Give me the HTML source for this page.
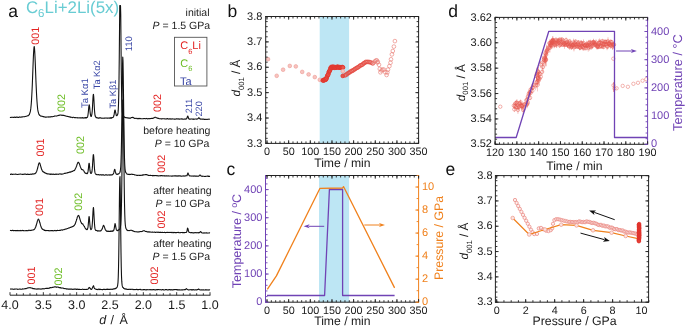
<!DOCTYPE html>
<html><head><meta charset="utf-8"><style>
html,body{margin:0;padding:0;background:#fff;}
svg{display:block;will-change:transform;}
text{font-family:"Liberation Sans", sans-serif;text-rendering:geometricPrecision;}
</style></head><body>
<svg xmlns="http://www.w3.org/2000/svg" width="685" height="327" viewBox="0 0 685 327">
<rect width="685" height="327" fill="#fff"/>
<polyline points="10.00,117.15 10.50,117.51 11.00,117.46 11.50,117.21 12.00,117.32 12.50,117.30 13.00,117.39 13.50,117.46 14.00,117.11 14.50,117.07 15.00,117.46 15.50,117.25 16.00,117.41 16.50,117.02 17.00,117.23 17.50,117.36 18.00,117.10 18.50,117.44 19.00,117.40 19.50,116.94 20.00,116.92 20.50,117.15 21.00,117.32 21.50,117.01 22.00,116.89 22.50,116.95 23.00,116.71 23.50,116.75 24.00,116.79 24.50,116.75 25.00,116.53 25.50,116.43 26.00,116.31 26.50,116.28 27.00,116.03 27.50,115.68 28.00,115.83 28.50,115.33 28.75,115.15 29.00,114.65 29.25,114.71 29.50,114.20 29.75,113.26 30.00,112.61 30.25,111.81 30.50,110.50 30.75,108.90 31.00,106.44 31.25,103.87 31.50,100.36 31.75,96.03 32.00,91.31 32.25,85.92 32.50,79.79 32.75,73.12 33.00,66.55 33.25,59.91 33.50,54.35 33.75,50.19 34.00,47.28 34.25,46.51 34.50,48.21 34.75,51.75 35.00,56.72 35.25,62.57 35.50,69.12 35.75,75.76 36.00,82.27 36.25,88.04 36.50,93.26 36.75,97.88 37.00,101.51 37.25,104.68 37.50,107.55 37.75,109.68 38.00,111.03 38.25,112.10 38.50,112.88 38.75,113.72 39.00,114.48 39.25,114.77 39.50,114.97 39.75,115.38 40.00,115.28 40.25,115.60 40.75,116.10 41.25,116.14 41.75,116.26 42.25,116.32 42.75,116.58 43.25,116.88 43.75,116.49 44.25,116.95 44.75,117.03 45.25,117.11 45.75,117.07 46.25,117.13 46.75,117.00 47.25,117.04 47.75,116.97 48.25,116.78 48.75,117.17 49.25,117.00 49.75,116.79 50.25,116.90 50.75,116.85 51.25,116.73 51.75,116.67 52.25,116.70 52.75,116.66 53.25,116.57 53.75,116.41 54.25,116.10 54.75,116.09 55.25,115.96 55.75,116.06 56.25,116.08 56.75,115.94 57.25,115.83 57.75,115.74 58.25,115.36 58.75,115.57 59.25,115.42 59.75,115.07 60.25,115.00 60.75,114.99 61.25,115.37 61.75,115.14 62.25,115.12 62.75,115.45 63.25,115.40 63.75,115.36 64.25,115.52 64.75,115.82 65.25,115.77 65.75,115.95 66.25,116.30 66.75,116.30 67.25,116.36 67.75,116.56 68.25,116.45 68.75,116.74 69.25,116.86 69.75,116.84 70.25,116.90 70.75,117.38 71.25,117.26 71.75,117.18 72.25,117.44 72.75,117.61 73.25,117.27 73.75,117.31 74.25,117.42 74.75,117.75 75.25,117.50 75.75,117.80 76.25,117.82 76.75,117.78 77.25,117.63 77.75,118.03 78.25,117.96 78.75,117.83 79.25,117.70 79.75,117.92 80.25,117.80 80.75,117.90 81.25,117.78 81.75,117.94 82.25,117.65 82.75,117.77 83.25,118.10 83.50,118.05 83.75,117.76 84.00,118.03 84.25,117.75 84.50,118.05 84.75,117.94 85.00,117.77 85.25,117.67 85.50,117.52 85.75,117.93 86.00,117.48 86.25,117.83 86.50,117.85 86.75,117.58 87.00,117.26 87.25,117.39 87.50,117.04 87.75,116.16 88.00,114.78 88.25,112.77 88.50,110.22 88.75,107.42 89.00,105.52 89.25,104.80 89.50,105.93 89.75,108.31 90.00,111.25 90.25,113.31 90.50,114.99 90.75,115.83 91.00,116.50 91.25,116.52 91.50,115.69 91.75,114.86 92.00,113.23 92.25,110.84 92.50,106.93 92.75,102.11 93.00,97.51 93.25,94.64 93.50,94.43 93.75,97.14 94.00,101.25 94.25,106.23 94.50,110.19 94.75,113.09 95.00,115.29 95.25,116.06 95.50,116.94 95.75,116.97 96.00,117.21 96.25,117.72 96.50,117.46 96.75,117.81 97.00,117.79 97.25,117.96 97.50,117.77 97.75,117.79 98.00,117.79 98.25,118.11 98.50,118.00 98.75,118.20 99.00,118.18 99.25,117.82 99.50,118.04 100.00,117.84 100.50,117.83 101.00,117.86 101.50,118.27 102.00,118.24 102.50,118.27 103.00,118.04 103.50,118.18 104.00,118.27 104.50,118.07 105.00,118.16 105.50,117.99 106.00,117.92 106.50,118.00 107.00,118.31 107.50,118.14 108.00,118.31 108.50,118.06 109.00,117.95 109.50,118.19 109.75,118.19 110.00,117.77 110.25,118.08 110.50,117.78 110.75,117.77 111.00,118.13 111.25,117.67 111.50,117.74 111.75,118.08 112.00,117.75 112.25,117.54 112.50,117.49 112.75,117.43 113.00,117.54 113.25,116.98 113.50,116.97 113.75,116.02 114.00,115.28 114.25,113.84 114.50,111.93 114.75,110.50 115.00,109.97 115.25,110.25 115.50,111.77 115.75,112.89 116.00,114.09 116.25,115.40 116.50,115.49 116.75,115.77 117.00,115.60 117.25,115.26 117.50,114.66 117.75,114.30 118.00,112.90 118.25,110.17 118.50,104.52 118.75,95.24 119.00,80.31 119.25,58.84 119.50,31.89 119.75,5.50 120.00,5.50 120.25,5.50 120.50,5.50 120.75,15.07 121.00,42.89 121.25,67.88 121.50,87.07 121.75,100.09 122.00,107.32 122.25,111.50 122.50,113.64 122.75,114.95 123.00,115.37 123.25,115.81 123.50,116.18 123.75,116.46 124.00,116.96 124.25,117.17 124.50,117.04 124.75,117.20 125.00,117.42 125.25,117.54 125.50,117.64 125.75,117.54 126.00,117.49 126.25,117.66 126.75,117.68 127.25,118.00 127.75,117.82 128.25,117.87 128.75,118.18 129.25,118.01 129.75,118.25 130.25,118.03 130.75,118.10 131.25,117.57 131.75,117.55 132.25,117.56 132.75,117.22 133.25,117.83 133.75,117.67 134.25,118.19 134.75,118.45 135.25,118.48 135.75,118.30 136.25,118.23 136.75,118.47 137.25,118.69 137.75,118.39 138.25,118.71 138.75,118.35 139.25,118.74 139.75,118.31 140.25,118.47 140.75,118.77 141.25,118.73 141.75,118.79 142.25,118.76 142.75,118.72 143.25,118.70 143.75,118.45 144.25,118.58 144.75,118.45 145.25,118.74 145.75,118.72 146.25,118.51 146.75,118.42 147.25,118.88 147.75,118.80 148.25,118.67 148.75,118.67 149.25,118.82 149.75,118.62 150.25,118.59 150.75,118.55 151.25,118.48 151.75,118.33 152.25,118.57 152.75,118.34 153.25,118.26 153.75,117.78 154.25,117.68 154.75,117.33 155.25,117.19 155.75,117.30 156.25,117.78 156.75,117.83 157.25,118.09 157.75,118.40 158.25,118.36 158.75,118.35 159.25,118.68 159.75,118.71 160.25,118.81 160.75,118.73 161.25,118.87 161.75,118.90 162.25,118.67 162.75,118.81 163.25,118.81 163.75,118.69 164.25,118.79 164.75,118.87 165.25,119.05 165.75,119.06 166.25,118.75 166.75,118.94 167.25,118.65 167.75,118.67 168.25,118.89 168.75,119.08 169.25,118.73 169.75,119.04 170.25,119.10 170.75,118.82 171.25,119.02 171.75,119.10 172.25,118.87 172.75,119.04 173.25,119.06 173.75,118.99 174.25,119.13 174.75,119.15 175.25,119.19 175.75,119.00 176.25,118.81 176.75,118.85 177.25,118.84 177.75,119.02 178.25,119.12 178.75,118.77 179.25,119.09 179.75,119.11 180.25,118.93 180.75,119.02 181.25,118.84 181.75,119.13 182.25,118.79 182.75,119.26 183.25,119.18 183.75,119.09 184.25,118.90 184.75,119.22 185.25,119.23 185.75,118.80 186.25,119.03 186.75,118.58 187.25,117.03 187.75,116.00 188.25,117.29 188.75,118.80 189.25,119.18 189.75,118.96 190.25,119.21 190.75,119.04 191.25,118.92 191.75,119.01 192.25,118.92 192.75,119.32 193.25,119.35 193.75,118.93 194.25,119.18 194.75,119.09 195.25,118.95 195.75,119.04 196.25,119.01 196.75,119.26 197.25,118.87 197.75,118.88 198.25,118.62 198.75,117.63 199.25,117.94 199.75,118.71 200.25,119.23 200.75,119.01 201.25,119.07 201.75,119.21 202.25,119.09 202.75,119.25 203.25,119.09 203.75,119.32 204.25,119.38 204.75,119.39 205.25,119.48 205.75,119.27 206.25,119.25 206.75,119.43 207.25,119.40 207.75,119.30 208.25,119.21 208.75,119.17 209.25,119.08 209.75,119.44" fill="none" stroke="#111" stroke-width="1.1" stroke-linejoin="round"/>
<polyline points="10.00,174.47 10.50,174.47 11.00,174.03 11.50,174.04 12.00,174.42 12.50,174.38 13.00,174.35 13.50,174.17 14.00,174.32 14.50,174.32 15.00,174.31 15.50,174.11 16.00,174.24 16.50,174.23 17.00,174.40 17.50,174.53 18.00,174.51 18.50,174.31 19.00,174.27 19.50,174.18 20.00,174.06 20.50,174.06 21.00,174.28 21.50,174.21 22.00,174.24 22.50,174.49 23.00,174.31 23.50,174.33 24.00,174.16 24.50,174.05 25.00,174.20 25.50,174.10 26.00,174.29 26.50,174.53 27.00,174.36 27.50,174.10 28.00,174.45 28.50,174.39 29.00,174.35 29.50,174.42 30.00,174.33 30.50,174.32 31.00,174.07 31.50,174.35 32.00,174.31 32.50,173.86 33.00,174.10 33.50,174.00 33.75,173.83 34.00,173.81 34.25,173.72 34.50,173.86 34.75,173.55 35.00,173.59 35.25,173.20 35.50,173.26 35.75,173.02 36.00,172.49 36.25,172.15 36.50,171.84 36.75,171.15 37.00,170.33 37.25,169.40 37.50,168.54 37.75,167.73 38.00,166.41 38.25,165.72 38.50,164.40 38.75,163.86 39.00,162.94 39.25,162.95 39.50,162.87 39.75,163.14 40.00,163.80 40.25,164.70 40.50,165.59 40.75,166.39 41.00,167.24 41.25,168.22 41.50,169.18 41.75,169.66 42.00,169.93 42.25,170.76 42.50,171.09 42.75,171.49 43.00,171.39 43.25,171.88 43.50,171.73 43.75,172.20 44.00,172.17 44.25,172.30 44.50,172.77 44.75,172.53 45.00,172.87 45.25,173.17 45.50,172.99 46.00,173.20 46.50,173.73 47.00,173.67 47.50,173.95 48.00,173.72 48.50,173.98 49.00,173.95 49.50,174.26 50.00,174.01 50.50,174.47 51.00,174.03 51.50,174.40 52.00,174.06 52.50,174.19 53.00,174.48 53.50,174.16 54.00,174.17 54.50,174.42 55.00,174.27 55.50,174.09 56.00,174.55 56.50,174.12 57.00,174.05 57.50,174.18 58.00,174.30 58.50,174.33 59.00,173.99 59.50,174.07 60.00,173.87 60.50,174.04 61.00,174.15 61.50,174.08 62.00,174.10 62.50,173.95 63.00,173.93 63.50,173.77 64.00,173.57 64.50,173.35 65.00,173.47 65.50,173.19 66.00,172.97 66.50,173.02 67.00,173.11 67.50,172.61 68.00,172.70 68.50,172.47 69.00,172.39 69.50,172.07 70.00,172.34 70.50,171.84 71.00,171.88 71.50,171.64 72.00,171.30 72.50,171.41 72.75,171.11 73.00,170.97 73.25,170.85 73.50,170.78 73.75,170.59 74.00,170.67 74.25,170.39 74.50,170.37 74.75,170.03 75.00,169.70 75.25,168.89 75.50,168.52 75.75,167.88 76.00,167.46 76.25,166.83 76.50,166.24 76.75,165.50 77.00,164.58 77.25,164.01 77.50,163.47 77.75,162.72 78.00,162.39 78.25,162.41 78.50,162.29 78.75,162.83 79.00,162.99 79.25,163.47 79.50,164.16 79.75,164.90 80.00,165.63 80.25,166.51 80.50,167.15 80.75,167.69 81.00,168.38 81.25,168.59 81.50,169.28 81.75,169.55 82.00,169.60 82.25,169.58 82.50,169.72 82.75,169.88 83.00,169.80 83.25,170.24 83.50,170.63 83.75,170.83 84.00,171.17 84.25,171.91 84.50,172.05 84.75,172.45 85.00,172.92 85.25,173.00 85.50,173.03 85.75,173.53 86.00,173.33 86.25,173.24 86.50,173.63 86.75,173.36 87.00,173.45 87.25,173.65 87.50,173.35 87.75,172.51 88.00,171.70 88.25,169.95 88.50,167.59 88.75,164.88 89.00,163.38 89.25,163.34 89.50,165.44 89.75,168.10 90.00,170.68 90.25,171.84 90.50,173.08 90.75,173.21 91.00,173.53 91.25,173.37 91.50,173.12 91.75,172.62 92.00,171.19 92.25,168.89 92.50,165.68 92.75,161.59 93.00,157.80 93.25,154.76 93.50,154.64 93.75,157.05 94.00,160.81 94.25,165.35 94.50,168.88 94.75,171.27 95.00,172.64 95.25,173.39 95.50,173.87 95.75,174.28 96.00,174.16 96.25,174.39 96.50,174.44 96.75,174.74 97.00,174.72 97.25,174.82 97.50,174.81 97.75,174.58 98.00,174.57 98.25,174.72 98.50,174.63 98.75,174.74 99.00,174.88 99.25,175.02 99.50,174.86 100.00,175.01 100.50,174.67 101.00,174.82 101.50,175.16 102.00,174.74 102.50,174.89 103.00,174.73 103.50,174.75 104.00,175.16 104.50,175.22 105.00,175.05 105.50,174.80 106.00,174.89 106.50,174.86 107.00,175.08 107.50,175.08 108.00,174.96 108.50,175.00 109.00,174.78 109.25,174.99 109.50,175.19 109.75,175.09 110.00,174.75 110.25,174.95 110.50,175.04 110.75,174.80 111.00,175.10 111.25,174.87 111.50,174.97 111.75,174.79 112.00,175.05 112.25,174.90 112.50,174.73 112.75,174.41 113.00,174.38 113.25,173.85 113.50,173.60 113.75,172.95 114.00,171.55 114.25,170.56 114.50,169.62 114.75,169.31 115.00,170.00 115.25,171.14 115.50,172.12 115.75,172.91 116.00,173.80 116.25,173.87 116.50,174.28 116.75,174.32 117.00,174.39 117.25,174.42 117.50,174.06 117.75,174.20 118.00,174.00 118.25,174.04 118.50,174.07 118.75,173.74 119.00,173.24 119.25,173.24 119.50,173.07 119.75,172.76 120.00,172.07 120.25,171.22 120.50,169.20 120.75,166.76 121.00,161.59 121.25,153.25 121.50,140.98 121.75,124.14 122.00,103.53 122.25,82.99 122.50,65.75 122.75,57.12 123.00,61.08 123.25,75.27 123.50,95.10 123.75,116.33 124.00,134.40 124.25,148.86 124.50,158.62 124.75,164.76 125.00,168.57 125.25,170.57 125.50,171.60 125.75,172.68 126.00,172.69 126.25,172.99 126.50,173.49 126.75,173.88 127.00,173.96 127.25,174.16 127.50,174.14 127.75,174.33 128.00,174.24 128.25,174.27 128.50,174.44 128.75,174.23 129.00,174.28 129.50,174.61 130.00,174.27 130.50,174.46 131.00,174.38 131.50,174.11 132.00,174.23 132.50,174.37 133.00,174.57 133.50,174.40 134.00,174.59 134.50,174.86 135.00,175.03 135.50,175.03 136.00,174.96 136.50,175.28 137.00,175.52 137.50,175.24 138.00,175.34 138.50,175.28 139.00,175.32 139.50,175.53 140.00,175.25 140.50,175.40 141.00,175.29 141.50,175.28 142.00,175.41 142.50,174.91 143.00,175.18 143.50,174.80 144.00,174.85 144.50,174.81 145.00,174.66 145.50,174.51 146.00,174.77 146.50,174.50 147.00,174.90 147.50,174.92 148.00,175.12 148.50,175.40 149.00,175.47 149.50,175.46 150.00,175.36 150.50,175.37 151.00,175.52 151.50,175.44 152.00,175.48 152.50,175.84 153.00,175.43 153.50,175.79 154.00,175.58 154.50,175.59 155.00,175.57 155.50,175.46 156.00,175.66 156.50,175.52 157.00,175.67 157.50,175.60 158.00,175.91 158.50,175.93 159.00,175.70 159.50,175.81 160.00,175.96 160.50,175.66 161.00,175.56 161.50,175.63 162.00,175.61 162.50,175.87 163.00,175.72 163.50,175.72 164.00,175.94 164.50,175.67 165.00,175.96 165.50,175.88 166.00,175.77 166.50,175.99 167.00,175.75 167.50,176.03 168.00,176.05 168.50,175.85 169.00,175.95 169.50,176.08 170.00,175.99 170.50,176.00 171.00,176.06 171.50,176.10 172.00,176.01 172.50,176.13 173.00,175.79 173.50,175.96 174.00,175.99 174.50,175.85 175.00,175.87 175.50,175.76 176.00,176.16 176.50,175.86 177.00,175.93 177.50,176.14 178.00,175.79 178.50,176.19 179.00,175.77 179.50,175.73 180.00,175.90 180.50,175.90 181.00,176.19 181.50,176.17 182.00,176.12 182.50,175.96 183.00,176.02 183.50,175.86 184.00,176.16 184.50,175.94 185.00,175.89 185.50,176.05 186.00,175.79 186.50,175.80 187.00,175.72 187.50,174.02 188.00,172.88 188.50,174.09 189.00,175.40 189.50,175.88 190.00,175.88 190.50,175.96 191.00,175.93 191.50,175.94 192.00,176.14 192.50,176.01 193.00,176.03 193.50,176.24 194.00,175.89 194.50,175.94 195.00,176.30 195.50,176.09 196.00,176.27 196.50,175.95 197.00,176.15 197.50,176.31 198.00,176.04 198.50,176.23 199.00,175.97 199.50,175.27 200.00,175.03 200.50,175.28 201.00,175.93 201.50,176.19 202.00,176.08 202.50,176.35 203.00,176.25 203.50,176.25 204.00,176.23 204.50,176.47 205.00,176.47 205.50,176.41 206.00,176.22 206.50,176.20 207.00,176.27 207.50,176.03 208.00,176.07 208.50,176.52 209.00,176.09 209.50,176.50 210.00,176.38" fill="none" stroke="#111" stroke-width="1.1" stroke-linejoin="round"/>
<polyline points="10.00,230.40 10.50,230.55 11.00,230.47 11.50,230.59 12.00,230.61 12.50,230.33 13.00,230.31 13.50,230.72 14.00,230.44 14.50,230.43 15.00,230.81 15.50,230.55 16.00,230.74 16.50,230.56 17.00,230.65 17.50,230.40 18.00,230.65 18.50,230.77 19.00,230.60 19.50,230.71 20.00,230.67 20.50,230.37 21.00,230.72 21.50,230.64 22.00,230.49 22.50,230.35 23.00,230.77 23.50,230.57 24.00,230.69 24.50,230.77 25.00,230.68 25.50,230.78 26.00,230.51 26.50,230.70 27.00,230.51 27.50,230.74 28.00,230.70 28.50,230.29 29.00,230.29 29.50,230.30 30.00,230.65 30.50,230.35 31.00,230.40 31.50,230.17 32.00,230.20 32.50,230.04 32.75,229.96 33.00,230.00 33.25,229.91 33.50,229.95 33.75,229.70 34.00,229.65 34.25,229.40 34.50,229.20 34.75,228.72 35.00,228.08 35.25,227.97 35.50,227.49 35.75,226.84 36.00,225.98 36.25,225.27 36.50,224.18 36.75,223.61 37.00,222.57 37.25,221.53 37.50,220.59 37.75,220.27 38.00,219.81 38.25,219.06 38.50,219.39 38.75,219.44 39.00,219.80 39.25,220.56 39.50,221.61 39.75,222.55 40.00,223.05 40.25,224.23 40.50,224.80 40.75,225.93 41.00,226.45 41.25,227.36 41.50,227.97 41.75,228.21 42.00,228.86 42.25,228.85 42.50,229.01 42.75,229.49 43.00,229.40 43.25,229.63 43.50,229.86 43.75,230.06 44.00,229.91 44.25,229.92 44.50,230.39 45.00,230.21 45.50,230.60 46.00,230.63 46.50,230.42 47.00,230.50 47.50,230.56 48.00,230.65 48.50,230.64 49.00,230.65 49.50,230.69 50.00,230.86 50.50,230.66 51.00,230.63 51.50,230.78 52.00,230.54 52.50,230.57 53.00,230.91 53.50,230.68 54.00,230.68 54.50,230.41 55.00,230.60 55.50,230.67 56.00,230.37 56.50,230.65 57.00,230.63 57.50,230.31 58.00,230.56 58.50,230.45 59.00,230.51 59.50,230.30 60.00,230.42 60.50,230.37 61.00,229.94 61.50,229.88 62.00,230.11 62.50,230.16 63.00,229.70 63.50,229.69 64.00,229.64 64.50,229.38 65.00,229.27 65.50,229.10 66.00,228.97 66.50,228.93 67.00,228.61 67.50,228.48 68.00,228.50 68.50,227.94 69.00,228.03 69.50,227.92 70.00,227.52 70.50,227.29 71.00,227.40 71.50,226.93 72.00,226.72 72.50,226.63 72.75,226.65 73.00,226.22 73.25,226.19 73.50,226.03 73.75,226.08 74.00,225.65 74.25,225.58 74.50,224.91 74.75,224.61 75.00,224.31 75.25,223.90 75.50,223.08 75.75,222.29 76.00,221.50 76.25,220.90 76.50,219.88 76.75,219.32 77.00,218.47 77.25,217.32 77.50,216.62 77.75,216.28 78.00,215.76 78.25,215.63 78.50,215.43 78.75,215.58 79.00,216.15 79.25,217.06 79.50,217.57 79.75,218.45 80.00,219.35 80.25,220.18 80.50,220.95 80.75,221.89 81.00,222.09 81.25,222.48 81.50,223.32 81.75,223.55 82.00,223.79 82.25,223.66 82.50,224.06 82.75,224.22 83.00,224.10 83.25,224.69 83.50,225.14 83.75,225.52 84.00,225.95 84.25,226.34 84.50,226.87 84.75,227.27 85.00,227.62 85.25,228.25 85.50,228.42 85.75,228.95 86.00,228.79 86.25,229.39 86.50,229.41 86.75,229.60 87.00,229.61 87.25,229.54 87.50,229.13 87.75,228.22 88.00,227.30 88.25,224.81 88.50,221.83 88.75,218.76 89.00,216.54 89.25,216.77 89.50,219.57 89.75,222.74 90.00,225.55 90.25,227.53 90.50,228.99 90.75,229.34 91.00,229.67 91.25,229.39 91.50,229.00 91.75,228.44 92.00,227.15 92.25,224.36 92.50,220.99 92.75,216.40 93.00,211.56 93.25,208.21 93.50,207.48 93.75,210.70 94.00,215.52 94.25,219.95 94.50,224.04 94.75,226.81 95.00,228.64 95.25,229.52 95.50,230.04 95.75,230.47 96.00,230.24 96.25,230.38 96.50,230.50 96.75,230.57 97.00,230.60 97.25,231.10 97.50,231.07 97.75,230.72 98.00,230.95 98.25,230.88 98.50,230.89 98.75,230.92 99.00,231.08 99.25,231.05 99.50,230.93 99.75,230.83 100.00,230.88 100.25,230.75 100.50,230.91 100.75,230.90 101.00,230.60 101.25,230.25 101.50,230.01 101.75,229.72 102.00,229.32 102.25,228.77 102.50,227.83 102.75,227.25 103.00,226.40 103.25,225.70 103.50,225.34 103.75,225.45 104.00,225.96 104.25,226.48 104.50,227.40 104.75,228.08 105.00,228.70 105.25,229.47 105.50,230.06 105.75,230.13 106.00,230.59 106.25,230.78 106.50,231.15 106.75,231.27 107.00,231.05 107.25,231.36 107.50,231.34 107.75,231.10 108.00,231.22 108.25,231.07 108.50,231.43 108.75,231.36 109.00,231.48 109.25,231.44 109.50,231.38 109.75,231.42 110.00,231.33 110.25,231.10 110.50,231.34 110.75,231.04 111.00,231.10 111.25,231.40 111.50,231.02 111.75,231.02 112.00,231.00 112.25,231.36 112.50,230.97 112.75,230.83 113.00,231.15 113.25,230.65 113.50,230.76 113.75,230.21 114.00,229.50 114.25,228.35 114.50,226.58 114.75,225.06 115.00,223.59 115.25,224.06 115.50,225.14 115.75,226.85 116.00,228.01 116.25,229.40 116.50,230.15 116.75,230.06 117.00,230.34 117.25,230.51 117.50,230.63 117.75,230.30 118.00,230.19 118.25,230.13 118.50,230.20 118.75,230.11 119.00,229.75 119.25,229.51 119.50,229.24 119.75,228.85 120.00,228.39 120.25,227.48 120.50,226.46 120.75,224.54 121.00,220.41 121.25,213.93 121.50,202.93 121.75,187.43 122.00,166.60 122.25,142.15 122.50,117.74 122.75,100.00 123.00,100.00 123.25,100.00 123.50,117.57 123.75,141.88 124.00,166.62 124.25,187.59 124.50,203.16 124.75,213.83 125.00,220.62 125.25,224.22 125.50,226.42 125.75,227.62 126.00,228.56 126.25,228.93 126.50,229.26 126.75,229.78 127.00,230.15 127.25,230.01 127.50,230.37 127.75,230.34 128.00,230.66 128.25,230.60 128.50,230.49 128.75,230.49 129.00,230.40 129.50,230.60 130.00,230.47 130.50,230.25 131.00,230.27 131.50,230.25 132.00,230.59 132.50,230.47 133.00,231.13 133.50,231.09 134.00,231.35 134.50,231.43 135.00,231.73 135.50,231.80 136.00,231.73 136.50,231.73 137.00,231.88 137.50,231.96 138.00,231.74 138.50,231.91 139.00,232.01 139.50,231.73 140.00,231.57 140.50,231.50 141.00,231.64 141.50,231.50 142.00,231.51 142.50,231.31 143.00,230.87 143.50,230.75 144.00,230.76 144.50,230.77 145.00,231.15 145.50,231.38 146.00,231.57 146.50,231.41 147.00,231.86 147.50,231.70 148.00,231.85 148.50,232.08 149.00,231.81 149.50,231.86 150.00,232.26 150.50,232.02 151.00,232.07 151.50,232.20 152.00,232.26 152.50,231.94 153.00,232.12 153.50,232.18 154.00,232.22 154.50,232.09 155.00,232.29 155.50,232.48 156.00,232.21 156.50,232.30 157.00,232.09 157.50,232.18 158.00,232.38 158.50,232.11 159.00,232.51 159.50,232.53 160.00,232.13 160.50,232.56 161.00,232.28 161.50,232.49 162.00,232.49 162.50,232.27 163.00,232.47 163.50,232.46 164.00,232.55 164.50,232.28 165.00,232.53 165.50,232.64 166.00,232.51 166.50,232.45 167.00,232.24 167.50,232.44 168.00,232.37 168.50,232.56 169.00,232.55 169.50,232.50 170.00,232.32 170.50,232.56 171.00,232.55 171.50,232.34 172.00,232.70 172.50,232.59 173.00,232.33 173.50,232.74 174.00,232.35 174.50,232.45 175.00,232.65 175.50,232.60 176.00,232.58 176.50,232.63 177.00,232.54 177.50,232.48 178.00,232.42 178.50,232.37 179.00,232.70 179.50,232.72 180.00,232.62 180.50,232.73 181.00,232.54 181.50,232.50 182.00,232.56 182.50,232.81 183.00,232.40 183.50,232.63 184.00,232.50 184.50,232.76 185.00,232.54 185.50,232.51 186.00,232.49 186.50,232.32 187.00,231.12 187.50,228.11 188.00,228.88 188.50,231.23 189.00,232.31 189.50,232.40 190.00,232.46 190.50,232.82 191.00,232.82 191.50,232.56 192.00,232.58 192.50,232.70 193.00,232.88 193.50,232.92 194.00,232.90 194.50,232.82 195.00,232.61 195.50,232.74 196.00,232.64 196.50,232.82 197.00,232.84 197.50,232.66 198.00,232.68 198.50,232.94 199.00,232.53 199.50,232.73 200.00,232.14 200.50,231.59 201.00,231.90 201.50,232.63 202.00,232.85 202.50,232.92 203.00,233.11 203.50,232.98 204.00,232.80 204.50,233.08 205.00,232.91 205.50,232.97 206.00,233.04 206.50,232.69 207.00,233.08 207.50,233.03 208.00,232.95 208.50,232.97 209.00,232.95 209.50,232.82 210.00,233.00" fill="none" stroke="#111" stroke-width="1.1" stroke-linejoin="round"/>
<polyline points="10.00,289.02 10.50,288.95 11.00,289.10 11.50,288.98 12.00,288.94 12.50,289.10 13.00,289.36 13.50,289.30 14.00,289.28 14.50,289.01 15.00,289.17 15.50,289.04 16.00,288.98 16.50,288.95 17.00,289.00 17.50,289.35 18.00,289.30 18.50,289.28 19.00,289.28 19.50,288.97 20.00,289.02 20.50,289.17 21.00,289.21 21.50,289.26 22.00,289.26 22.50,288.84 23.00,289.07 23.50,289.06 24.00,288.92 24.50,288.69 25.00,288.74 25.50,288.44 26.00,288.73 26.50,288.54 27.00,288.21 27.50,287.91 28.00,288.05 28.50,287.74 29.00,287.80 29.50,287.76 30.00,287.64 30.50,287.71 31.00,287.95 31.50,288.04 32.00,288.08 32.50,288.31 33.00,288.71 33.50,288.44 34.00,288.54 34.50,288.91 35.00,288.80 35.50,288.97 36.00,288.97 36.50,288.93 37.00,289.27 37.50,288.87 38.00,288.98 38.50,288.88 39.00,289.09 39.50,288.90 40.00,288.93 40.50,289.11 41.00,288.88 41.50,288.98 42.00,289.12 42.50,288.69 43.00,288.64 43.50,288.68 44.00,288.91 44.50,288.78 45.00,288.54 45.50,288.52 46.00,288.38 46.50,288.45 47.00,288.16 47.50,288.40 48.00,288.41 48.50,288.35 49.00,288.14 49.50,288.15 50.00,287.57 50.50,287.60 51.00,287.84 51.50,287.64 52.00,287.36 52.50,287.53 53.00,287.29 53.50,287.32 54.00,287.00 54.50,286.91 55.00,287.02 55.50,286.86 56.00,287.01 56.50,287.33 57.00,287.07 57.50,286.99 58.00,287.09 58.50,287.24 59.00,287.65 59.50,287.55 60.00,287.62 60.50,287.64 61.00,288.19 61.50,288.02 62.00,288.01 62.50,288.04 63.00,288.13 63.50,288.28 64.00,288.62 64.50,288.43 65.00,288.45 65.50,288.74 66.00,288.68 66.50,289.11 67.00,288.73 67.50,288.98 68.00,289.14 68.50,288.99 69.00,289.32 69.50,289.09 70.00,289.00 70.50,289.11 71.00,288.94 71.50,289.15 72.00,289.08 72.50,289.42 73.00,289.40 73.50,289.25 74.00,289.02 74.50,289.14 75.00,289.15 75.50,289.14 76.00,289.16 76.50,289.48 77.00,289.13 77.50,289.09 78.00,289.53 78.50,289.36 79.00,289.57 79.50,289.28 80.00,289.54 80.50,289.42 81.00,289.49 81.50,289.47 82.00,289.35 82.50,289.15 83.00,289.21 83.50,289.54 84.00,289.56 84.50,289.57 85.00,289.28 85.50,289.43 86.00,289.50 86.50,289.41 87.00,289.48 87.50,289.30 88.00,289.23 88.50,288.73 89.00,287.53 89.50,287.41 90.00,288.28 90.50,288.65 91.00,289.39 91.50,289.37 92.00,288.89 92.50,287.64 93.00,286.61 93.50,285.66 94.00,287.25 94.50,288.44 95.00,288.82 95.50,289.10 96.00,289.40 96.50,289.39 97.00,289.50 97.50,289.60 98.00,289.26 98.50,289.16 99.00,289.62 99.50,289.17 100.00,289.60 100.50,289.23 101.00,289.57 101.50,289.56 102.00,289.61 102.50,289.44 103.00,289.61 103.50,289.27 104.00,289.50 104.50,289.33 105.00,289.61 105.50,289.54 106.00,289.39 106.50,289.41 107.00,289.15 107.50,289.15 108.00,289.42 108.50,289.36 109.00,289.53 109.50,289.39 110.00,289.14 110.50,289.23 111.00,289.41 111.50,289.26 112.00,288.97 112.50,289.34 113.00,289.28 113.50,288.84 114.00,288.99 114.25,288.86 114.50,289.00 114.75,288.70 115.00,288.58 115.25,288.62 115.50,288.76 115.75,288.20 116.00,288.07 116.25,288.15 116.50,288.07 116.75,287.62 117.00,287.24 117.25,286.98 117.50,286.18 117.75,284.48 118.00,282.32 118.25,277.16 118.50,268.75 118.75,255.62 119.00,236.78 119.25,214.72 119.50,192.73 119.75,178.44 120.00,176.61 120.25,189.01 120.50,210.02 120.75,232.49 121.00,252.16 121.25,266.81 121.50,276.07 121.75,281.16 122.00,284.23 122.25,285.88 122.50,286.69 122.75,287.32 123.00,287.57 123.25,287.64 123.50,287.95 123.75,288.43 124.00,288.34 124.25,288.67 124.50,288.89 124.75,288.80 125.00,288.91 125.25,288.94 125.50,288.86 125.75,289.21 126.00,289.03 126.50,289.34 127.00,289.10 127.50,289.43 128.00,289.43 128.50,289.38 129.00,289.33 129.50,289.21 130.00,289.54 130.50,289.36 131.00,289.53 131.50,289.28 132.00,289.27 132.50,289.31 133.00,289.65 133.50,289.35 134.00,289.72 134.50,289.47 135.00,289.58 135.50,289.47 136.00,289.61 136.50,289.36 137.00,289.52 137.50,289.79 138.00,289.42 138.50,289.66 139.00,289.50 139.50,289.49 140.00,289.36 140.50,289.36 141.00,289.83 141.50,289.77 142.00,289.76 142.50,289.77 143.00,289.85 143.50,289.45 144.00,289.67 144.50,289.63 145.00,289.67 145.50,289.85 146.00,289.77 146.50,289.88 147.00,289.45 147.50,289.72 148.00,289.74 148.50,289.77 149.00,289.71 149.50,289.82 150.00,289.56 150.50,289.88 151.00,289.62 151.50,289.72 152.00,289.87 152.50,289.77 153.00,289.58 153.50,289.54 154.00,289.59 154.50,289.75 155.00,289.93 155.50,289.89 156.00,289.64 156.50,289.64 157.00,289.85 157.50,289.59 158.00,289.65 158.50,289.46 159.00,289.54 159.50,289.72 160.00,289.80 160.50,289.77 161.00,289.64 161.50,289.94 162.00,289.78 162.50,289.54 163.00,289.50 163.50,289.96 164.00,289.97 164.50,289.93 165.00,289.78 165.50,289.63 166.00,289.53 166.50,289.61 167.00,289.60 167.50,289.95 168.00,289.93 168.50,289.88 169.00,289.57 169.50,289.61 170.00,289.65 170.50,289.97 171.00,289.58 171.50,289.90 172.00,289.84 172.50,289.78 173.00,289.99 173.50,289.64 174.00,289.77 174.50,289.59 175.00,289.56 175.50,289.53 176.00,289.68 176.50,289.58 177.00,289.55 177.50,290.02 178.00,289.67 178.50,289.97 179.00,289.88 179.50,289.90 180.00,289.86 180.50,290.01 181.00,289.97 181.50,289.89 182.00,289.82 182.50,289.88 183.00,289.90 183.50,289.81 184.00,289.78 184.50,289.59 185.00,289.89 185.50,289.53 186.00,288.90 186.50,288.64 187.00,289.31 187.50,289.42 188.00,289.68 188.50,289.87 189.00,289.98 189.50,289.72 190.00,289.75 190.50,289.77 191.00,289.58 191.50,290.01 192.00,289.58 192.50,290.05 193.00,289.65 193.50,289.65 194.00,290.00 194.50,289.99 195.00,289.69 195.50,289.85 196.00,289.81 196.50,289.92 197.00,289.62 197.50,289.80 198.00,289.51 198.50,288.97 199.00,289.28 199.50,289.74 200.00,289.69 200.50,289.99 201.00,290.00 201.50,289.89 202.00,289.66 202.50,289.92 203.00,290.07 203.50,289.77 204.00,289.94 204.50,290.07 205.00,289.92 205.50,289.64 206.00,289.94 206.50,289.76 207.00,290.06 207.50,289.96 208.00,289.79 208.50,290.09 209.00,289.95 209.50,289.81 210.00,290.06" fill="none" stroke="#111" stroke-width="1.1" stroke-linejoin="round"/>
<line x1="10.00" y1="295.20" x2="210.40" y2="295.20" stroke="#222" stroke-width="1"/>
<line x1="10.00" y1="295.20" x2="10.00" y2="292.20" stroke="#222" stroke-width="0.9"/>
<line x1="16.67" y1="295.20" x2="16.67" y2="293.20" stroke="#222" stroke-width="0.9"/>
<line x1="23.33" y1="295.20" x2="23.33" y2="293.20" stroke="#222" stroke-width="0.9"/>
<line x1="30.00" y1="295.20" x2="30.00" y2="293.20" stroke="#222" stroke-width="0.9"/>
<line x1="36.67" y1="295.20" x2="36.67" y2="293.20" stroke="#222" stroke-width="0.9"/>
<line x1="43.33" y1="295.20" x2="43.33" y2="292.20" stroke="#222" stroke-width="0.9"/>
<line x1="50.00" y1="295.20" x2="50.00" y2="293.20" stroke="#222" stroke-width="0.9"/>
<line x1="56.67" y1="295.20" x2="56.67" y2="293.20" stroke="#222" stroke-width="0.9"/>
<line x1="63.33" y1="295.20" x2="63.33" y2="293.20" stroke="#222" stroke-width="0.9"/>
<line x1="70.00" y1="295.20" x2="70.00" y2="293.20" stroke="#222" stroke-width="0.9"/>
<line x1="76.67" y1="295.20" x2="76.67" y2="292.20" stroke="#222" stroke-width="0.9"/>
<line x1="83.33" y1="295.20" x2="83.33" y2="293.20" stroke="#222" stroke-width="0.9"/>
<line x1="90.00" y1="295.20" x2="90.00" y2="293.20" stroke="#222" stroke-width="0.9"/>
<line x1="96.67" y1="295.20" x2="96.67" y2="293.20" stroke="#222" stroke-width="0.9"/>
<line x1="103.33" y1="295.20" x2="103.33" y2="293.20" stroke="#222" stroke-width="0.9"/>
<line x1="110.00" y1="295.20" x2="110.00" y2="292.20" stroke="#222" stroke-width="0.9"/>
<line x1="116.67" y1="295.20" x2="116.67" y2="293.20" stroke="#222" stroke-width="0.9"/>
<line x1="123.33" y1="295.20" x2="123.33" y2="293.20" stroke="#222" stroke-width="0.9"/>
<line x1="130.00" y1="295.20" x2="130.00" y2="293.20" stroke="#222" stroke-width="0.9"/>
<line x1="136.67" y1="295.20" x2="136.67" y2="293.20" stroke="#222" stroke-width="0.9"/>
<line x1="143.33" y1="295.20" x2="143.33" y2="292.20" stroke="#222" stroke-width="0.9"/>
<line x1="150.00" y1="295.20" x2="150.00" y2="293.20" stroke="#222" stroke-width="0.9"/>
<line x1="156.67" y1="295.20" x2="156.67" y2="293.20" stroke="#222" stroke-width="0.9"/>
<line x1="163.33" y1="295.20" x2="163.33" y2="293.20" stroke="#222" stroke-width="0.9"/>
<line x1="170.00" y1="295.20" x2="170.00" y2="293.20" stroke="#222" stroke-width="0.9"/>
<line x1="176.67" y1="295.20" x2="176.67" y2="292.20" stroke="#222" stroke-width="0.9"/>
<line x1="183.33" y1="295.20" x2="183.33" y2="293.20" stroke="#222" stroke-width="0.9"/>
<line x1="190.00" y1="295.20" x2="190.00" y2="293.20" stroke="#222" stroke-width="0.9"/>
<line x1="196.67" y1="295.20" x2="196.67" y2="293.20" stroke="#222" stroke-width="0.9"/>
<line x1="203.33" y1="295.20" x2="203.33" y2="293.20" stroke="#222" stroke-width="0.9"/>
<line x1="210.00" y1="295.20" x2="210.00" y2="292.20" stroke="#222" stroke-width="0.9"/>
<text x="10.0" y="309.3" font-size="12.5" fill="#1a1a1a" text-anchor="middle">4.0</text>
<text x="43.33" y="309.3" font-size="12.5" fill="#1a1a1a" text-anchor="middle">3.5</text>
<text x="76.67" y="309.3" font-size="12.5" fill="#1a1a1a" text-anchor="middle">3.0</text>
<text x="110.0" y="309.3" font-size="12.5" fill="#1a1a1a" text-anchor="middle">2.5</text>
<text x="143.33" y="309.3" font-size="12.5" fill="#1a1a1a" text-anchor="middle">2.0</text>
<text x="176.67" y="309.3" font-size="12.5" fill="#1a1a1a" text-anchor="middle">1.5</text>
<text x="210.0" y="309.3" font-size="12.5" fill="#1a1a1a" text-anchor="middle">1.0</text>
<text y="324.3" font-size="12.5" fill="#1a1a1a"><tspan x="99.3" font-style="italic">d</tspan><tspan x="110.6">/</tspan><tspan x="119.6">Å</tspan></text>
<text x="8.3" y="17" font-size="17.5" fill="#111" text-anchor="start">a</text>
<text x="25.9" y="13.1" font-size="16.9" fill="#68ccd3">C<tspan font-size="11.5" dy="3.6">6</tspan><tspan dy="-3.6">Li+2Li(5x)</tspan></text>
<text x="209.5" y="15.9" font-size="10.5" fill="#1a1a1a" text-anchor="end">initial</text>
<text x="210.1" y="29" font-size="10.5" fill="#1a1a1a" text-anchor="end"><tspan font-style="italic">P</tspan> = 1.5 GPa</text>
<rect x="174.5" y="37.3" width="32.4" height="48.7" fill="none" stroke="#555" stroke-width="0.9"/>
<text x="180.2" y="49.4" font-size="11" fill="#e32322">C<tspan font-size="7.5" dy="4.5">6</tspan><tspan dy="-4.5">Li</tspan></text>
<text x="180.2" y="66.9" font-size="11" fill="#6cbd24">C<tspan font-size="7.5" dy="4.5">6</tspan></text>
<text x="180.0" y="84.8" font-size="11" fill="#3a47a6">Ta</text>
<text x="39.4" y="44.8" font-size="10.8" fill="#e32322" transform="rotate(-90 39.4 44.8)">001</text>
<text x="65.4" y="112.0" font-size="10.8" fill="#6cbd24" transform="rotate(-90 65.4 112.0)">002</text>
<text x="160.6" y="112.0" font-size="10.8" fill="#e32322" transform="rotate(-90 160.6 112.0)">002</text>
<text x="44.2" y="156.4" font-size="10.8" fill="#e32322" transform="rotate(-90 44.2 156.4)">001</text>
<text x="83.8" y="154.0" font-size="10.8" fill="#6cbd24" transform="rotate(-90 83.8 154.0)">002</text>
<text x="164.6" y="172.8" font-size="10.8" fill="#e32322" transform="rotate(-90 164.6 172.8)">002</text>
<text x="42.6" y="216.0" font-size="10.8" fill="#e32322" transform="rotate(-90 42.6 216.0)">001</text>
<text x="82.2" y="210.8" font-size="10.8" fill="#6cbd24" transform="rotate(-90 82.2 210.8)">002</text>
<text x="164.6" y="228.4" font-size="10.8" fill="#e32322" transform="rotate(-90 164.6 228.4)">002</text>
<text x="34.6" y="284.4" font-size="10.8" fill="#e32322" transform="rotate(-90 34.6 284.4)">001</text>
<text x="61.8" y="285.6" font-size="10.8" fill="#6cbd24" transform="rotate(-90 61.8 285.6)">002</text>
<text x="157.6" y="284.4" font-size="10.8" fill="#e32322" transform="rotate(-90 157.6 284.4)">002</text>
<text x="87.9" y="108.1" font-size="9.5" fill="#3a47a6" transform="rotate(-90 87.9 108.1)">Ta K&#945;1</text>
<text x="100" y="89.2" font-size="9.2" fill="#3a47a6" transform="rotate(-90 100 89.2)">Ta K&#945;2</text>
<text x="116" y="108.5" font-size="9.2" fill="#3a47a6" transform="rotate(-90 116 108.5)">Ta K&#946;1</text>
<text x="131.8" y="51.3" font-size="9.5" fill="#3a47a6" transform="rotate(-90 131.8 51.3)">110</text>
<text x="191.9" y="113.2" font-size="9.2" fill="#3a47a6" transform="rotate(-90 191.9 113.2)">211</text>
<text x="202.2" y="116.5" font-size="9.2" fill="#3a47a6" transform="rotate(-90 202.2 116.5)">220</text>
<text x="210.4" y="134.0" font-size="10.5" fill="#1a1a1a" text-anchor="end">before heating</text>
<text x="209.3" y="147" font-size="10.5" fill="#1a1a1a" text-anchor="end"><tspan font-style="italic">P</tspan> = 10 GPa</text>
<text x="211.6" y="193.5" font-size="10.5" fill="#1a1a1a" text-anchor="end">after heating</text>
<text x="210.2" y="206.5" font-size="10.5" fill="#1a1a1a" text-anchor="end"><tspan font-style="italic">P</tspan> = 10 GPa</text>
<text x="211.6" y="247.3" font-size="10.5" fill="#1a1a1a" text-anchor="end">after heating</text>
<text x="210.1" y="260.1" font-size="10.5" fill="#1a1a1a" text-anchor="end"><tspan font-style="italic">P</tspan> = 1.5 GPa</text>
<rect x="319.7" y="16.5" width="29.4" height="126.9" fill="#bde6f4"/>
<text x="227.6" y="17" font-size="17.5" fill="#111" text-anchor="start">b</text>
<circle cx="268.00" cy="59.20" r="1.85" fill="#f7c4c0" stroke="#ec9a93" stroke-width="0.6"/>
<circle cx="276.70" cy="75.80" r="1.85" fill="#f7c4c0" stroke="#ec9a93" stroke-width="0.6"/>
<circle cx="283.10" cy="69.70" r="1.85" fill="#f7c4c0" stroke="#ec9a93" stroke-width="0.6"/>
<circle cx="289.80" cy="65.90" r="1.85" fill="#f7c4c0" stroke="#ec9a93" stroke-width="0.6"/>
<circle cx="295.80" cy="66.40" r="1.85" fill="#f7c4c0" stroke="#ec9a93" stroke-width="0.6"/>
<circle cx="302.20" cy="71.90" r="1.85" fill="#f7c4c0" stroke="#ec9a93" stroke-width="0.6"/>
<circle cx="308.60" cy="74.40" r="1.85" fill="#f7c4c0" stroke="#ec9a93" stroke-width="0.6"/>
<circle cx="314.80" cy="77.10" r="1.85" fill="#f7c4c0" stroke="#ec9a93" stroke-width="0.6"/>
<circle cx="319.80" cy="79.80" r="1.85" fill="#f7c4c0" stroke="#ec9a93" stroke-width="0.6"/>
<circle cx="322.80" cy="80.42" r="1.9" fill="#e8574e" stroke="#e0352c" stroke-width="0.8"/>
<circle cx="323.25" cy="80.10" r="1.9" fill="#e8574e" stroke="#e0352c" stroke-width="0.8"/>
<circle cx="323.70" cy="80.45" r="1.9" fill="#e8574e" stroke="#e0352c" stroke-width="0.8"/>
<circle cx="324.15" cy="79.72" r="1.9" fill="#e8574e" stroke="#e0352c" stroke-width="0.8"/>
<circle cx="324.60" cy="80.04" r="1.9" fill="#e8574e" stroke="#e0352c" stroke-width="0.8"/>
<circle cx="325.05" cy="79.72" r="1.9" fill="#e8574e" stroke="#e0352c" stroke-width="0.8"/>
<circle cx="325.50" cy="79.26" r="1.9" fill="#e8574e" stroke="#e0352c" stroke-width="0.8"/>
<circle cx="325.95" cy="79.56" r="1.9" fill="#e8574e" stroke="#e0352c" stroke-width="0.8"/>
<circle cx="326.20" cy="78.64" r="1.9" fill="#e8574e" stroke="#e0352c" stroke-width="0.8"/>
<circle cx="326.62" cy="78.07" r="1.9" fill="#e8574e" stroke="#e0352c" stroke-width="0.8"/>
<circle cx="327.04" cy="76.58" r="1.9" fill="#e8574e" stroke="#e0352c" stroke-width="0.8"/>
<circle cx="327.46" cy="75.56" r="1.9" fill="#e8574e" stroke="#e0352c" stroke-width="0.8"/>
<circle cx="327.88" cy="74.91" r="1.9" fill="#e8574e" stroke="#e0352c" stroke-width="0.8"/>
<circle cx="328.30" cy="74.34" r="1.9" fill="#e8574e" stroke="#e0352c" stroke-width="0.8"/>
<circle cx="328.72" cy="72.45" r="1.9" fill="#e8574e" stroke="#e0352c" stroke-width="0.8"/>
<circle cx="329.14" cy="71.52" r="1.9" fill="#e8574e" stroke="#e0352c" stroke-width="0.8"/>
<circle cx="329.56" cy="70.95" r="1.9" fill="#e8574e" stroke="#e0352c" stroke-width="0.8"/>
<circle cx="329.98" cy="70.29" r="1.9" fill="#e8574e" stroke="#e0352c" stroke-width="0.8"/>
<circle cx="330.40" cy="68.79" r="1.9" fill="#e8574e" stroke="#e0352c" stroke-width="0.8"/>
<circle cx="330.82" cy="67.53" r="1.9" fill="#e8574e" stroke="#e0352c" stroke-width="0.8"/>
<circle cx="331.00" cy="67.97" r="1.9" fill="#e8574e" stroke="#e0352c" stroke-width="0.8"/>
<circle cx="331.48" cy="66.86" r="1.9" fill="#e8574e" stroke="#e0352c" stroke-width="0.8"/>
<circle cx="331.96" cy="67.83" r="1.9" fill="#e8574e" stroke="#e0352c" stroke-width="0.8"/>
<circle cx="332.44" cy="67.15" r="1.9" fill="#e8574e" stroke="#e0352c" stroke-width="0.8"/>
<circle cx="332.92" cy="66.97" r="1.9" fill="#e8574e" stroke="#e0352c" stroke-width="0.8"/>
<circle cx="333.40" cy="66.94" r="1.9" fill="#e8574e" stroke="#e0352c" stroke-width="0.8"/>
<circle cx="333.88" cy="67.17" r="1.9" fill="#e8574e" stroke="#e0352c" stroke-width="0.8"/>
<circle cx="334.36" cy="67.78" r="1.9" fill="#e8574e" stroke="#e0352c" stroke-width="0.8"/>
<circle cx="334.84" cy="67.02" r="1.9" fill="#e8574e" stroke="#e0352c" stroke-width="0.8"/>
<circle cx="335.32" cy="67.50" r="1.9" fill="#e8574e" stroke="#e0352c" stroke-width="0.8"/>
<circle cx="335.80" cy="67.57" r="1.9" fill="#e8574e" stroke="#e0352c" stroke-width="0.8"/>
<circle cx="336.28" cy="67.25" r="1.9" fill="#e8574e" stroke="#e0352c" stroke-width="0.8"/>
<circle cx="336.76" cy="67.46" r="1.9" fill="#e8574e" stroke="#e0352c" stroke-width="0.8"/>
<circle cx="337.24" cy="66.88" r="1.9" fill="#e8574e" stroke="#e0352c" stroke-width="0.8"/>
<circle cx="337.72" cy="66.87" r="1.9" fill="#e8574e" stroke="#e0352c" stroke-width="0.8"/>
<circle cx="338.20" cy="67.05" r="1.9" fill="#e8574e" stroke="#e0352c" stroke-width="0.8"/>
<circle cx="338.68" cy="67.62" r="1.9" fill="#e8574e" stroke="#e0352c" stroke-width="0.8"/>
<circle cx="339.16" cy="67.31" r="1.9" fill="#e8574e" stroke="#e0352c" stroke-width="0.8"/>
<circle cx="339.64" cy="67.18" r="1.9" fill="#e8574e" stroke="#e0352c" stroke-width="0.8"/>
<circle cx="340.12" cy="67.50" r="1.9" fill="#e8574e" stroke="#e0352c" stroke-width="0.8"/>
<circle cx="340.60" cy="67.34" r="1.9" fill="#e8574e" stroke="#e0352c" stroke-width="0.8"/>
<circle cx="341.08" cy="67.16" r="1.9" fill="#e8574e" stroke="#e0352c" stroke-width="0.8"/>
<circle cx="341.56" cy="67.75" r="1.9" fill="#e8574e" stroke="#e0352c" stroke-width="0.8"/>
<circle cx="342.04" cy="67.64" r="1.9" fill="#e8574e" stroke="#e0352c" stroke-width="0.8"/>
<circle cx="342.52" cy="67.09" r="1.9" fill="#e8574e" stroke="#e0352c" stroke-width="0.8"/>
<circle cx="343.00" cy="67.49" r="1.9" fill="#e8574e" stroke="#e0352c" stroke-width="0.8"/>
<circle cx="342.80" cy="71.20" r="1.85" fill="#f7c4c0" stroke="#ec9a93" stroke-width="0.6"/>
<circle cx="342.8" cy="75.9" r="1.9" fill="#e8574e" stroke="#e0352c" stroke-width="0.8"/>
<circle cx="344.80" cy="75.42" r="1.85" fill="none" stroke="#e4473e" stroke-width="0.7" opacity="0.8"/>
<circle cx="345.44" cy="75.29" r="1.85" fill="none" stroke="#e4473e" stroke-width="0.7" opacity="0.8"/>
<circle cx="346.08" cy="74.77" r="1.85" fill="none" stroke="#e4473e" stroke-width="0.7" opacity="0.8"/>
<circle cx="346.73" cy="74.01" r="1.85" fill="none" stroke="#e4473e" stroke-width="0.7" opacity="0.8"/>
<circle cx="347.37" cy="74.16" r="1.85" fill="none" stroke="#e4473e" stroke-width="0.7" opacity="0.8"/>
<circle cx="348.01" cy="73.06" r="1.85" fill="none" stroke="#e4473e" stroke-width="0.7" opacity="0.8"/>
<circle cx="348.65" cy="72.90" r="1.85" fill="none" stroke="#e4473e" stroke-width="0.7" opacity="0.8"/>
<circle cx="349.30" cy="72.76" r="1.85" fill="none" stroke="#e4473e" stroke-width="0.7" opacity="0.8"/>
<circle cx="349.94" cy="71.87" r="1.85" fill="none" stroke="#e4473e" stroke-width="0.7" opacity="0.8"/>
<circle cx="350.58" cy="71.74" r="1.85" fill="none" stroke="#e4473e" stroke-width="0.7" opacity="0.8"/>
<circle cx="351.22" cy="70.97" r="1.85" fill="none" stroke="#e4473e" stroke-width="0.7" opacity="0.8"/>
<circle cx="351.87" cy="71.07" r="1.85" fill="none" stroke="#e4473e" stroke-width="0.7" opacity="0.8"/>
<circle cx="352.51" cy="70.74" r="1.85" fill="none" stroke="#e4473e" stroke-width="0.7" opacity="0.8"/>
<circle cx="353.15" cy="70.18" r="1.85" fill="none" stroke="#e4473e" stroke-width="0.7" opacity="0.8"/>
<circle cx="353.79" cy="70.02" r="1.85" fill="none" stroke="#e4473e" stroke-width="0.7" opacity="0.8"/>
<circle cx="354.44" cy="69.16" r="1.85" fill="none" stroke="#e4473e" stroke-width="0.7" opacity="0.8"/>
<circle cx="355.08" cy="69.06" r="1.85" fill="none" stroke="#e4473e" stroke-width="0.7" opacity="0.8"/>
<circle cx="355.72" cy="68.57" r="1.85" fill="none" stroke="#e4473e" stroke-width="0.7" opacity="0.8"/>
<circle cx="356.36" cy="68.15" r="1.85" fill="none" stroke="#e4473e" stroke-width="0.7" opacity="0.8"/>
<circle cx="357.01" cy="67.65" r="1.85" fill="none" stroke="#e4473e" stroke-width="0.7" opacity="0.8"/>
<circle cx="357.65" cy="67.55" r="1.85" fill="none" stroke="#e4473e" stroke-width="0.7" opacity="0.8"/>
<circle cx="358.29" cy="67.23" r="1.85" fill="none" stroke="#e4473e" stroke-width="0.7" opacity="0.8"/>
<circle cx="358.93" cy="66.45" r="1.85" fill="none" stroke="#e4473e" stroke-width="0.7" opacity="0.8"/>
<circle cx="359.58" cy="66.19" r="1.85" fill="none" stroke="#e4473e" stroke-width="0.7" opacity="0.8"/>
<circle cx="360.22" cy="65.30" r="1.85" fill="none" stroke="#e4473e" stroke-width="0.7" opacity="0.8"/>
<circle cx="360.86" cy="65.41" r="1.85" fill="none" stroke="#e4473e" stroke-width="0.7" opacity="0.8"/>
<circle cx="361.50" cy="64.96" r="1.85" fill="none" stroke="#e4473e" stroke-width="0.7" opacity="0.8"/>
<circle cx="362.15" cy="64.83" r="1.85" fill="none" stroke="#e4473e" stroke-width="0.7" opacity="0.8"/>
<circle cx="362.79" cy="64.29" r="1.85" fill="none" stroke="#e4473e" stroke-width="0.7" opacity="0.8"/>
<circle cx="363.43" cy="63.45" r="1.85" fill="none" stroke="#e4473e" stroke-width="0.7" opacity="0.8"/>
<circle cx="364.07" cy="63.13" r="1.85" fill="none" stroke="#e4473e" stroke-width="0.7" opacity="0.8"/>
<circle cx="364.72" cy="62.95" r="1.85" fill="none" stroke="#e4473e" stroke-width="0.7" opacity="0.8"/>
<circle cx="365.36" cy="62.02" r="1.85" fill="none" stroke="#e4473e" stroke-width="0.7" opacity="0.8"/>
<circle cx="366.00" cy="61.97" r="1.85" fill="none" stroke="#e4473e" stroke-width="0.7" opacity="0.8"/>
<circle cx="366.80" cy="62.00" r="1.85" fill="none" stroke="#e4473e" stroke-width="0.7" opacity="0.8"/>
<circle cx="367.70" cy="61.80" r="1.85" fill="none" stroke="#e4473e" stroke-width="0.7" opacity="0.8"/>
<circle cx="368.60" cy="62.10" r="1.85" fill="none" stroke="#e4473e" stroke-width="0.7" opacity="0.8"/>
<circle cx="369.50" cy="62.00" r="1.85" fill="none" stroke="#e4473e" stroke-width="0.7" opacity="0.8"/>
<circle cx="370.40" cy="62.30" r="1.85" fill="none" stroke="#e4473e" stroke-width="0.7" opacity="0.8"/>
<circle cx="371.30" cy="62.60" r="1.85" fill="none" stroke="#e4473e" stroke-width="0.7" opacity="0.8"/>
<circle cx="372.20" cy="63.20" r="1.85" fill="none" stroke="#e4473e" stroke-width="0.7" opacity="0.8"/>
<circle cx="373.00" cy="63.50" r="1.85" fill="none" stroke="#e4473e" stroke-width="0.7" opacity="0.8"/>
<circle cx="373.80" cy="62.60" r="1.85" fill="none" stroke="#e97a72" stroke-width="0.7" opacity="0.9"/>
<circle cx="374.80" cy="61.40" r="1.85" fill="none" stroke="#e97a72" stroke-width="0.7" opacity="0.9"/>
<circle cx="375.80" cy="60.60" r="1.85" fill="none" stroke="#e97a72" stroke-width="0.7" opacity="0.9"/>
<circle cx="376.80" cy="60.30" r="1.85" fill="none" stroke="#e97a72" stroke-width="0.7" opacity="0.9"/>
<circle cx="377.80" cy="61.80" r="1.85" fill="none" stroke="#e97a72" stroke-width="0.7" opacity="0.9"/>
<circle cx="377.50" cy="62.50" r="1.85" fill="none" stroke="#e97a72" stroke-width="0.7" opacity="0.9"/>
<circle cx="379.00" cy="64.80" r="1.85" fill="none" stroke="#e97a72" stroke-width="0.7" opacity="0.9"/>
<circle cx="379.80" cy="68.90" r="1.85" fill="none" stroke="#e97a72" stroke-width="0.7" opacity="0.9"/>
<circle cx="380.40" cy="72.30" r="1.85" fill="none" stroke="#e97a72" stroke-width="0.7" opacity="0.9"/>
<circle cx="381.50" cy="70.50" r="1.85" fill="none" stroke="#e97a72" stroke-width="0.7" opacity="0.9"/>
<circle cx="382.50" cy="69.50" r="1.85" fill="none" stroke="#e97a72" stroke-width="0.7" opacity="0.9"/>
<circle cx="383.90" cy="69.60" r="1.85" fill="none" stroke="#e97a72" stroke-width="0.7" opacity="0.9"/>
<circle cx="385.30" cy="72.30" r="1.85" fill="none" stroke="#e97a72" stroke-width="0.7" opacity="0.9"/>
<circle cx="386.60" cy="75.00" r="1.85" fill="none" stroke="#e97a72" stroke-width="0.7" opacity="0.9"/>
<circle cx="387.30" cy="72.50" r="1.85" fill="none" stroke="#e97a72" stroke-width="0.7" opacity="0.9"/>
<circle cx="388.00" cy="69.60" r="1.85" fill="none" stroke="#e97a72" stroke-width="0.7" opacity="0.9"/>
<circle cx="389.40" cy="66.10" r="1.85" fill="none" stroke="#e97a72" stroke-width="0.7" opacity="0.9"/>
<circle cx="390.50" cy="62.70" r="1.85" fill="none" stroke="#e97a72" stroke-width="0.7" opacity="0.9"/>
<circle cx="391.00" cy="59.30" r="1.85" fill="none" stroke="#e97a72" stroke-width="0.7" opacity="0.9"/>
<circle cx="391.90" cy="54.40" r="1.85" fill="none" stroke="#e97a72" stroke-width="0.7" opacity="0.9"/>
<circle cx="392.80" cy="51.00" r="1.85" fill="none" stroke="#e97a72" stroke-width="0.7" opacity="0.9"/>
<circle cx="393.90" cy="46.60" r="1.85" fill="none" stroke="#e97a72" stroke-width="0.7" opacity="0.9"/>
<circle cx="394.90" cy="41.10" r="1.85" fill="none" stroke="#e97a72" stroke-width="0.7" opacity="0.9"/>
<line x1="265.70" y1="16.50" x2="418.60" y2="16.50" stroke="#222" stroke-width="1"/>
<line x1="265.70" y1="143.40" x2="418.60" y2="143.40" stroke="#222" stroke-width="1"/>
<line x1="265.70" y1="16.00" x2="265.70" y2="143.90" stroke="#222" stroke-width="1"/>
<line x1="418.60" y1="16.00" x2="418.60" y2="143.90" stroke="#222" stroke-width="1"/>
<line x1="267.00" y1="143.40" x2="267.00" y2="141.40" stroke="#222" stroke-width="0.9"/>
<line x1="267.00" y1="16.50" x2="267.00" y2="18.50" stroke="#222" stroke-width="0.9"/>
<line x1="271.33" y1="143.40" x2="271.33" y2="141.40" stroke="#222" stroke-width="0.9"/>
<line x1="271.33" y1="16.50" x2="271.33" y2="18.50" stroke="#222" stroke-width="0.9"/>
<line x1="275.66" y1="143.40" x2="275.66" y2="141.40" stroke="#222" stroke-width="0.9"/>
<line x1="275.66" y1="16.50" x2="275.66" y2="18.50" stroke="#222" stroke-width="0.9"/>
<line x1="279.99" y1="143.40" x2="279.99" y2="141.40" stroke="#222" stroke-width="0.9"/>
<line x1="279.99" y1="16.50" x2="279.99" y2="18.50" stroke="#222" stroke-width="0.9"/>
<line x1="284.32" y1="143.40" x2="284.32" y2="141.40" stroke="#222" stroke-width="0.9"/>
<line x1="284.32" y1="16.50" x2="284.32" y2="18.50" stroke="#222" stroke-width="0.9"/>
<line x1="288.65" y1="143.40" x2="288.65" y2="141.40" stroke="#222" stroke-width="0.9"/>
<line x1="288.65" y1="16.50" x2="288.65" y2="18.50" stroke="#222" stroke-width="0.9"/>
<line x1="292.99" y1="143.40" x2="292.99" y2="141.40" stroke="#222" stroke-width="0.9"/>
<line x1="292.99" y1="16.50" x2="292.99" y2="18.50" stroke="#222" stroke-width="0.9"/>
<line x1="297.32" y1="143.40" x2="297.32" y2="141.40" stroke="#222" stroke-width="0.9"/>
<line x1="297.32" y1="16.50" x2="297.32" y2="18.50" stroke="#222" stroke-width="0.9"/>
<line x1="301.65" y1="143.40" x2="301.65" y2="141.40" stroke="#222" stroke-width="0.9"/>
<line x1="301.65" y1="16.50" x2="301.65" y2="18.50" stroke="#222" stroke-width="0.9"/>
<line x1="305.98" y1="143.40" x2="305.98" y2="141.40" stroke="#222" stroke-width="0.9"/>
<line x1="305.98" y1="16.50" x2="305.98" y2="18.50" stroke="#222" stroke-width="0.9"/>
<line x1="310.31" y1="143.40" x2="310.31" y2="141.40" stroke="#222" stroke-width="0.9"/>
<line x1="310.31" y1="16.50" x2="310.31" y2="18.50" stroke="#222" stroke-width="0.9"/>
<line x1="314.64" y1="143.40" x2="314.64" y2="141.40" stroke="#222" stroke-width="0.9"/>
<line x1="314.64" y1="16.50" x2="314.64" y2="18.50" stroke="#222" stroke-width="0.9"/>
<line x1="318.97" y1="143.40" x2="318.97" y2="141.40" stroke="#222" stroke-width="0.9"/>
<line x1="318.97" y1="16.50" x2="318.97" y2="18.50" stroke="#222" stroke-width="0.9"/>
<line x1="323.30" y1="143.40" x2="323.30" y2="141.40" stroke="#222" stroke-width="0.9"/>
<line x1="323.30" y1="16.50" x2="323.30" y2="18.50" stroke="#222" stroke-width="0.9"/>
<line x1="327.63" y1="143.40" x2="327.63" y2="141.40" stroke="#222" stroke-width="0.9"/>
<line x1="327.63" y1="16.50" x2="327.63" y2="18.50" stroke="#222" stroke-width="0.9"/>
<line x1="331.97" y1="143.40" x2="331.97" y2="141.40" stroke="#222" stroke-width="0.9"/>
<line x1="331.97" y1="16.50" x2="331.97" y2="18.50" stroke="#222" stroke-width="0.9"/>
<line x1="336.30" y1="143.40" x2="336.30" y2="141.40" stroke="#222" stroke-width="0.9"/>
<line x1="336.30" y1="16.50" x2="336.30" y2="18.50" stroke="#222" stroke-width="0.9"/>
<line x1="340.63" y1="143.40" x2="340.63" y2="141.40" stroke="#222" stroke-width="0.9"/>
<line x1="340.63" y1="16.50" x2="340.63" y2="18.50" stroke="#222" stroke-width="0.9"/>
<line x1="344.96" y1="143.40" x2="344.96" y2="141.40" stroke="#222" stroke-width="0.9"/>
<line x1="344.96" y1="16.50" x2="344.96" y2="18.50" stroke="#222" stroke-width="0.9"/>
<line x1="349.29" y1="143.40" x2="349.29" y2="141.40" stroke="#222" stroke-width="0.9"/>
<line x1="349.29" y1="16.50" x2="349.29" y2="18.50" stroke="#222" stroke-width="0.9"/>
<line x1="353.62" y1="143.40" x2="353.62" y2="141.40" stroke="#222" stroke-width="0.9"/>
<line x1="353.62" y1="16.50" x2="353.62" y2="18.50" stroke="#222" stroke-width="0.9"/>
<line x1="357.95" y1="143.40" x2="357.95" y2="141.40" stroke="#222" stroke-width="0.9"/>
<line x1="357.95" y1="16.50" x2="357.95" y2="18.50" stroke="#222" stroke-width="0.9"/>
<line x1="362.28" y1="143.40" x2="362.28" y2="141.40" stroke="#222" stroke-width="0.9"/>
<line x1="362.28" y1="16.50" x2="362.28" y2="18.50" stroke="#222" stroke-width="0.9"/>
<line x1="366.61" y1="143.40" x2="366.61" y2="141.40" stroke="#222" stroke-width="0.9"/>
<line x1="366.61" y1="16.50" x2="366.61" y2="18.50" stroke="#222" stroke-width="0.9"/>
<line x1="370.94" y1="143.40" x2="370.94" y2="141.40" stroke="#222" stroke-width="0.9"/>
<line x1="370.94" y1="16.50" x2="370.94" y2="18.50" stroke="#222" stroke-width="0.9"/>
<line x1="375.27" y1="143.40" x2="375.27" y2="141.40" stroke="#222" stroke-width="0.9"/>
<line x1="375.27" y1="16.50" x2="375.27" y2="18.50" stroke="#222" stroke-width="0.9"/>
<line x1="379.61" y1="143.40" x2="379.61" y2="141.40" stroke="#222" stroke-width="0.9"/>
<line x1="379.61" y1="16.50" x2="379.61" y2="18.50" stroke="#222" stroke-width="0.9"/>
<line x1="383.94" y1="143.40" x2="383.94" y2="141.40" stroke="#222" stroke-width="0.9"/>
<line x1="383.94" y1="16.50" x2="383.94" y2="18.50" stroke="#222" stroke-width="0.9"/>
<line x1="388.27" y1="143.40" x2="388.27" y2="141.40" stroke="#222" stroke-width="0.9"/>
<line x1="388.27" y1="16.50" x2="388.27" y2="18.50" stroke="#222" stroke-width="0.9"/>
<line x1="392.60" y1="143.40" x2="392.60" y2="141.40" stroke="#222" stroke-width="0.9"/>
<line x1="392.60" y1="16.50" x2="392.60" y2="18.50" stroke="#222" stroke-width="0.9"/>
<line x1="396.93" y1="143.40" x2="396.93" y2="141.40" stroke="#222" stroke-width="0.9"/>
<line x1="396.93" y1="16.50" x2="396.93" y2="18.50" stroke="#222" stroke-width="0.9"/>
<line x1="401.26" y1="143.40" x2="401.26" y2="141.40" stroke="#222" stroke-width="0.9"/>
<line x1="401.26" y1="16.50" x2="401.26" y2="18.50" stroke="#222" stroke-width="0.9"/>
<line x1="405.59" y1="143.40" x2="405.59" y2="141.40" stroke="#222" stroke-width="0.9"/>
<line x1="405.59" y1="16.50" x2="405.59" y2="18.50" stroke="#222" stroke-width="0.9"/>
<line x1="409.92" y1="143.40" x2="409.92" y2="141.40" stroke="#222" stroke-width="0.9"/>
<line x1="409.92" y1="16.50" x2="409.92" y2="18.50" stroke="#222" stroke-width="0.9"/>
<line x1="414.25" y1="143.40" x2="414.25" y2="141.40" stroke="#222" stroke-width="0.9"/>
<line x1="414.25" y1="16.50" x2="414.25" y2="18.50" stroke="#222" stroke-width="0.9"/>
<line x1="418.59" y1="143.40" x2="418.59" y2="141.40" stroke="#222" stroke-width="0.9"/>
<line x1="418.59" y1="16.50" x2="418.59" y2="18.50" stroke="#222" stroke-width="0.9"/>
<line x1="267.00" y1="143.40" x2="267.00" y2="140.20" stroke="#222" stroke-width="0.9"/>
<line x1="267.00" y1="16.50" x2="267.00" y2="19.70" stroke="#222" stroke-width="0.9"/>
<text x="267.0" y="155.2" font-size="10.8" fill="#1a1a1a" text-anchor="middle">0</text>
<line x1="288.65" y1="143.40" x2="288.65" y2="140.20" stroke="#222" stroke-width="0.9"/>
<line x1="288.65" y1="16.50" x2="288.65" y2="19.70" stroke="#222" stroke-width="0.9"/>
<text x="288.65" y="155.2" font-size="10.8" fill="#1a1a1a" text-anchor="middle">50</text>
<line x1="310.31" y1="143.40" x2="310.31" y2="140.20" stroke="#222" stroke-width="0.9"/>
<line x1="310.31" y1="16.50" x2="310.31" y2="19.70" stroke="#222" stroke-width="0.9"/>
<text x="310.31" y="155.2" font-size="10.8" fill="#1a1a1a" text-anchor="middle">100</text>
<line x1="331.97" y1="143.40" x2="331.97" y2="140.20" stroke="#222" stroke-width="0.9"/>
<line x1="331.97" y1="16.50" x2="331.97" y2="19.70" stroke="#222" stroke-width="0.9"/>
<text x="331.97" y="155.2" font-size="10.8" fill="#1a1a1a" text-anchor="middle">150</text>
<line x1="353.62" y1="143.40" x2="353.62" y2="140.20" stroke="#222" stroke-width="0.9"/>
<line x1="353.62" y1="16.50" x2="353.62" y2="19.70" stroke="#222" stroke-width="0.9"/>
<text x="353.62" y="155.2" font-size="10.8" fill="#1a1a1a" text-anchor="middle">200</text>
<line x1="375.27" y1="143.40" x2="375.27" y2="140.20" stroke="#222" stroke-width="0.9"/>
<line x1="375.27" y1="16.50" x2="375.27" y2="19.70" stroke="#222" stroke-width="0.9"/>
<text x="375.27" y="155.2" font-size="10.8" fill="#1a1a1a" text-anchor="middle">250</text>
<line x1="396.93" y1="143.40" x2="396.93" y2="140.20" stroke="#222" stroke-width="0.9"/>
<line x1="396.93" y1="16.50" x2="396.93" y2="19.70" stroke="#222" stroke-width="0.9"/>
<text x="396.93" y="155.2" font-size="10.8" fill="#1a1a1a" text-anchor="middle">300</text>
<line x1="418.59" y1="143.40" x2="418.59" y2="140.20" stroke="#222" stroke-width="0.9"/>
<line x1="418.59" y1="16.50" x2="418.59" y2="19.70" stroke="#222" stroke-width="0.9"/>
<text x="418.59" y="155.2" font-size="10.8" fill="#1a1a1a" text-anchor="middle">350</text>
<line x1="265.70" y1="143.40" x2="267.70" y2="143.40" stroke="#222" stroke-width="0.9"/>
<line x1="265.70" y1="138.32" x2="267.70" y2="138.32" stroke="#222" stroke-width="0.9"/>
<line x1="265.70" y1="133.25" x2="267.70" y2="133.25" stroke="#222" stroke-width="0.9"/>
<line x1="265.70" y1="128.17" x2="267.70" y2="128.17" stroke="#222" stroke-width="0.9"/>
<line x1="265.70" y1="123.10" x2="267.70" y2="123.10" stroke="#222" stroke-width="0.9"/>
<line x1="265.70" y1="118.02" x2="267.70" y2="118.02" stroke="#222" stroke-width="0.9"/>
<line x1="265.70" y1="112.94" x2="267.70" y2="112.94" stroke="#222" stroke-width="0.9"/>
<line x1="265.70" y1="107.87" x2="267.70" y2="107.87" stroke="#222" stroke-width="0.9"/>
<line x1="265.70" y1="102.79" x2="267.70" y2="102.79" stroke="#222" stroke-width="0.9"/>
<line x1="265.70" y1="97.72" x2="267.70" y2="97.72" stroke="#222" stroke-width="0.9"/>
<line x1="265.70" y1="92.64" x2="267.70" y2="92.64" stroke="#222" stroke-width="0.9"/>
<line x1="265.70" y1="87.56" x2="267.70" y2="87.56" stroke="#222" stroke-width="0.9"/>
<line x1="265.70" y1="82.49" x2="267.70" y2="82.49" stroke="#222" stroke-width="0.9"/>
<line x1="265.70" y1="77.41" x2="267.70" y2="77.41" stroke="#222" stroke-width="0.9"/>
<line x1="265.70" y1="72.34" x2="267.70" y2="72.34" stroke="#222" stroke-width="0.9"/>
<line x1="265.70" y1="67.26" x2="267.70" y2="67.26" stroke="#222" stroke-width="0.9"/>
<line x1="265.70" y1="62.18" x2="267.70" y2="62.18" stroke="#222" stroke-width="0.9"/>
<line x1="265.70" y1="57.11" x2="267.70" y2="57.11" stroke="#222" stroke-width="0.9"/>
<line x1="265.70" y1="52.03" x2="267.70" y2="52.03" stroke="#222" stroke-width="0.9"/>
<line x1="265.70" y1="46.96" x2="267.70" y2="46.96" stroke="#222" stroke-width="0.9"/>
<line x1="265.70" y1="41.88" x2="267.70" y2="41.88" stroke="#222" stroke-width="0.9"/>
<line x1="265.70" y1="36.80" x2="267.70" y2="36.80" stroke="#222" stroke-width="0.9"/>
<line x1="265.70" y1="31.73" x2="267.70" y2="31.73" stroke="#222" stroke-width="0.9"/>
<line x1="265.70" y1="26.65" x2="267.70" y2="26.65" stroke="#222" stroke-width="0.9"/>
<line x1="265.70" y1="21.58" x2="267.70" y2="21.58" stroke="#222" stroke-width="0.9"/>
<line x1="265.70" y1="16.50" x2="267.70" y2="16.50" stroke="#222" stroke-width="0.9"/>
<line x1="265.70" y1="143.40" x2="268.90" y2="143.40" stroke="#222" stroke-width="0.9"/>
<text x="262.4" y="146.5" font-size="11" fill="#1a1a1a" text-anchor="end">3.3</text>
<line x1="265.70" y1="118.02" x2="268.90" y2="118.02" stroke="#222" stroke-width="0.9"/>
<text x="262.4" y="121.12" font-size="11" fill="#1a1a1a" text-anchor="end">3.4</text>
<line x1="265.70" y1="92.64" x2="268.90" y2="92.64" stroke="#222" stroke-width="0.9"/>
<text x="262.4" y="95.74" font-size="11" fill="#1a1a1a" text-anchor="end">3.5</text>
<line x1="265.70" y1="67.26" x2="268.90" y2="67.26" stroke="#222" stroke-width="0.9"/>
<text x="262.4" y="70.36" font-size="11" fill="#1a1a1a" text-anchor="end">3.6</text>
<line x1="265.70" y1="41.88" x2="268.90" y2="41.88" stroke="#222" stroke-width="0.9"/>
<text x="262.4" y="44.98" font-size="11" fill="#1a1a1a" text-anchor="end">3.7</text>
<line x1="265.70" y1="16.50" x2="268.90" y2="16.50" stroke="#222" stroke-width="0.9"/>
<text x="262.4" y="19.6" font-size="11" fill="#1a1a1a" text-anchor="end">3.8</text>
<line x1="418.60" y1="143.40" x2="416.60" y2="143.40" stroke="#222" stroke-width="0.9"/>
<line x1="418.60" y1="138.32" x2="416.60" y2="138.32" stroke="#222" stroke-width="0.9"/>
<line x1="418.60" y1="133.25" x2="416.60" y2="133.25" stroke="#222" stroke-width="0.9"/>
<line x1="418.60" y1="128.17" x2="416.60" y2="128.17" stroke="#222" stroke-width="0.9"/>
<line x1="418.60" y1="123.10" x2="416.60" y2="123.10" stroke="#222" stroke-width="0.9"/>
<line x1="418.60" y1="118.02" x2="416.60" y2="118.02" stroke="#222" stroke-width="0.9"/>
<line x1="418.60" y1="112.94" x2="416.60" y2="112.94" stroke="#222" stroke-width="0.9"/>
<line x1="418.60" y1="107.87" x2="416.60" y2="107.87" stroke="#222" stroke-width="0.9"/>
<line x1="418.60" y1="102.79" x2="416.60" y2="102.79" stroke="#222" stroke-width="0.9"/>
<line x1="418.60" y1="97.72" x2="416.60" y2="97.72" stroke="#222" stroke-width="0.9"/>
<line x1="418.60" y1="92.64" x2="416.60" y2="92.64" stroke="#222" stroke-width="0.9"/>
<line x1="418.60" y1="87.56" x2="416.60" y2="87.56" stroke="#222" stroke-width="0.9"/>
<line x1="418.60" y1="82.49" x2="416.60" y2="82.49" stroke="#222" stroke-width="0.9"/>
<line x1="418.60" y1="77.41" x2="416.60" y2="77.41" stroke="#222" stroke-width="0.9"/>
<line x1="418.60" y1="72.34" x2="416.60" y2="72.34" stroke="#222" stroke-width="0.9"/>
<line x1="418.60" y1="67.26" x2="416.60" y2="67.26" stroke="#222" stroke-width="0.9"/>
<line x1="418.60" y1="62.18" x2="416.60" y2="62.18" stroke="#222" stroke-width="0.9"/>
<line x1="418.60" y1="57.11" x2="416.60" y2="57.11" stroke="#222" stroke-width="0.9"/>
<line x1="418.60" y1="52.03" x2="416.60" y2="52.03" stroke="#222" stroke-width="0.9"/>
<line x1="418.60" y1="46.96" x2="416.60" y2="46.96" stroke="#222" stroke-width="0.9"/>
<line x1="418.60" y1="41.88" x2="416.60" y2="41.88" stroke="#222" stroke-width="0.9"/>
<line x1="418.60" y1="36.80" x2="416.60" y2="36.80" stroke="#222" stroke-width="0.9"/>
<line x1="418.60" y1="31.73" x2="416.60" y2="31.73" stroke="#222" stroke-width="0.9"/>
<line x1="418.60" y1="26.65" x2="416.60" y2="26.65" stroke="#222" stroke-width="0.9"/>
<line x1="418.60" y1="21.58" x2="416.60" y2="21.58" stroke="#222" stroke-width="0.9"/>
<line x1="418.60" y1="16.50" x2="416.60" y2="16.50" stroke="#222" stroke-width="0.9"/>
<line x1="418.60" y1="143.40" x2="415.40" y2="143.40" stroke="#222" stroke-width="0.9"/>
<line x1="418.60" y1="118.02" x2="415.40" y2="118.02" stroke="#222" stroke-width="0.9"/>
<line x1="418.60" y1="92.64" x2="415.40" y2="92.64" stroke="#222" stroke-width="0.9"/>
<line x1="418.60" y1="67.26" x2="415.40" y2="67.26" stroke="#222" stroke-width="0.9"/>
<line x1="418.60" y1="41.88" x2="415.40" y2="41.88" stroke="#222" stroke-width="0.9"/>
<line x1="418.60" y1="16.50" x2="415.40" y2="16.50" stroke="#222" stroke-width="0.9"/>
<text x="342.4" y="166.8" font-size="12.2" fill="#1a1a1a" text-anchor="middle">Time / min</text>
<text x="240.2" y="96.6" font-size="11.8" fill="#1a1a1a" transform="rotate(-90 240.2 96.6)"><tspan font-style="italic">d</tspan><tspan font-size="7.7" dy="3.9">001</tspan><tspan dy="-3.9"> / Å</tspan></text>
<rect x="319.0" y="175.5" width="30.1" height="126.7" fill="#bde6f4"/>
<text x="226.6" y="174.7" font-size="17.5" fill="#111" text-anchor="start">c</text>
<polyline points="267.00,295.50 324.60,295.50 329.40,189.50 342.60,189.50 342.60,295.50 394.60,295.50" fill="none" stroke="#7043b5" stroke-width="1.3" stroke-linejoin="round"/>
<polyline points="267.30,289.40 276.40,275.90 320.00,188.30 342.60,188.00 343.50,186.60 344.40,188.20 394.60,287.90" fill="none" stroke="#f0811c" stroke-width="1.3" stroke-linejoin="round"/>
<line x1="324.20" y1="226.30" x2="308.60" y2="226.30" stroke="#7043b5" stroke-width="1"/>
<polygon points="303.60,226.30 309.60,224.30 308.10,226.30 309.60,228.30" fill="#7043b5"/>
<line x1="364.30" y1="225.00" x2="380.00" y2="225.00" stroke="#f0811c" stroke-width="1"/>
<polygon points="385.00,225.00 379.00,227.00 380.50,225.00 379.00,223.00" fill="#f0811c"/>
<line x1="265.50" y1="175.50" x2="418.60" y2="175.50" stroke="#222" stroke-width="1"/>
<line x1="265.50" y1="302.20" x2="418.60" y2="302.20" stroke="#222" stroke-width="1"/>
<line x1="265.50" y1="175.00" x2="265.50" y2="302.70" stroke="#7043b5" stroke-width="1"/>
<line x1="418.60" y1="175.00" x2="418.60" y2="302.70" stroke="#f0811c" stroke-width="1"/>
<line x1="267.00" y1="302.20" x2="267.00" y2="300.20" stroke="#222" stroke-width="0.9"/>
<line x1="267.00" y1="175.50" x2="267.00" y2="177.50" stroke="#222" stroke-width="0.9"/>
<line x1="271.33" y1="302.20" x2="271.33" y2="300.20" stroke="#222" stroke-width="0.9"/>
<line x1="271.33" y1="175.50" x2="271.33" y2="177.50" stroke="#222" stroke-width="0.9"/>
<line x1="275.66" y1="302.20" x2="275.66" y2="300.20" stroke="#222" stroke-width="0.9"/>
<line x1="275.66" y1="175.50" x2="275.66" y2="177.50" stroke="#222" stroke-width="0.9"/>
<line x1="279.99" y1="302.20" x2="279.99" y2="300.20" stroke="#222" stroke-width="0.9"/>
<line x1="279.99" y1="175.50" x2="279.99" y2="177.50" stroke="#222" stroke-width="0.9"/>
<line x1="284.32" y1="302.20" x2="284.32" y2="300.20" stroke="#222" stroke-width="0.9"/>
<line x1="284.32" y1="175.50" x2="284.32" y2="177.50" stroke="#222" stroke-width="0.9"/>
<line x1="288.65" y1="302.20" x2="288.65" y2="300.20" stroke="#222" stroke-width="0.9"/>
<line x1="288.65" y1="175.50" x2="288.65" y2="177.50" stroke="#222" stroke-width="0.9"/>
<line x1="292.99" y1="302.20" x2="292.99" y2="300.20" stroke="#222" stroke-width="0.9"/>
<line x1="292.99" y1="175.50" x2="292.99" y2="177.50" stroke="#222" stroke-width="0.9"/>
<line x1="297.32" y1="302.20" x2="297.32" y2="300.20" stroke="#222" stroke-width="0.9"/>
<line x1="297.32" y1="175.50" x2="297.32" y2="177.50" stroke="#222" stroke-width="0.9"/>
<line x1="301.65" y1="302.20" x2="301.65" y2="300.20" stroke="#222" stroke-width="0.9"/>
<line x1="301.65" y1="175.50" x2="301.65" y2="177.50" stroke="#222" stroke-width="0.9"/>
<line x1="305.98" y1="302.20" x2="305.98" y2="300.20" stroke="#222" stroke-width="0.9"/>
<line x1="305.98" y1="175.50" x2="305.98" y2="177.50" stroke="#222" stroke-width="0.9"/>
<line x1="310.31" y1="302.20" x2="310.31" y2="300.20" stroke="#222" stroke-width="0.9"/>
<line x1="310.31" y1="175.50" x2="310.31" y2="177.50" stroke="#222" stroke-width="0.9"/>
<line x1="314.64" y1="302.20" x2="314.64" y2="300.20" stroke="#222" stroke-width="0.9"/>
<line x1="314.64" y1="175.50" x2="314.64" y2="177.50" stroke="#222" stroke-width="0.9"/>
<line x1="318.97" y1="302.20" x2="318.97" y2="300.20" stroke="#222" stroke-width="0.9"/>
<line x1="318.97" y1="175.50" x2="318.97" y2="177.50" stroke="#222" stroke-width="0.9"/>
<line x1="323.30" y1="302.20" x2="323.30" y2="300.20" stroke="#222" stroke-width="0.9"/>
<line x1="323.30" y1="175.50" x2="323.30" y2="177.50" stroke="#222" stroke-width="0.9"/>
<line x1="327.63" y1="302.20" x2="327.63" y2="300.20" stroke="#222" stroke-width="0.9"/>
<line x1="327.63" y1="175.50" x2="327.63" y2="177.50" stroke="#222" stroke-width="0.9"/>
<line x1="331.97" y1="302.20" x2="331.97" y2="300.20" stroke="#222" stroke-width="0.9"/>
<line x1="331.97" y1="175.50" x2="331.97" y2="177.50" stroke="#222" stroke-width="0.9"/>
<line x1="336.30" y1="302.20" x2="336.30" y2="300.20" stroke="#222" stroke-width="0.9"/>
<line x1="336.30" y1="175.50" x2="336.30" y2="177.50" stroke="#222" stroke-width="0.9"/>
<line x1="340.63" y1="302.20" x2="340.63" y2="300.20" stroke="#222" stroke-width="0.9"/>
<line x1="340.63" y1="175.50" x2="340.63" y2="177.50" stroke="#222" stroke-width="0.9"/>
<line x1="344.96" y1="302.20" x2="344.96" y2="300.20" stroke="#222" stroke-width="0.9"/>
<line x1="344.96" y1="175.50" x2="344.96" y2="177.50" stroke="#222" stroke-width="0.9"/>
<line x1="349.29" y1="302.20" x2="349.29" y2="300.20" stroke="#222" stroke-width="0.9"/>
<line x1="349.29" y1="175.50" x2="349.29" y2="177.50" stroke="#222" stroke-width="0.9"/>
<line x1="353.62" y1="302.20" x2="353.62" y2="300.20" stroke="#222" stroke-width="0.9"/>
<line x1="353.62" y1="175.50" x2="353.62" y2="177.50" stroke="#222" stroke-width="0.9"/>
<line x1="357.95" y1="302.20" x2="357.95" y2="300.20" stroke="#222" stroke-width="0.9"/>
<line x1="357.95" y1="175.50" x2="357.95" y2="177.50" stroke="#222" stroke-width="0.9"/>
<line x1="362.28" y1="302.20" x2="362.28" y2="300.20" stroke="#222" stroke-width="0.9"/>
<line x1="362.28" y1="175.50" x2="362.28" y2="177.50" stroke="#222" stroke-width="0.9"/>
<line x1="366.61" y1="302.20" x2="366.61" y2="300.20" stroke="#222" stroke-width="0.9"/>
<line x1="366.61" y1="175.50" x2="366.61" y2="177.50" stroke="#222" stroke-width="0.9"/>
<line x1="370.94" y1="302.20" x2="370.94" y2="300.20" stroke="#222" stroke-width="0.9"/>
<line x1="370.94" y1="175.50" x2="370.94" y2="177.50" stroke="#222" stroke-width="0.9"/>
<line x1="375.27" y1="302.20" x2="375.27" y2="300.20" stroke="#222" stroke-width="0.9"/>
<line x1="375.27" y1="175.50" x2="375.27" y2="177.50" stroke="#222" stroke-width="0.9"/>
<line x1="379.61" y1="302.20" x2="379.61" y2="300.20" stroke="#222" stroke-width="0.9"/>
<line x1="379.61" y1="175.50" x2="379.61" y2="177.50" stroke="#222" stroke-width="0.9"/>
<line x1="383.94" y1="302.20" x2="383.94" y2="300.20" stroke="#222" stroke-width="0.9"/>
<line x1="383.94" y1="175.50" x2="383.94" y2="177.50" stroke="#222" stroke-width="0.9"/>
<line x1="388.27" y1="302.20" x2="388.27" y2="300.20" stroke="#222" stroke-width="0.9"/>
<line x1="388.27" y1="175.50" x2="388.27" y2="177.50" stroke="#222" stroke-width="0.9"/>
<line x1="392.60" y1="302.20" x2="392.60" y2="300.20" stroke="#222" stroke-width="0.9"/>
<line x1="392.60" y1="175.50" x2="392.60" y2="177.50" stroke="#222" stroke-width="0.9"/>
<line x1="396.93" y1="302.20" x2="396.93" y2="300.20" stroke="#222" stroke-width="0.9"/>
<line x1="396.93" y1="175.50" x2="396.93" y2="177.50" stroke="#222" stroke-width="0.9"/>
<line x1="401.26" y1="302.20" x2="401.26" y2="300.20" stroke="#222" stroke-width="0.9"/>
<line x1="401.26" y1="175.50" x2="401.26" y2="177.50" stroke="#222" stroke-width="0.9"/>
<line x1="405.59" y1="302.20" x2="405.59" y2="300.20" stroke="#222" stroke-width="0.9"/>
<line x1="405.59" y1="175.50" x2="405.59" y2="177.50" stroke="#222" stroke-width="0.9"/>
<line x1="409.92" y1="302.20" x2="409.92" y2="300.20" stroke="#222" stroke-width="0.9"/>
<line x1="409.92" y1="175.50" x2="409.92" y2="177.50" stroke="#222" stroke-width="0.9"/>
<line x1="414.25" y1="302.20" x2="414.25" y2="300.20" stroke="#222" stroke-width="0.9"/>
<line x1="414.25" y1="175.50" x2="414.25" y2="177.50" stroke="#222" stroke-width="0.9"/>
<line x1="418.59" y1="302.20" x2="418.59" y2="300.20" stroke="#222" stroke-width="0.9"/>
<line x1="418.59" y1="175.50" x2="418.59" y2="177.50" stroke="#222" stroke-width="0.9"/>
<line x1="267.00" y1="302.20" x2="267.00" y2="299.00" stroke="#222" stroke-width="0.9"/>
<line x1="267.00" y1="175.50" x2="267.00" y2="178.70" stroke="#222" stroke-width="0.9"/>
<text x="267.0" y="314.2" font-size="10.8" fill="#1a1a1a" text-anchor="middle">0</text>
<line x1="288.65" y1="302.20" x2="288.65" y2="299.00" stroke="#222" stroke-width="0.9"/>
<line x1="288.65" y1="175.50" x2="288.65" y2="178.70" stroke="#222" stroke-width="0.9"/>
<text x="288.65" y="314.2" font-size="10.8" fill="#1a1a1a" text-anchor="middle">50</text>
<line x1="310.31" y1="302.20" x2="310.31" y2="299.00" stroke="#222" stroke-width="0.9"/>
<line x1="310.31" y1="175.50" x2="310.31" y2="178.70" stroke="#222" stroke-width="0.9"/>
<text x="310.31" y="314.2" font-size="10.8" fill="#1a1a1a" text-anchor="middle">100</text>
<line x1="331.97" y1="302.20" x2="331.97" y2="299.00" stroke="#222" stroke-width="0.9"/>
<line x1="331.97" y1="175.50" x2="331.97" y2="178.70" stroke="#222" stroke-width="0.9"/>
<text x="331.97" y="314.2" font-size="10.8" fill="#1a1a1a" text-anchor="middle">150</text>
<line x1="353.62" y1="302.20" x2="353.62" y2="299.00" stroke="#222" stroke-width="0.9"/>
<line x1="353.62" y1="175.50" x2="353.62" y2="178.70" stroke="#222" stroke-width="0.9"/>
<text x="353.62" y="314.2" font-size="10.8" fill="#1a1a1a" text-anchor="middle">200</text>
<line x1="375.27" y1="302.20" x2="375.27" y2="299.00" stroke="#222" stroke-width="0.9"/>
<line x1="375.27" y1="175.50" x2="375.27" y2="178.70" stroke="#222" stroke-width="0.9"/>
<text x="375.27" y="314.2" font-size="10.8" fill="#1a1a1a" text-anchor="middle">250</text>
<line x1="396.93" y1="302.20" x2="396.93" y2="299.00" stroke="#222" stroke-width="0.9"/>
<line x1="396.93" y1="175.50" x2="396.93" y2="178.70" stroke="#222" stroke-width="0.9"/>
<text x="396.93" y="314.2" font-size="10.8" fill="#1a1a1a" text-anchor="middle">300</text>
<line x1="418.59" y1="302.20" x2="418.59" y2="299.00" stroke="#222" stroke-width="0.9"/>
<line x1="418.59" y1="175.50" x2="418.59" y2="178.70" stroke="#222" stroke-width="0.9"/>
<text x="418.59" y="314.2" font-size="10.8" fill="#1a1a1a" text-anchor="middle">350</text>
<line x1="265.50" y1="302.20" x2="267.50" y2="302.20" stroke="#7043b5" stroke-width="0.9"/>
<line x1="265.50" y1="296.57" x2="267.50" y2="296.57" stroke="#7043b5" stroke-width="0.9"/>
<line x1="265.50" y1="290.94" x2="267.50" y2="290.94" stroke="#7043b5" stroke-width="0.9"/>
<line x1="265.50" y1="285.31" x2="267.50" y2="285.31" stroke="#7043b5" stroke-width="0.9"/>
<line x1="265.50" y1="279.68" x2="267.50" y2="279.68" stroke="#7043b5" stroke-width="0.9"/>
<line x1="265.50" y1="274.04" x2="267.50" y2="274.04" stroke="#7043b5" stroke-width="0.9"/>
<line x1="265.50" y1="268.41" x2="267.50" y2="268.41" stroke="#7043b5" stroke-width="0.9"/>
<line x1="265.50" y1="262.78" x2="267.50" y2="262.78" stroke="#7043b5" stroke-width="0.9"/>
<line x1="265.50" y1="257.15" x2="267.50" y2="257.15" stroke="#7043b5" stroke-width="0.9"/>
<line x1="265.50" y1="251.52" x2="267.50" y2="251.52" stroke="#7043b5" stroke-width="0.9"/>
<line x1="265.50" y1="245.89" x2="267.50" y2="245.89" stroke="#7043b5" stroke-width="0.9"/>
<line x1="265.50" y1="240.26" x2="267.50" y2="240.26" stroke="#7043b5" stroke-width="0.9"/>
<line x1="265.50" y1="234.63" x2="267.50" y2="234.63" stroke="#7043b5" stroke-width="0.9"/>
<line x1="265.50" y1="229.00" x2="267.50" y2="229.00" stroke="#7043b5" stroke-width="0.9"/>
<line x1="265.50" y1="223.36" x2="267.50" y2="223.36" stroke="#7043b5" stroke-width="0.9"/>
<line x1="265.50" y1="217.73" x2="267.50" y2="217.73" stroke="#7043b5" stroke-width="0.9"/>
<line x1="265.50" y1="212.10" x2="267.50" y2="212.10" stroke="#7043b5" stroke-width="0.9"/>
<line x1="265.50" y1="206.47" x2="267.50" y2="206.47" stroke="#7043b5" stroke-width="0.9"/>
<line x1="265.50" y1="200.84" x2="267.50" y2="200.84" stroke="#7043b5" stroke-width="0.9"/>
<line x1="265.50" y1="195.21" x2="267.50" y2="195.21" stroke="#7043b5" stroke-width="0.9"/>
<line x1="265.50" y1="189.58" x2="267.50" y2="189.58" stroke="#7043b5" stroke-width="0.9"/>
<line x1="265.50" y1="183.95" x2="267.50" y2="183.95" stroke="#7043b5" stroke-width="0.9"/>
<line x1="265.50" y1="178.32" x2="267.50" y2="178.32" stroke="#7043b5" stroke-width="0.9"/>
<line x1="265.50" y1="302.20" x2="268.70" y2="302.20" stroke="#7043b5" stroke-width="0.9"/>
<text x="262.4" y="305.3" font-size="11" fill="#7043b5" text-anchor="end">0</text>
<line x1="265.50" y1="274.04" x2="268.70" y2="274.04" stroke="#7043b5" stroke-width="0.9"/>
<text x="262.4" y="277.14" font-size="11" fill="#7043b5" text-anchor="end">100</text>
<line x1="265.50" y1="245.89" x2="268.70" y2="245.89" stroke="#7043b5" stroke-width="0.9"/>
<text x="262.4" y="248.99" font-size="11" fill="#7043b5" text-anchor="end">200</text>
<line x1="265.50" y1="217.73" x2="268.70" y2="217.73" stroke="#7043b5" stroke-width="0.9"/>
<text x="262.4" y="220.83" font-size="11" fill="#7043b5" text-anchor="end">300</text>
<line x1="265.50" y1="189.58" x2="268.70" y2="189.58" stroke="#7043b5" stroke-width="0.9"/>
<text x="262.4" y="192.68" font-size="11" fill="#7043b5" text-anchor="end">400</text>
<line x1="418.60" y1="302.20" x2="416.60" y2="302.20" stroke="#f0811c" stroke-width="0.9"/>
<line x1="418.60" y1="290.68" x2="416.60" y2="290.68" stroke="#f0811c" stroke-width="0.9"/>
<line x1="418.60" y1="279.16" x2="416.60" y2="279.16" stroke="#f0811c" stroke-width="0.9"/>
<line x1="418.60" y1="267.65" x2="416.60" y2="267.65" stroke="#f0811c" stroke-width="0.9"/>
<line x1="418.60" y1="256.13" x2="416.60" y2="256.13" stroke="#f0811c" stroke-width="0.9"/>
<line x1="418.60" y1="244.61" x2="416.60" y2="244.61" stroke="#f0811c" stroke-width="0.9"/>
<line x1="418.60" y1="233.09" x2="416.60" y2="233.09" stroke="#f0811c" stroke-width="0.9"/>
<line x1="418.60" y1="221.57" x2="416.60" y2="221.57" stroke="#f0811c" stroke-width="0.9"/>
<line x1="418.60" y1="210.05" x2="416.60" y2="210.05" stroke="#f0811c" stroke-width="0.9"/>
<line x1="418.60" y1="198.54" x2="416.60" y2="198.54" stroke="#f0811c" stroke-width="0.9"/>
<line x1="418.60" y1="187.02" x2="416.60" y2="187.02" stroke="#f0811c" stroke-width="0.9"/>
<line x1="418.60" y1="175.50" x2="416.60" y2="175.50" stroke="#f0811c" stroke-width="0.9"/>
<line x1="418.60" y1="302.20" x2="415.40" y2="302.20" stroke="#f0811c" stroke-width="0.9"/>
<text x="422" y="305.3" font-size="11" fill="#f0811c" text-anchor="start">0</text>
<line x1="418.60" y1="279.16" x2="415.40" y2="279.16" stroke="#f0811c" stroke-width="0.9"/>
<text x="422" y="282.26" font-size="11" fill="#f0811c" text-anchor="start">2</text>
<line x1="418.60" y1="256.13" x2="415.40" y2="256.13" stroke="#f0811c" stroke-width="0.9"/>
<text x="422" y="259.23" font-size="11" fill="#f0811c" text-anchor="start">4</text>
<line x1="418.60" y1="233.09" x2="415.40" y2="233.09" stroke="#f0811c" stroke-width="0.9"/>
<text x="422" y="236.19" font-size="11" fill="#f0811c" text-anchor="start">6</text>
<line x1="418.60" y1="210.05" x2="415.40" y2="210.05" stroke="#f0811c" stroke-width="0.9"/>
<text x="422" y="213.15" font-size="11" fill="#f0811c" text-anchor="start">8</text>
<line x1="418.60" y1="187.02" x2="415.40" y2="187.02" stroke="#f0811c" stroke-width="0.9"/>
<text x="422" y="190.12" font-size="11" fill="#f0811c" text-anchor="start">10</text>
<text x="342.4" y="325" font-size="12.2" fill="#1a1a1a" text-anchor="middle">Time / min</text>
<text x="241.3" y="288.2" font-size="12.5" fill="#7043b5" transform="rotate(-90 241.3 288.2)">Temperature / ºC</text>
<text x="443" y="280" font-size="12.3" fill="#f0811c" transform="rotate(-90 443 280)">Pressure / GPa</text>
<text x="448.2" y="17" font-size="17.5" fill="#111" text-anchor="start">d</text>
<circle cx="500.30" cy="106.70" r="1.7" fill="none" stroke="#e5574d" stroke-width="0.55" opacity="0.85"/>
<line x1="513.80" y1="102.72" x2="513.80" y2="108.52" stroke="#e5574d" stroke-width="0.5" opacity="0.8"/>
<circle cx="513.80" cy="105.62" r="1.7" fill="none" stroke="#e5574d" stroke-width="0.55" opacity="0.85"/>
<line x1="514.32" y1="106.73" x2="514.32" y2="112.06" stroke="#e5574d" stroke-width="0.5" opacity="0.8"/>
<circle cx="514.32" cy="109.39" r="1.7" fill="none" stroke="#e5574d" stroke-width="0.55" opacity="0.85"/>
<line x1="514.84" y1="103.09" x2="514.84" y2="109.03" stroke="#e5574d" stroke-width="0.5" opacity="0.8"/>
<circle cx="514.84" cy="106.06" r="1.7" fill="none" stroke="#e5574d" stroke-width="0.55" opacity="0.85"/>
<line x1="515.36" y1="100.70" x2="515.36" y2="106.26" stroke="#e5574d" stroke-width="0.5" opacity="0.8"/>
<circle cx="515.36" cy="103.48" r="1.7" fill="none" stroke="#e5574d" stroke-width="0.55" opacity="0.85"/>
<line x1="515.88" y1="103.56" x2="515.88" y2="110.52" stroke="#e5574d" stroke-width="0.5" opacity="0.8"/>
<circle cx="515.88" cy="107.04" r="1.7" fill="none" stroke="#e5574d" stroke-width="0.55" opacity="0.85"/>
<line x1="516.40" y1="100.49" x2="516.40" y2="105.01" stroke="#e5574d" stroke-width="0.5" opacity="0.8"/>
<circle cx="516.40" cy="102.75" r="1.7" fill="none" stroke="#e5574d" stroke-width="0.55" opacity="0.85"/>
<line x1="516.92" y1="99.20" x2="516.92" y2="106.25" stroke="#e5574d" stroke-width="0.5" opacity="0.8"/>
<circle cx="516.92" cy="102.73" r="1.7" fill="none" stroke="#e5574d" stroke-width="0.55" opacity="0.85"/>
<line x1="517.44" y1="105.94" x2="517.44" y2="109.15" stroke="#e5574d" stroke-width="0.5" opacity="0.8"/>
<circle cx="517.44" cy="107.55" r="1.7" fill="none" stroke="#e5574d" stroke-width="0.55" opacity="0.85"/>
<line x1="517.96" y1="105.95" x2="517.96" y2="113.77" stroke="#e5574d" stroke-width="0.5" opacity="0.8"/>
<circle cx="517.96" cy="109.86" r="1.7" fill="none" stroke="#e5574d" stroke-width="0.55" opacity="0.85"/>
<line x1="518.48" y1="104.19" x2="518.48" y2="110.27" stroke="#e5574d" stroke-width="0.5" opacity="0.8"/>
<circle cx="518.48" cy="107.23" r="1.7" fill="none" stroke="#e5574d" stroke-width="0.55" opacity="0.85"/>
<line x1="519.00" y1="101.72" x2="519.00" y2="104.80" stroke="#e5574d" stroke-width="0.5" opacity="0.8"/>
<circle cx="519.00" cy="103.26" r="1.7" fill="none" stroke="#e5574d" stroke-width="0.55" opacity="0.85"/>
<line x1="519.52" y1="104.58" x2="519.52" y2="107.88" stroke="#e5574d" stroke-width="0.5" opacity="0.8"/>
<circle cx="519.52" cy="106.23" r="1.7" fill="none" stroke="#e5574d" stroke-width="0.55" opacity="0.85"/>
<line x1="520.04" y1="101.42" x2="520.04" y2="105.63" stroke="#e5574d" stroke-width="0.5" opacity="0.8"/>
<circle cx="520.04" cy="103.52" r="1.7" fill="none" stroke="#e5574d" stroke-width="0.55" opacity="0.85"/>
<line x1="520.56" y1="99.58" x2="520.56" y2="104.90" stroke="#e5574d" stroke-width="0.5" opacity="0.8"/>
<circle cx="520.56" cy="102.24" r="1.7" fill="none" stroke="#e5574d" stroke-width="0.55" opacity="0.85"/>
<line x1="521.08" y1="101.92" x2="521.08" y2="109.13" stroke="#e5574d" stroke-width="0.5" opacity="0.8"/>
<circle cx="521.08" cy="105.52" r="1.7" fill="none" stroke="#e5574d" stroke-width="0.55" opacity="0.85"/>
<line x1="521.60" y1="103.05" x2="521.60" y2="109.25" stroke="#e5574d" stroke-width="0.5" opacity="0.8"/>
<circle cx="521.60" cy="106.15" r="1.7" fill="none" stroke="#e5574d" stroke-width="0.55" opacity="0.85"/>
<line x1="522.12" y1="102.84" x2="522.12" y2="109.15" stroke="#e5574d" stroke-width="0.5" opacity="0.8"/>
<circle cx="522.12" cy="106.00" r="1.7" fill="none" stroke="#e5574d" stroke-width="0.55" opacity="0.85"/>
<line x1="522.64" y1="103.46" x2="522.64" y2="107.85" stroke="#e5574d" stroke-width="0.5" opacity="0.8"/>
<circle cx="522.64" cy="105.66" r="1.7" fill="none" stroke="#e5574d" stroke-width="0.55" opacity="0.85"/>
<line x1="523.16" y1="105.99" x2="523.16" y2="113.97" stroke="#e5574d" stroke-width="0.5" opacity="0.8"/>
<circle cx="523.16" cy="109.98" r="1.7" fill="none" stroke="#e5574d" stroke-width="0.55" opacity="0.85"/>
<line x1="523.68" y1="105.45" x2="523.68" y2="111.99" stroke="#e5574d" stroke-width="0.5" opacity="0.8"/>
<circle cx="523.68" cy="108.72" r="1.7" fill="none" stroke="#e5574d" stroke-width="0.55" opacity="0.85"/>
<line x1="524.20" y1="102.45" x2="524.20" y2="106.60" stroke="#e5574d" stroke-width="0.5" opacity="0.8"/>
<circle cx="524.20" cy="104.52" r="1.7" fill="none" stroke="#e5574d" stroke-width="0.55" opacity="0.85"/>
<line x1="524.72" y1="102.64" x2="524.72" y2="105.99" stroke="#e5574d" stroke-width="0.5" opacity="0.8"/>
<circle cx="524.72" cy="104.31" r="1.7" fill="none" stroke="#e5574d" stroke-width="0.55" opacity="0.85"/>
<line x1="527.40" y1="99.91" x2="527.40" y2="107.29" stroke="#e5574d" stroke-width="0.5" opacity="0.8"/>
<circle cx="527.40" cy="103.60" r="1.7" fill="none" stroke="#e5574d" stroke-width="0.55" opacity="0.85"/>
<line x1="526.82" y1="100.94" x2="526.82" y2="108.33" stroke="#e5574d" stroke-width="0.5" opacity="0.8"/>
<circle cx="526.82" cy="104.63" r="1.7" fill="none" stroke="#e5574d" stroke-width="0.55" opacity="0.85"/>
<line x1="526.22" y1="96.62" x2="526.22" y2="104.26" stroke="#e5574d" stroke-width="0.5" opacity="0.8"/>
<circle cx="526.22" cy="100.44" r="1.7" fill="none" stroke="#e5574d" stroke-width="0.55" opacity="0.85"/>
<line x1="527.76" y1="99.53" x2="527.76" y2="105.12" stroke="#e5574d" stroke-width="0.5" opacity="0.8"/>
<circle cx="527.76" cy="102.32" r="1.7" fill="none" stroke="#e5574d" stroke-width="0.55" opacity="0.85"/>
<line x1="527.14" y1="96.16" x2="527.14" y2="103.27" stroke="#e5574d" stroke-width="0.5" opacity="0.8"/>
<circle cx="527.14" cy="99.72" r="1.7" fill="none" stroke="#e5574d" stroke-width="0.55" opacity="0.85"/>
<line x1="528.00" y1="93.68" x2="528.00" y2="99.01" stroke="#e5574d" stroke-width="0.5" opacity="0.8"/>
<circle cx="528.00" cy="96.35" r="1.7" fill="none" stroke="#e5574d" stroke-width="0.55" opacity="0.85"/>
<line x1="530.10" y1="95.60" x2="530.10" y2="100.07" stroke="#e5574d" stroke-width="0.5" opacity="0.8"/>
<circle cx="530.10" cy="97.83" r="1.7" fill="none" stroke="#e5574d" stroke-width="0.55" opacity="0.85"/>
<line x1="528.68" y1="91.88" x2="528.68" y2="96.12" stroke="#e5574d" stroke-width="0.5" opacity="0.8"/>
<circle cx="528.68" cy="94.00" r="1.7" fill="none" stroke="#e5574d" stroke-width="0.55" opacity="0.85"/>
<line x1="530.42" y1="89.99" x2="530.42" y2="96.23" stroke="#e5574d" stroke-width="0.5" opacity="0.8"/>
<circle cx="530.42" cy="93.11" r="1.7" fill="none" stroke="#e5574d" stroke-width="0.55" opacity="0.85"/>
<line x1="529.92" y1="88.50" x2="529.92" y2="95.43" stroke="#e5574d" stroke-width="0.5" opacity="0.8"/>
<circle cx="529.92" cy="91.96" r="1.7" fill="none" stroke="#e5574d" stroke-width="0.55" opacity="0.85"/>
<line x1="529.49" y1="90.34" x2="529.49" y2="94.81" stroke="#e5574d" stroke-width="0.5" opacity="0.8"/>
<circle cx="529.49" cy="92.57" r="1.7" fill="none" stroke="#e5574d" stroke-width="0.55" opacity="0.85"/>
<line x1="530.59" y1="87.11" x2="530.59" y2="92.19" stroke="#e5574d" stroke-width="0.5" opacity="0.8"/>
<circle cx="530.59" cy="89.65" r="1.7" fill="none" stroke="#e5574d" stroke-width="0.55" opacity="0.85"/>
<line x1="532.33" y1="88.21" x2="532.33" y2="93.42" stroke="#e5574d" stroke-width="0.5" opacity="0.8"/>
<circle cx="532.33" cy="90.81" r="1.7" fill="none" stroke="#e5574d" stroke-width="0.55" opacity="0.85"/>
<line x1="532.48" y1="84.45" x2="532.48" y2="90.03" stroke="#e5574d" stroke-width="0.5" opacity="0.8"/>
<circle cx="532.48" cy="87.24" r="1.7" fill="none" stroke="#e5574d" stroke-width="0.55" opacity="0.85"/>
<line x1="532.78" y1="85.57" x2="532.78" y2="89.97" stroke="#e5574d" stroke-width="0.5" opacity="0.8"/>
<circle cx="532.78" cy="87.77" r="1.7" fill="none" stroke="#e5574d" stroke-width="0.55" opacity="0.85"/>
<line x1="533.48" y1="82.34" x2="533.48" y2="87.37" stroke="#e5574d" stroke-width="0.5" opacity="0.8"/>
<circle cx="533.48" cy="84.85" r="1.7" fill="none" stroke="#e5574d" stroke-width="0.55" opacity="0.85"/>
<line x1="544.39" y1="54.24" x2="544.39" y2="62.61" stroke="#e5574d" stroke-width="0.5" opacity="0.8"/>
<circle cx="544.39" cy="58.42" r="1.7" fill="none" stroke="#e5574d" stroke-width="0.55" opacity="0.85"/>
<line x1="536.34" y1="70.73" x2="536.34" y2="81.39" stroke="#e5574d" stroke-width="0.5" opacity="0.8"/>
<circle cx="536.34" cy="76.06" r="1.7" fill="none" stroke="#e5574d" stroke-width="0.55" opacity="0.85"/>
<line x1="538.29" y1="73.64" x2="538.29" y2="82.61" stroke="#e5574d" stroke-width="0.5" opacity="0.8"/>
<circle cx="538.29" cy="78.13" r="1.7" fill="none" stroke="#e5574d" stroke-width="0.55" opacity="0.85"/>
<line x1="540.71" y1="71.90" x2="540.71" y2="81.77" stroke="#e5574d" stroke-width="0.5" opacity="0.8"/>
<circle cx="540.71" cy="76.83" r="1.7" fill="none" stroke="#e5574d" stroke-width="0.55" opacity="0.85"/>
<line x1="542.11" y1="68.16" x2="542.11" y2="75.63" stroke="#e5574d" stroke-width="0.5" opacity="0.8"/>
<circle cx="542.11" cy="71.89" r="1.7" fill="none" stroke="#e5574d" stroke-width="0.55" opacity="0.85"/>
<line x1="537.27" y1="78.82" x2="537.27" y2="91.37" stroke="#e5574d" stroke-width="0.5" opacity="0.8"/>
<circle cx="537.27" cy="85.09" r="1.7" fill="none" stroke="#e5574d" stroke-width="0.55" opacity="0.85"/>
<line x1="538.37" y1="66.21" x2="538.37" y2="78.13" stroke="#e5574d" stroke-width="0.5" opacity="0.8"/>
<circle cx="538.37" cy="72.17" r="1.7" fill="none" stroke="#e5574d" stroke-width="0.55" opacity="0.85"/>
<line x1="546.31" y1="44.74" x2="546.31" y2="58.34" stroke="#e5574d" stroke-width="0.5" opacity="0.8"/>
<circle cx="546.31" cy="51.54" r="1.7" fill="none" stroke="#e5574d" stroke-width="0.55" opacity="0.85"/>
<line x1="545.65" y1="54.30" x2="545.65" y2="63.67" stroke="#e5574d" stroke-width="0.5" opacity="0.8"/>
<circle cx="545.65" cy="58.98" r="1.7" fill="none" stroke="#e5574d" stroke-width="0.55" opacity="0.85"/>
<line x1="536.69" y1="67.58" x2="536.69" y2="81.28" stroke="#e5574d" stroke-width="0.5" opacity="0.8"/>
<circle cx="536.69" cy="74.43" r="1.7" fill="none" stroke="#e5574d" stroke-width="0.55" opacity="0.85"/>
<line x1="538.24" y1="75.68" x2="538.24" y2="83.74" stroke="#e5574d" stroke-width="0.5" opacity="0.8"/>
<circle cx="538.24" cy="79.71" r="1.7" fill="none" stroke="#e5574d" stroke-width="0.55" opacity="0.85"/>
<line x1="544.97" y1="56.47" x2="544.97" y2="64.81" stroke="#e5574d" stroke-width="0.5" opacity="0.8"/>
<circle cx="544.97" cy="60.64" r="1.7" fill="none" stroke="#e5574d" stroke-width="0.55" opacity="0.85"/>
<line x1="537.52" y1="78.55" x2="537.52" y2="85.10" stroke="#e5574d" stroke-width="0.5" opacity="0.8"/>
<circle cx="537.52" cy="81.82" r="1.7" fill="none" stroke="#e5574d" stroke-width="0.55" opacity="0.85"/>
<line x1="538.13" y1="71.57" x2="538.13" y2="84.39" stroke="#e5574d" stroke-width="0.5" opacity="0.8"/>
<circle cx="538.13" cy="77.98" r="1.7" fill="none" stroke="#e5574d" stroke-width="0.55" opacity="0.85"/>
<line x1="542.56" y1="55.82" x2="542.56" y2="69.16" stroke="#e5574d" stroke-width="0.5" opacity="0.8"/>
<circle cx="542.56" cy="62.49" r="1.7" fill="none" stroke="#e5574d" stroke-width="0.55" opacity="0.85"/>
<line x1="537.85" y1="67.04" x2="537.85" y2="75.19" stroke="#e5574d" stroke-width="0.5" opacity="0.8"/>
<circle cx="537.85" cy="71.11" r="1.7" fill="none" stroke="#e5574d" stroke-width="0.55" opacity="0.85"/>
<line x1="540.63" y1="60.77" x2="540.63" y2="68.18" stroke="#e5574d" stroke-width="0.5" opacity="0.8"/>
<circle cx="540.63" cy="64.48" r="1.7" fill="none" stroke="#e5574d" stroke-width="0.55" opacity="0.85"/>
<line x1="539.74" y1="70.42" x2="539.74" y2="77.47" stroke="#e5574d" stroke-width="0.5" opacity="0.8"/>
<circle cx="539.74" cy="73.95" r="1.7" fill="none" stroke="#e5574d" stroke-width="0.55" opacity="0.85"/>
<line x1="539.66" y1="71.69" x2="539.66" y2="85.53" stroke="#e5574d" stroke-width="0.5" opacity="0.8"/>
<circle cx="539.66" cy="78.61" r="1.7" fill="none" stroke="#e5574d" stroke-width="0.55" opacity="0.85"/>
<line x1="543.05" y1="61.63" x2="543.05" y2="72.31" stroke="#e5574d" stroke-width="0.5" opacity="0.8"/>
<circle cx="543.05" cy="66.97" r="1.7" fill="none" stroke="#e5574d" stroke-width="0.55" opacity="0.85"/>
<line x1="537.11" y1="70.21" x2="537.11" y2="76.35" stroke="#e5574d" stroke-width="0.5" opacity="0.8"/>
<circle cx="537.11" cy="73.28" r="1.7" fill="none" stroke="#e5574d" stroke-width="0.55" opacity="0.85"/>
<line x1="545.97" y1="52.66" x2="545.97" y2="66.36" stroke="#e5574d" stroke-width="0.5" opacity="0.8"/>
<circle cx="545.97" cy="59.51" r="1.7" fill="none" stroke="#e5574d" stroke-width="0.55" opacity="0.85"/>
<line x1="535.74" y1="80.34" x2="535.74" y2="90.20" stroke="#e5574d" stroke-width="0.5" opacity="0.8"/>
<circle cx="535.74" cy="85.27" r="1.7" fill="none" stroke="#e5574d" stroke-width="0.55" opacity="0.85"/>
<line x1="543.90" y1="52.55" x2="543.90" y2="66.55" stroke="#e5574d" stroke-width="0.5" opacity="0.8"/>
<circle cx="543.90" cy="59.55" r="1.7" fill="none" stroke="#e5574d" stroke-width="0.55" opacity="0.85"/>
<line x1="536.37" y1="76.44" x2="536.37" y2="88.34" stroke="#e5574d" stroke-width="0.5" opacity="0.8"/>
<circle cx="536.37" cy="82.39" r="1.7" fill="none" stroke="#e5574d" stroke-width="0.55" opacity="0.85"/>
<line x1="545.85" y1="54.50" x2="545.85" y2="66.13" stroke="#e5574d" stroke-width="0.5" opacity="0.8"/>
<circle cx="545.85" cy="60.31" r="1.7" fill="none" stroke="#e5574d" stroke-width="0.55" opacity="0.85"/>
<line x1="545.00" y1="53.01" x2="545.00" y2="62.50" stroke="#e5574d" stroke-width="0.5" opacity="0.8"/>
<circle cx="545.00" cy="57.76" r="1.7" fill="none" stroke="#e5574d" stroke-width="0.55" opacity="0.85"/>
<line x1="545.62" y1="49.13" x2="545.62" y2="57.24" stroke="#e5574d" stroke-width="0.5" opacity="0.8"/>
<circle cx="545.62" cy="53.19" r="1.7" fill="none" stroke="#e5574d" stroke-width="0.55" opacity="0.85"/>
<line x1="546.23" y1="50.10" x2="546.23" y2="59.33" stroke="#e5574d" stroke-width="0.5" opacity="0.8"/>
<circle cx="546.23" cy="54.71" r="1.7" fill="none" stroke="#e5574d" stroke-width="0.55" opacity="0.85"/>
<line x1="546.85" y1="45.82" x2="546.85" y2="54.57" stroke="#e5574d" stroke-width="0.5" opacity="0.8"/>
<circle cx="546.85" cy="50.20" r="1.7" fill="none" stroke="#e5574d" stroke-width="0.55" opacity="0.85"/>
<line x1="547.46" y1="47.69" x2="547.46" y2="55.13" stroke="#e5574d" stroke-width="0.5" opacity="0.8"/>
<circle cx="547.46" cy="51.41" r="1.7" fill="none" stroke="#e5574d" stroke-width="0.55" opacity="0.85"/>
<line x1="548.08" y1="45.53" x2="548.08" y2="51.82" stroke="#e5574d" stroke-width="0.5" opacity="0.8"/>
<circle cx="548.08" cy="48.67" r="1.7" fill="none" stroke="#e5574d" stroke-width="0.55" opacity="0.85"/>
<line x1="548.69" y1="43.44" x2="548.69" y2="51.09" stroke="#e5574d" stroke-width="0.5" opacity="0.8"/>
<circle cx="548.69" cy="47.27" r="1.7" fill="none" stroke="#e5574d" stroke-width="0.55" opacity="0.85"/>
<line x1="549.31" y1="39.33" x2="549.31" y2="47.17" stroke="#e5574d" stroke-width="0.5" opacity="0.8"/>
<circle cx="549.31" cy="43.25" r="1.7" fill="none" stroke="#e5574d" stroke-width="0.55" opacity="0.85"/>
<line x1="549.92" y1="43.24" x2="549.92" y2="52.52" stroke="#e5574d" stroke-width="0.5" opacity="0.8"/>
<circle cx="549.92" cy="47.88" r="1.7" fill="none" stroke="#e5574d" stroke-width="0.55" opacity="0.85"/>
<line x1="550.54" y1="42.43" x2="550.54" y2="48.77" stroke="#e5574d" stroke-width="0.5" opacity="0.8"/>
<circle cx="550.54" cy="45.60" r="1.7" fill="none" stroke="#e5574d" stroke-width="0.55" opacity="0.85"/>
<line x1="551.15" y1="41.36" x2="551.15" y2="48.85" stroke="#e5574d" stroke-width="0.5" opacity="0.8"/>
<circle cx="551.15" cy="45.10" r="1.7" fill="none" stroke="#e5574d" stroke-width="0.55" opacity="0.85"/>
<line x1="551.77" y1="38.44" x2="551.77" y2="47.47" stroke="#e5574d" stroke-width="0.5" opacity="0.8"/>
<circle cx="551.77" cy="42.95" r="1.7" fill="none" stroke="#e5574d" stroke-width="0.55" opacity="0.85"/>
<line x1="552.38" y1="36.33" x2="552.38" y2="44.83" stroke="#e5574d" stroke-width="0.5" opacity="0.8"/>
<circle cx="552.38" cy="40.58" r="1.7" fill="none" stroke="#e5574d" stroke-width="0.55" opacity="0.85"/>
<line x1="553.00" y1="36.37" x2="553.00" y2="43.98" stroke="#e5574d" stroke-width="0.5" opacity="0.8"/>
<circle cx="553.00" cy="40.18" r="1.7" fill="none" stroke="#e5574d" stroke-width="0.55" opacity="0.85"/>
<line x1="550.00" y1="40.99" x2="550.00" y2="45.14" stroke="#e5574d" stroke-width="0.5" opacity="0.8"/>
<circle cx="550.00" cy="43.06" r="1.7" fill="none" stroke="#e5574d" stroke-width="0.55" opacity="0.85"/>
<line x1="550.46" y1="41.63" x2="550.46" y2="47.12" stroke="#e5574d" stroke-width="0.5" opacity="0.8"/>
<circle cx="550.46" cy="44.38" r="1.7" fill="none" stroke="#e5574d" stroke-width="0.55" opacity="0.85"/>
<line x1="550.92" y1="39.96" x2="550.92" y2="47.56" stroke="#e5574d" stroke-width="0.5" opacity="0.8"/>
<circle cx="550.92" cy="43.76" r="1.7" fill="none" stroke="#e5574d" stroke-width="0.55" opacity="0.85"/>
<line x1="551.38" y1="39.86" x2="551.38" y2="42.92" stroke="#e5574d" stroke-width="0.5" opacity="0.8"/>
<circle cx="551.38" cy="41.39" r="1.7" fill="none" stroke="#e5574d" stroke-width="0.55" opacity="0.85"/>
<line x1="551.84" y1="38.40" x2="551.84" y2="44.80" stroke="#e5574d" stroke-width="0.5" opacity="0.8"/>
<circle cx="551.84" cy="41.60" r="1.7" fill="none" stroke="#e5574d" stroke-width="0.55" opacity="0.85"/>
<line x1="552.30" y1="38.97" x2="552.30" y2="42.82" stroke="#e5574d" stroke-width="0.5" opacity="0.8"/>
<circle cx="552.30" cy="40.89" r="1.7" fill="none" stroke="#e5574d" stroke-width="0.55" opacity="0.85"/>
<line x1="552.76" y1="42.16" x2="552.76" y2="48.46" stroke="#e5574d" stroke-width="0.5" opacity="0.8"/>
<circle cx="552.76" cy="45.31" r="1.7" fill="none" stroke="#e5574d" stroke-width="0.55" opacity="0.85"/>
<line x1="553.22" y1="38.54" x2="553.22" y2="46.00" stroke="#e5574d" stroke-width="0.5" opacity="0.8"/>
<circle cx="553.22" cy="42.27" r="1.7" fill="none" stroke="#e5574d" stroke-width="0.55" opacity="0.85"/>
<line x1="553.68" y1="38.30" x2="553.68" y2="44.63" stroke="#e5574d" stroke-width="0.5" opacity="0.8"/>
<circle cx="553.68" cy="41.46" r="1.7" fill="none" stroke="#e5574d" stroke-width="0.55" opacity="0.85"/>
<line x1="554.14" y1="38.00" x2="554.14" y2="43.15" stroke="#e5574d" stroke-width="0.5" opacity="0.8"/>
<circle cx="554.14" cy="40.57" r="1.7" fill="none" stroke="#e5574d" stroke-width="0.55" opacity="0.85"/>
<line x1="554.60" y1="40.61" x2="554.60" y2="48.18" stroke="#e5574d" stroke-width="0.5" opacity="0.8"/>
<circle cx="554.60" cy="44.40" r="1.7" fill="none" stroke="#e5574d" stroke-width="0.55" opacity="0.85"/>
<line x1="555.06" y1="42.36" x2="555.06" y2="47.28" stroke="#e5574d" stroke-width="0.5" opacity="0.8"/>
<circle cx="555.06" cy="44.82" r="1.7" fill="none" stroke="#e5574d" stroke-width="0.55" opacity="0.85"/>
<line x1="555.53" y1="40.57" x2="555.53" y2="45.16" stroke="#e5574d" stroke-width="0.5" opacity="0.8"/>
<circle cx="555.53" cy="42.87" r="1.7" fill="none" stroke="#e5574d" stroke-width="0.55" opacity="0.85"/>
<line x1="555.99" y1="37.22" x2="555.99" y2="42.70" stroke="#e5574d" stroke-width="0.5" opacity="0.8"/>
<circle cx="555.99" cy="39.96" r="1.7" fill="none" stroke="#e5574d" stroke-width="0.55" opacity="0.85"/>
<line x1="556.45" y1="40.79" x2="556.45" y2="48.04" stroke="#e5574d" stroke-width="0.5" opacity="0.8"/>
<circle cx="556.45" cy="44.41" r="1.7" fill="none" stroke="#e5574d" stroke-width="0.55" opacity="0.85"/>
<line x1="556.91" y1="39.71" x2="556.91" y2="47.46" stroke="#e5574d" stroke-width="0.5" opacity="0.8"/>
<circle cx="556.91" cy="43.58" r="1.7" fill="none" stroke="#e5574d" stroke-width="0.55" opacity="0.85"/>
<line x1="557.37" y1="38.86" x2="557.37" y2="42.71" stroke="#e5574d" stroke-width="0.5" opacity="0.8"/>
<circle cx="557.37" cy="40.78" r="1.7" fill="none" stroke="#e5574d" stroke-width="0.55" opacity="0.85"/>
<line x1="557.83" y1="39.70" x2="557.83" y2="44.08" stroke="#e5574d" stroke-width="0.5" opacity="0.8"/>
<circle cx="557.83" cy="41.89" r="1.7" fill="none" stroke="#e5574d" stroke-width="0.55" opacity="0.85"/>
<line x1="558.29" y1="37.84" x2="558.29" y2="42.91" stroke="#e5574d" stroke-width="0.5" opacity="0.8"/>
<circle cx="558.29" cy="40.38" r="1.7" fill="none" stroke="#e5574d" stroke-width="0.55" opacity="0.85"/>
<line x1="558.75" y1="40.29" x2="558.75" y2="45.76" stroke="#e5574d" stroke-width="0.5" opacity="0.8"/>
<circle cx="558.75" cy="43.02" r="1.7" fill="none" stroke="#e5574d" stroke-width="0.55" opacity="0.85"/>
<line x1="559.21" y1="37.46" x2="559.21" y2="44.66" stroke="#e5574d" stroke-width="0.5" opacity="0.8"/>
<circle cx="559.21" cy="41.06" r="1.7" fill="none" stroke="#e5574d" stroke-width="0.55" opacity="0.85"/>
<line x1="559.67" y1="42.73" x2="559.67" y2="47.99" stroke="#e5574d" stroke-width="0.5" opacity="0.8"/>
<circle cx="559.67" cy="45.36" r="1.7" fill="none" stroke="#e5574d" stroke-width="0.55" opacity="0.85"/>
<line x1="560.13" y1="38.01" x2="560.13" y2="41.17" stroke="#e5574d" stroke-width="0.5" opacity="0.8"/>
<circle cx="560.13" cy="39.59" r="1.7" fill="none" stroke="#e5574d" stroke-width="0.55" opacity="0.85"/>
<line x1="560.59" y1="43.14" x2="560.59" y2="46.35" stroke="#e5574d" stroke-width="0.5" opacity="0.8"/>
<circle cx="560.59" cy="44.74" r="1.7" fill="none" stroke="#e5574d" stroke-width="0.55" opacity="0.85"/>
<line x1="561.05" y1="40.82" x2="561.05" y2="46.67" stroke="#e5574d" stroke-width="0.5" opacity="0.8"/>
<circle cx="561.05" cy="43.75" r="1.7" fill="none" stroke="#e5574d" stroke-width="0.55" opacity="0.85"/>
<line x1="561.51" y1="37.77" x2="561.51" y2="44.73" stroke="#e5574d" stroke-width="0.5" opacity="0.8"/>
<circle cx="561.51" cy="41.25" r="1.7" fill="none" stroke="#e5574d" stroke-width="0.55" opacity="0.85"/>
<line x1="561.97" y1="37.62" x2="561.97" y2="41.30" stroke="#e5574d" stroke-width="0.5" opacity="0.8"/>
<circle cx="561.97" cy="39.46" r="1.7" fill="none" stroke="#e5574d" stroke-width="0.55" opacity="0.85"/>
<line x1="562.43" y1="40.76" x2="562.43" y2="43.89" stroke="#e5574d" stroke-width="0.5" opacity="0.8"/>
<circle cx="562.43" cy="42.32" r="1.7" fill="none" stroke="#e5574d" stroke-width="0.55" opacity="0.85"/>
<line x1="562.89" y1="42.71" x2="562.89" y2="46.89" stroke="#e5574d" stroke-width="0.5" opacity="0.8"/>
<circle cx="562.89" cy="44.80" r="1.7" fill="none" stroke="#e5574d" stroke-width="0.55" opacity="0.85"/>
<line x1="563.35" y1="38.86" x2="563.35" y2="42.09" stroke="#e5574d" stroke-width="0.5" opacity="0.8"/>
<circle cx="563.35" cy="40.47" r="1.7" fill="none" stroke="#e5574d" stroke-width="0.55" opacity="0.85"/>
<line x1="563.81" y1="41.06" x2="563.81" y2="46.30" stroke="#e5574d" stroke-width="0.5" opacity="0.8"/>
<circle cx="563.81" cy="43.68" r="1.7" fill="none" stroke="#e5574d" stroke-width="0.55" opacity="0.85"/>
<line x1="564.27" y1="40.63" x2="564.27" y2="46.91" stroke="#e5574d" stroke-width="0.5" opacity="0.8"/>
<circle cx="564.27" cy="43.77" r="1.7" fill="none" stroke="#e5574d" stroke-width="0.55" opacity="0.85"/>
<line x1="564.73" y1="41.09" x2="564.73" y2="48.89" stroke="#e5574d" stroke-width="0.5" opacity="0.8"/>
<circle cx="564.73" cy="44.99" r="1.7" fill="none" stroke="#e5574d" stroke-width="0.55" opacity="0.85"/>
<line x1="565.19" y1="42.29" x2="565.19" y2="46.29" stroke="#e5574d" stroke-width="0.5" opacity="0.8"/>
<circle cx="565.19" cy="44.29" r="1.7" fill="none" stroke="#e5574d" stroke-width="0.55" opacity="0.85"/>
<line x1="565.65" y1="41.09" x2="565.65" y2="44.98" stroke="#e5574d" stroke-width="0.5" opacity="0.8"/>
<circle cx="565.65" cy="43.03" r="1.7" fill="none" stroke="#e5574d" stroke-width="0.55" opacity="0.85"/>
<line x1="566.12" y1="37.47" x2="566.12" y2="42.83" stroke="#e5574d" stroke-width="0.5" opacity="0.8"/>
<circle cx="566.12" cy="40.15" r="1.7" fill="none" stroke="#e5574d" stroke-width="0.55" opacity="0.85"/>
<line x1="566.58" y1="42.78" x2="566.58" y2="46.68" stroke="#e5574d" stroke-width="0.5" opacity="0.8"/>
<circle cx="566.58" cy="44.73" r="1.7" fill="none" stroke="#e5574d" stroke-width="0.55" opacity="0.85"/>
<line x1="567.04" y1="39.62" x2="567.04" y2="44.35" stroke="#e5574d" stroke-width="0.5" opacity="0.8"/>
<circle cx="567.04" cy="41.98" r="1.7" fill="none" stroke="#e5574d" stroke-width="0.55" opacity="0.85"/>
<line x1="567.50" y1="41.98" x2="567.50" y2="47.58" stroke="#e5574d" stroke-width="0.5" opacity="0.8"/>
<circle cx="567.50" cy="44.78" r="1.7" fill="none" stroke="#e5574d" stroke-width="0.55" opacity="0.85"/>
<line x1="567.96" y1="40.93" x2="567.96" y2="47.71" stroke="#e5574d" stroke-width="0.5" opacity="0.8"/>
<circle cx="567.96" cy="44.32" r="1.7" fill="none" stroke="#e5574d" stroke-width="0.55" opacity="0.85"/>
<line x1="568.42" y1="39.50" x2="568.42" y2="46.46" stroke="#e5574d" stroke-width="0.5" opacity="0.8"/>
<circle cx="568.42" cy="42.98" r="1.7" fill="none" stroke="#e5574d" stroke-width="0.55" opacity="0.85"/>
<line x1="568.88" y1="44.61" x2="568.88" y2="48.05" stroke="#e5574d" stroke-width="0.5" opacity="0.8"/>
<circle cx="568.88" cy="46.33" r="1.7" fill="none" stroke="#e5574d" stroke-width="0.55" opacity="0.85"/>
<line x1="569.34" y1="43.26" x2="569.34" y2="49.87" stroke="#e5574d" stroke-width="0.5" opacity="0.8"/>
<circle cx="569.34" cy="46.56" r="1.7" fill="none" stroke="#e5574d" stroke-width="0.55" opacity="0.85"/>
<line x1="569.80" y1="38.86" x2="569.80" y2="44.12" stroke="#e5574d" stroke-width="0.5" opacity="0.8"/>
<circle cx="569.80" cy="41.49" r="1.7" fill="none" stroke="#e5574d" stroke-width="0.55" opacity="0.85"/>
<line x1="570.26" y1="40.95" x2="570.26" y2="48.50" stroke="#e5574d" stroke-width="0.5" opacity="0.8"/>
<circle cx="570.26" cy="44.72" r="1.7" fill="none" stroke="#e5574d" stroke-width="0.55" opacity="0.85"/>
<line x1="570.72" y1="40.26" x2="570.72" y2="46.11" stroke="#e5574d" stroke-width="0.5" opacity="0.8"/>
<circle cx="570.72" cy="43.19" r="1.7" fill="none" stroke="#e5574d" stroke-width="0.55" opacity="0.85"/>
<line x1="571.18" y1="42.96" x2="571.18" y2="49.95" stroke="#e5574d" stroke-width="0.5" opacity="0.8"/>
<circle cx="571.18" cy="46.46" r="1.7" fill="none" stroke="#e5574d" stroke-width="0.55" opacity="0.85"/>
<line x1="571.64" y1="44.26" x2="571.64" y2="49.58" stroke="#e5574d" stroke-width="0.5" opacity="0.8"/>
<circle cx="571.64" cy="46.92" r="1.7" fill="none" stroke="#e5574d" stroke-width="0.55" opacity="0.85"/>
<line x1="572.10" y1="43.09" x2="572.10" y2="47.11" stroke="#e5574d" stroke-width="0.5" opacity="0.8"/>
<circle cx="572.10" cy="45.10" r="1.7" fill="none" stroke="#e5574d" stroke-width="0.55" opacity="0.85"/>
<line x1="572.56" y1="42.05" x2="572.56" y2="49.14" stroke="#e5574d" stroke-width="0.5" opacity="0.8"/>
<circle cx="572.56" cy="45.60" r="1.7" fill="none" stroke="#e5574d" stroke-width="0.55" opacity="0.85"/>
<line x1="573.02" y1="41.83" x2="573.02" y2="48.42" stroke="#e5574d" stroke-width="0.5" opacity="0.8"/>
<circle cx="573.02" cy="45.13" r="1.7" fill="none" stroke="#e5574d" stroke-width="0.55" opacity="0.85"/>
<line x1="573.48" y1="38.68" x2="573.48" y2="46.18" stroke="#e5574d" stroke-width="0.5" opacity="0.8"/>
<circle cx="573.48" cy="42.43" r="1.7" fill="none" stroke="#e5574d" stroke-width="0.55" opacity="0.85"/>
<line x1="573.94" y1="43.44" x2="573.94" y2="51.33" stroke="#e5574d" stroke-width="0.5" opacity="0.8"/>
<circle cx="573.94" cy="47.38" r="1.7" fill="none" stroke="#e5574d" stroke-width="0.55" opacity="0.85"/>
<line x1="574.40" y1="41.11" x2="574.40" y2="48.06" stroke="#e5574d" stroke-width="0.5" opacity="0.8"/>
<circle cx="574.40" cy="44.58" r="1.7" fill="none" stroke="#e5574d" stroke-width="0.55" opacity="0.85"/>
<line x1="574.86" y1="39.46" x2="574.86" y2="47.01" stroke="#e5574d" stroke-width="0.5" opacity="0.8"/>
<circle cx="574.86" cy="43.24" r="1.7" fill="none" stroke="#e5574d" stroke-width="0.55" opacity="0.85"/>
<line x1="575.32" y1="44.33" x2="575.32" y2="49.07" stroke="#e5574d" stroke-width="0.5" opacity="0.8"/>
<circle cx="575.32" cy="46.70" r="1.7" fill="none" stroke="#e5574d" stroke-width="0.55" opacity="0.85"/>
<line x1="575.78" y1="39.19" x2="575.78" y2="44.39" stroke="#e5574d" stroke-width="0.5" opacity="0.8"/>
<circle cx="575.78" cy="41.79" r="1.7" fill="none" stroke="#e5574d" stroke-width="0.55" opacity="0.85"/>
<line x1="576.24" y1="41.40" x2="576.24" y2="48.24" stroke="#e5574d" stroke-width="0.5" opacity="0.8"/>
<circle cx="576.24" cy="44.82" r="1.7" fill="none" stroke="#e5574d" stroke-width="0.55" opacity="0.85"/>
<line x1="576.71" y1="42.88" x2="576.71" y2="46.02" stroke="#e5574d" stroke-width="0.5" opacity="0.8"/>
<circle cx="576.71" cy="44.45" r="1.7" fill="none" stroke="#e5574d" stroke-width="0.55" opacity="0.85"/>
<line x1="577.17" y1="44.89" x2="577.17" y2="48.21" stroke="#e5574d" stroke-width="0.5" opacity="0.8"/>
<circle cx="577.17" cy="46.55" r="1.7" fill="none" stroke="#e5574d" stroke-width="0.55" opacity="0.85"/>
<line x1="577.63" y1="44.59" x2="577.63" y2="48.45" stroke="#e5574d" stroke-width="0.5" opacity="0.8"/>
<circle cx="577.63" cy="46.52" r="1.7" fill="none" stroke="#e5574d" stroke-width="0.55" opacity="0.85"/>
<line x1="578.09" y1="40.11" x2="578.09" y2="47.05" stroke="#e5574d" stroke-width="0.5" opacity="0.8"/>
<circle cx="578.09" cy="43.58" r="1.7" fill="none" stroke="#e5574d" stroke-width="0.55" opacity="0.85"/>
<line x1="578.55" y1="40.49" x2="578.55" y2="44.24" stroke="#e5574d" stroke-width="0.5" opacity="0.8"/>
<circle cx="578.55" cy="42.36" r="1.7" fill="none" stroke="#e5574d" stroke-width="0.55" opacity="0.85"/>
<line x1="579.01" y1="41.49" x2="579.01" y2="48.11" stroke="#e5574d" stroke-width="0.5" opacity="0.8"/>
<circle cx="579.01" cy="44.80" r="1.7" fill="none" stroke="#e5574d" stroke-width="0.55" opacity="0.85"/>
<line x1="579.47" y1="43.67" x2="579.47" y2="50.12" stroke="#e5574d" stroke-width="0.5" opacity="0.8"/>
<circle cx="579.47" cy="46.90" r="1.7" fill="none" stroke="#e5574d" stroke-width="0.55" opacity="0.85"/>
<line x1="579.93" y1="44.87" x2="579.93" y2="50.33" stroke="#e5574d" stroke-width="0.5" opacity="0.8"/>
<circle cx="579.93" cy="47.60" r="1.7" fill="none" stroke="#e5574d" stroke-width="0.55" opacity="0.85"/>
<line x1="580.39" y1="45.93" x2="580.39" y2="49.36" stroke="#e5574d" stroke-width="0.5" opacity="0.8"/>
<circle cx="580.39" cy="47.65" r="1.7" fill="none" stroke="#e5574d" stroke-width="0.55" opacity="0.85"/>
<line x1="580.85" y1="40.20" x2="580.85" y2="45.83" stroke="#e5574d" stroke-width="0.5" opacity="0.8"/>
<circle cx="580.85" cy="43.01" r="1.7" fill="none" stroke="#e5574d" stroke-width="0.55" opacity="0.85"/>
<line x1="581.31" y1="40.15" x2="581.31" y2="46.80" stroke="#e5574d" stroke-width="0.5" opacity="0.8"/>
<circle cx="581.31" cy="43.47" r="1.7" fill="none" stroke="#e5574d" stroke-width="0.55" opacity="0.85"/>
<line x1="581.77" y1="42.92" x2="581.77" y2="48.53" stroke="#e5574d" stroke-width="0.5" opacity="0.8"/>
<circle cx="581.77" cy="45.72" r="1.7" fill="none" stroke="#e5574d" stroke-width="0.55" opacity="0.85"/>
<line x1="582.23" y1="44.15" x2="582.23" y2="49.95" stroke="#e5574d" stroke-width="0.5" opacity="0.8"/>
<circle cx="582.23" cy="47.05" r="1.7" fill="none" stroke="#e5574d" stroke-width="0.55" opacity="0.85"/>
<line x1="582.69" y1="41.21" x2="582.69" y2="46.11" stroke="#e5574d" stroke-width="0.5" opacity="0.8"/>
<circle cx="582.69" cy="43.66" r="1.7" fill="none" stroke="#e5574d" stroke-width="0.55" opacity="0.85"/>
<line x1="583.15" y1="43.34" x2="583.15" y2="50.84" stroke="#e5574d" stroke-width="0.5" opacity="0.8"/>
<circle cx="583.15" cy="47.09" r="1.7" fill="none" stroke="#e5574d" stroke-width="0.55" opacity="0.85"/>
<line x1="583.61" y1="39.39" x2="583.61" y2="46.65" stroke="#e5574d" stroke-width="0.5" opacity="0.8"/>
<circle cx="583.61" cy="43.02" r="1.7" fill="none" stroke="#e5574d" stroke-width="0.55" opacity="0.85"/>
<line x1="584.07" y1="45.08" x2="584.07" y2="50.70" stroke="#e5574d" stroke-width="0.5" opacity="0.8"/>
<circle cx="584.07" cy="47.89" r="1.7" fill="none" stroke="#e5574d" stroke-width="0.55" opacity="0.85"/>
<line x1="584.53" y1="43.36" x2="584.53" y2="47.37" stroke="#e5574d" stroke-width="0.5" opacity="0.8"/>
<circle cx="584.53" cy="45.37" r="1.7" fill="none" stroke="#e5574d" stroke-width="0.55" opacity="0.85"/>
<line x1="584.99" y1="42.37" x2="584.99" y2="47.89" stroke="#e5574d" stroke-width="0.5" opacity="0.8"/>
<circle cx="584.99" cy="45.13" r="1.7" fill="none" stroke="#e5574d" stroke-width="0.55" opacity="0.85"/>
<line x1="585.45" y1="44.00" x2="585.45" y2="47.14" stroke="#e5574d" stroke-width="0.5" opacity="0.8"/>
<circle cx="585.45" cy="45.57" r="1.7" fill="none" stroke="#e5574d" stroke-width="0.55" opacity="0.85"/>
<line x1="585.91" y1="45.11" x2="585.91" y2="50.69" stroke="#e5574d" stroke-width="0.5" opacity="0.8"/>
<circle cx="585.91" cy="47.90" r="1.7" fill="none" stroke="#e5574d" stroke-width="0.55" opacity="0.85"/>
<line x1="586.37" y1="40.75" x2="586.37" y2="47.75" stroke="#e5574d" stroke-width="0.5" opacity="0.8"/>
<circle cx="586.37" cy="44.25" r="1.7" fill="none" stroke="#e5574d" stroke-width="0.55" opacity="0.85"/>
<line x1="586.83" y1="42.55" x2="586.83" y2="48.01" stroke="#e5574d" stroke-width="0.5" opacity="0.8"/>
<circle cx="586.83" cy="45.28" r="1.7" fill="none" stroke="#e5574d" stroke-width="0.55" opacity="0.85"/>
<line x1="587.29" y1="44.43" x2="587.29" y2="47.75" stroke="#e5574d" stroke-width="0.5" opacity="0.8"/>
<circle cx="587.29" cy="46.09" r="1.7" fill="none" stroke="#e5574d" stroke-width="0.55" opacity="0.85"/>
<line x1="587.76" y1="42.57" x2="587.76" y2="47.64" stroke="#e5574d" stroke-width="0.5" opacity="0.8"/>
<circle cx="587.76" cy="45.10" r="1.7" fill="none" stroke="#e5574d" stroke-width="0.55" opacity="0.85"/>
<line x1="588.22" y1="43.95" x2="588.22" y2="51.57" stroke="#e5574d" stroke-width="0.5" opacity="0.8"/>
<circle cx="588.22" cy="47.76" r="1.7" fill="none" stroke="#e5574d" stroke-width="0.55" opacity="0.85"/>
<line x1="588.68" y1="40.66" x2="588.68" y2="46.03" stroke="#e5574d" stroke-width="0.5" opacity="0.8"/>
<circle cx="588.68" cy="43.34" r="1.7" fill="none" stroke="#e5574d" stroke-width="0.55" opacity="0.85"/>
<line x1="589.14" y1="39.83" x2="589.14" y2="45.00" stroke="#e5574d" stroke-width="0.5" opacity="0.8"/>
<circle cx="589.14" cy="42.41" r="1.7" fill="none" stroke="#e5574d" stroke-width="0.55" opacity="0.85"/>
<line x1="589.60" y1="43.05" x2="589.60" y2="50.55" stroke="#e5574d" stroke-width="0.5" opacity="0.8"/>
<circle cx="589.60" cy="46.80" r="1.7" fill="none" stroke="#e5574d" stroke-width="0.55" opacity="0.85"/>
<line x1="590.06" y1="42.31" x2="590.06" y2="46.90" stroke="#e5574d" stroke-width="0.5" opacity="0.8"/>
<circle cx="590.06" cy="44.60" r="1.7" fill="none" stroke="#e5574d" stroke-width="0.55" opacity="0.85"/>
<line x1="590.52" y1="39.71" x2="590.52" y2="45.80" stroke="#e5574d" stroke-width="0.5" opacity="0.8"/>
<circle cx="590.52" cy="42.75" r="1.7" fill="none" stroke="#e5574d" stroke-width="0.55" opacity="0.85"/>
<line x1="590.98" y1="45.60" x2="590.98" y2="49.25" stroke="#e5574d" stroke-width="0.5" opacity="0.8"/>
<circle cx="590.98" cy="47.42" r="1.7" fill="none" stroke="#e5574d" stroke-width="0.55" opacity="0.85"/>
<line x1="591.44" y1="44.91" x2="591.44" y2="48.02" stroke="#e5574d" stroke-width="0.5" opacity="0.8"/>
<circle cx="591.44" cy="46.46" r="1.7" fill="none" stroke="#e5574d" stroke-width="0.55" opacity="0.85"/>
<line x1="591.90" y1="40.62" x2="591.90" y2="44.76" stroke="#e5574d" stroke-width="0.5" opacity="0.8"/>
<circle cx="591.90" cy="42.69" r="1.7" fill="none" stroke="#e5574d" stroke-width="0.55" opacity="0.85"/>
<line x1="592.36" y1="43.51" x2="592.36" y2="48.12" stroke="#e5574d" stroke-width="0.5" opacity="0.8"/>
<circle cx="592.36" cy="45.81" r="1.7" fill="none" stroke="#e5574d" stroke-width="0.55" opacity="0.85"/>
<line x1="592.82" y1="40.61" x2="592.82" y2="46.71" stroke="#e5574d" stroke-width="0.5" opacity="0.8"/>
<circle cx="592.82" cy="43.66" r="1.7" fill="none" stroke="#e5574d" stroke-width="0.55" opacity="0.85"/>
<line x1="593.28" y1="38.70" x2="593.28" y2="45.36" stroke="#e5574d" stroke-width="0.5" opacity="0.8"/>
<circle cx="593.28" cy="42.03" r="1.7" fill="none" stroke="#e5574d" stroke-width="0.55" opacity="0.85"/>
<line x1="593.74" y1="39.34" x2="593.74" y2="44.89" stroke="#e5574d" stroke-width="0.5" opacity="0.8"/>
<circle cx="593.74" cy="42.12" r="1.7" fill="none" stroke="#e5574d" stroke-width="0.55" opacity="0.85"/>
<line x1="594.20" y1="40.91" x2="594.20" y2="44.90" stroke="#e5574d" stroke-width="0.5" opacity="0.8"/>
<circle cx="594.20" cy="42.90" r="1.7" fill="none" stroke="#e5574d" stroke-width="0.55" opacity="0.85"/>
<line x1="594.66" y1="42.07" x2="594.66" y2="47.26" stroke="#e5574d" stroke-width="0.5" opacity="0.8"/>
<circle cx="594.66" cy="44.66" r="1.7" fill="none" stroke="#e5574d" stroke-width="0.55" opacity="0.85"/>
<line x1="595.12" y1="41.11" x2="595.12" y2="46.18" stroke="#e5574d" stroke-width="0.5" opacity="0.8"/>
<circle cx="595.12" cy="43.65" r="1.7" fill="none" stroke="#e5574d" stroke-width="0.55" opacity="0.85"/>
<line x1="595.58" y1="42.70" x2="595.58" y2="46.50" stroke="#e5574d" stroke-width="0.5" opacity="0.8"/>
<circle cx="595.58" cy="44.60" r="1.7" fill="none" stroke="#e5574d" stroke-width="0.55" opacity="0.85"/>
<line x1="596.04" y1="39.41" x2="596.04" y2="45.57" stroke="#e5574d" stroke-width="0.5" opacity="0.8"/>
<circle cx="596.04" cy="42.49" r="1.7" fill="none" stroke="#e5574d" stroke-width="0.55" opacity="0.85"/>
<line x1="596.50" y1="42.42" x2="596.50" y2="48.07" stroke="#e5574d" stroke-width="0.5" opacity="0.8"/>
<circle cx="596.50" cy="45.25" r="1.7" fill="none" stroke="#e5574d" stroke-width="0.55" opacity="0.85"/>
<line x1="596.96" y1="43.55" x2="596.96" y2="49.61" stroke="#e5574d" stroke-width="0.5" opacity="0.8"/>
<circle cx="596.96" cy="46.58" r="1.7" fill="none" stroke="#e5574d" stroke-width="0.55" opacity="0.85"/>
<line x1="597.42" y1="44.51" x2="597.42" y2="48.67" stroke="#e5574d" stroke-width="0.5" opacity="0.8"/>
<circle cx="597.42" cy="46.59" r="1.7" fill="none" stroke="#e5574d" stroke-width="0.55" opacity="0.85"/>
<line x1="597.88" y1="42.30" x2="597.88" y2="49.35" stroke="#e5574d" stroke-width="0.5" opacity="0.8"/>
<circle cx="597.88" cy="45.83" r="1.7" fill="none" stroke="#e5574d" stroke-width="0.55" opacity="0.85"/>
<line x1="598.35" y1="44.55" x2="598.35" y2="49.13" stroke="#e5574d" stroke-width="0.5" opacity="0.8"/>
<circle cx="598.35" cy="46.84" r="1.7" fill="none" stroke="#e5574d" stroke-width="0.55" opacity="0.85"/>
<line x1="598.81" y1="39.25" x2="598.81" y2="46.86" stroke="#e5574d" stroke-width="0.5" opacity="0.8"/>
<circle cx="598.81" cy="43.06" r="1.7" fill="none" stroke="#e5574d" stroke-width="0.55" opacity="0.85"/>
<line x1="599.27" y1="38.42" x2="599.27" y2="46.41" stroke="#e5574d" stroke-width="0.5" opacity="0.8"/>
<circle cx="599.27" cy="42.42" r="1.7" fill="none" stroke="#e5574d" stroke-width="0.55" opacity="0.85"/>
<line x1="599.73" y1="44.85" x2="599.73" y2="48.51" stroke="#e5574d" stroke-width="0.5" opacity="0.8"/>
<circle cx="599.73" cy="46.68" r="1.7" fill="none" stroke="#e5574d" stroke-width="0.55" opacity="0.85"/>
<line x1="600.19" y1="39.20" x2="600.19" y2="45.83" stroke="#e5574d" stroke-width="0.5" opacity="0.8"/>
<circle cx="600.19" cy="42.51" r="1.7" fill="none" stroke="#e5574d" stroke-width="0.55" opacity="0.85"/>
<line x1="600.65" y1="40.88" x2="600.65" y2="44.37" stroke="#e5574d" stroke-width="0.5" opacity="0.8"/>
<circle cx="600.65" cy="42.63" r="1.7" fill="none" stroke="#e5574d" stroke-width="0.55" opacity="0.85"/>
<line x1="601.11" y1="43.72" x2="601.11" y2="48.83" stroke="#e5574d" stroke-width="0.5" opacity="0.8"/>
<circle cx="601.11" cy="46.27" r="1.7" fill="none" stroke="#e5574d" stroke-width="0.55" opacity="0.85"/>
<line x1="601.57" y1="44.17" x2="601.57" y2="47.80" stroke="#e5574d" stroke-width="0.5" opacity="0.8"/>
<circle cx="601.57" cy="45.99" r="1.7" fill="none" stroke="#e5574d" stroke-width="0.55" opacity="0.85"/>
<line x1="602.03" y1="40.28" x2="602.03" y2="46.71" stroke="#e5574d" stroke-width="0.5" opacity="0.8"/>
<circle cx="602.03" cy="43.50" r="1.7" fill="none" stroke="#e5574d" stroke-width="0.55" opacity="0.85"/>
<line x1="602.49" y1="39.02" x2="602.49" y2="43.02" stroke="#e5574d" stroke-width="0.5" opacity="0.8"/>
<circle cx="602.49" cy="41.02" r="1.7" fill="none" stroke="#e5574d" stroke-width="0.55" opacity="0.85"/>
<line x1="602.95" y1="41.48" x2="602.95" y2="49.04" stroke="#e5574d" stroke-width="0.5" opacity="0.8"/>
<circle cx="602.95" cy="45.26" r="1.7" fill="none" stroke="#e5574d" stroke-width="0.55" opacity="0.85"/>
<line x1="603.41" y1="45.29" x2="603.41" y2="48.87" stroke="#e5574d" stroke-width="0.5" opacity="0.8"/>
<circle cx="603.41" cy="47.08" r="1.7" fill="none" stroke="#e5574d" stroke-width="0.55" opacity="0.85"/>
<line x1="603.87" y1="40.72" x2="603.87" y2="47.51" stroke="#e5574d" stroke-width="0.5" opacity="0.8"/>
<circle cx="603.87" cy="44.11" r="1.7" fill="none" stroke="#e5574d" stroke-width="0.55" opacity="0.85"/>
<line x1="604.33" y1="40.87" x2="604.33" y2="47.30" stroke="#e5574d" stroke-width="0.5" opacity="0.8"/>
<circle cx="604.33" cy="44.09" r="1.7" fill="none" stroke="#e5574d" stroke-width="0.55" opacity="0.85"/>
<line x1="604.79" y1="40.39" x2="604.79" y2="43.75" stroke="#e5574d" stroke-width="0.5" opacity="0.8"/>
<circle cx="604.79" cy="42.07" r="1.7" fill="none" stroke="#e5574d" stroke-width="0.55" opacity="0.85"/>
<line x1="605.25" y1="39.94" x2="605.25" y2="43.13" stroke="#e5574d" stroke-width="0.5" opacity="0.8"/>
<circle cx="605.25" cy="41.53" r="1.7" fill="none" stroke="#e5574d" stroke-width="0.55" opacity="0.85"/>
<line x1="605.71" y1="41.59" x2="605.71" y2="47.16" stroke="#e5574d" stroke-width="0.5" opacity="0.8"/>
<circle cx="605.71" cy="44.38" r="1.7" fill="none" stroke="#e5574d" stroke-width="0.55" opacity="0.85"/>
<line x1="606.17" y1="42.61" x2="606.17" y2="46.35" stroke="#e5574d" stroke-width="0.5" opacity="0.8"/>
<circle cx="606.17" cy="44.48" r="1.7" fill="none" stroke="#e5574d" stroke-width="0.55" opacity="0.85"/>
<line x1="606.63" y1="40.01" x2="606.63" y2="44.03" stroke="#e5574d" stroke-width="0.5" opacity="0.8"/>
<circle cx="606.63" cy="42.02" r="1.7" fill="none" stroke="#e5574d" stroke-width="0.55" opacity="0.85"/>
<line x1="607.09" y1="42.23" x2="607.09" y2="50.18" stroke="#e5574d" stroke-width="0.5" opacity="0.8"/>
<circle cx="607.09" cy="46.21" r="1.7" fill="none" stroke="#e5574d" stroke-width="0.55" opacity="0.85"/>
<line x1="607.55" y1="45.02" x2="607.55" y2="48.50" stroke="#e5574d" stroke-width="0.5" opacity="0.8"/>
<circle cx="607.55" cy="46.76" r="1.7" fill="none" stroke="#e5574d" stroke-width="0.55" opacity="0.85"/>
<line x1="608.01" y1="37.34" x2="608.01" y2="45.10" stroke="#e5574d" stroke-width="0.5" opacity="0.8"/>
<circle cx="608.01" cy="41.22" r="1.7" fill="none" stroke="#e5574d" stroke-width="0.55" opacity="0.85"/>
<line x1="608.47" y1="40.37" x2="608.47" y2="47.19" stroke="#e5574d" stroke-width="0.5" opacity="0.8"/>
<circle cx="608.47" cy="43.78" r="1.7" fill="none" stroke="#e5574d" stroke-width="0.55" opacity="0.85"/>
<line x1="608.94" y1="40.24" x2="608.94" y2="45.58" stroke="#e5574d" stroke-width="0.5" opacity="0.8"/>
<circle cx="608.94" cy="42.91" r="1.7" fill="none" stroke="#e5574d" stroke-width="0.55" opacity="0.85"/>
<line x1="609.40" y1="41.54" x2="609.40" y2="46.69" stroke="#e5574d" stroke-width="0.5" opacity="0.8"/>
<circle cx="609.40" cy="44.11" r="1.7" fill="none" stroke="#e5574d" stroke-width="0.55" opacity="0.85"/>
<line x1="609.86" y1="43.13" x2="609.86" y2="46.19" stroke="#e5574d" stroke-width="0.5" opacity="0.8"/>
<circle cx="609.86" cy="44.66" r="1.7" fill="none" stroke="#e5574d" stroke-width="0.55" opacity="0.85"/>
<line x1="610.32" y1="41.69" x2="610.32" y2="48.91" stroke="#e5574d" stroke-width="0.5" opacity="0.8"/>
<circle cx="610.32" cy="45.30" r="1.7" fill="none" stroke="#e5574d" stroke-width="0.55" opacity="0.85"/>
<line x1="610.78" y1="39.33" x2="610.78" y2="44.60" stroke="#e5574d" stroke-width="0.5" opacity="0.8"/>
<circle cx="610.78" cy="41.97" r="1.7" fill="none" stroke="#e5574d" stroke-width="0.55" opacity="0.85"/>
<line x1="611.24" y1="43.03" x2="611.24" y2="48.05" stroke="#e5574d" stroke-width="0.5" opacity="0.8"/>
<circle cx="611.24" cy="45.54" r="1.7" fill="none" stroke="#e5574d" stroke-width="0.55" opacity="0.85"/>
<line x1="611.70" y1="40.14" x2="611.70" y2="43.97" stroke="#e5574d" stroke-width="0.5" opacity="0.8"/>
<circle cx="611.70" cy="42.06" r="1.7" fill="none" stroke="#e5574d" stroke-width="0.55" opacity="0.85"/>
<line x1="612.16" y1="42.55" x2="612.16" y2="45.62" stroke="#e5574d" stroke-width="0.5" opacity="0.8"/>
<circle cx="612.16" cy="44.09" r="1.7" fill="none" stroke="#e5574d" stroke-width="0.55" opacity="0.85"/>
<line x1="612.62" y1="43.02" x2="612.62" y2="50.03" stroke="#e5574d" stroke-width="0.5" opacity="0.8"/>
<circle cx="612.62" cy="46.52" r="1.7" fill="none" stroke="#e5574d" stroke-width="0.55" opacity="0.85"/>
<line x1="613.08" y1="41.66" x2="613.08" y2="48.97" stroke="#e5574d" stroke-width="0.5" opacity="0.8"/>
<circle cx="613.08" cy="45.31" r="1.7" fill="none" stroke="#e5574d" stroke-width="0.55" opacity="0.85"/>
<line x1="613.54" y1="42.32" x2="613.54" y2="47.34" stroke="#e5574d" stroke-width="0.5" opacity="0.8"/>
<circle cx="613.54" cy="44.83" r="1.7" fill="none" stroke="#e5574d" stroke-width="0.55" opacity="0.85"/>
<line x1="614.00" y1="41.88" x2="614.00" y2="47.40" stroke="#e5574d" stroke-width="0.5" opacity="0.8"/>
<circle cx="614.00" cy="44.64" r="1.7" fill="none" stroke="#e5574d" stroke-width="0.55" opacity="0.85"/>
<circle cx="613.30" cy="58.70" r="1.7" fill="none" stroke="#e87068" stroke-width="0.6" opacity="0.85"/>
<circle cx="613.50" cy="85.30" r="1.7" fill="none" stroke="#e87068" stroke-width="0.6" opacity="0.85"/>
<circle cx="614.50" cy="88.50" r="1.7" fill="none" stroke="#e87068" stroke-width="0.6" opacity="0.85"/>
<circle cx="616.60" cy="88.30" r="1.7" fill="none" stroke="#e87068" stroke-width="0.6" opacity="0.85"/>
<circle cx="622.70" cy="85.90" r="1.7" fill="none" stroke="#e87068" stroke-width="0.6" opacity="0.85"/>
<circle cx="627.90" cy="86.80" r="1.7" fill="none" stroke="#e87068" stroke-width="0.6" opacity="0.85"/>
<circle cx="633.40" cy="83.80" r="1.7" fill="none" stroke="#e87068" stroke-width="0.6" opacity="0.85"/>
<circle cx="638.00" cy="82.80" r="1.7" fill="none" stroke="#e87068" stroke-width="0.6" opacity="0.85"/>
<circle cx="642.60" cy="80.70" r="1.7" fill="none" stroke="#e87068" stroke-width="0.6" opacity="0.85"/>
<circle cx="646.20" cy="79.20" r="1.7" fill="none" stroke="#e87068" stroke-width="0.6" opacity="0.85"/>
<line x1="613.50" y1="82.00" x2="613.50" y2="92.00" stroke="#e5574d" stroke-width="0.5"/>
<polyline points="495.10,137.50 516.20,137.50 548.80,31.30 614.50,31.30 614.50,137.50 647.60,137.50" fill="none" stroke="#7043b5" stroke-width="1.3" stroke-linejoin="round"/>
<line x1="616.10" y1="51.00" x2="631.90" y2="51.00" stroke="#7043b5" stroke-width="1"/>
<polygon points="636.90,51.00 630.90,53.00 632.40,51.00 630.90,49.00" fill="#7043b5"/>
<line x1="495.10" y1="17.40" x2="647.60" y2="17.40" stroke="#222" stroke-width="1"/>
<line x1="495.10" y1="144.30" x2="647.60" y2="144.30" stroke="#222" stroke-width="1"/>
<line x1="495.10" y1="16.90" x2="495.10" y2="144.80" stroke="#222" stroke-width="1"/>
<line x1="647.60" y1="16.90" x2="647.60" y2="144.80" stroke="#7043b5" stroke-width="1"/>
<line x1="495.10" y1="144.30" x2="495.10" y2="142.30" stroke="#222" stroke-width="0.9"/>
<line x1="495.10" y1="17.40" x2="495.10" y2="19.40" stroke="#222" stroke-width="0.9"/>
<line x1="499.46" y1="144.30" x2="499.46" y2="142.30" stroke="#222" stroke-width="0.9"/>
<line x1="499.46" y1="17.40" x2="499.46" y2="19.40" stroke="#222" stroke-width="0.9"/>
<line x1="503.81" y1="144.30" x2="503.81" y2="142.30" stroke="#222" stroke-width="0.9"/>
<line x1="503.81" y1="17.40" x2="503.81" y2="19.40" stroke="#222" stroke-width="0.9"/>
<line x1="508.17" y1="144.30" x2="508.17" y2="142.30" stroke="#222" stroke-width="0.9"/>
<line x1="508.17" y1="17.40" x2="508.17" y2="19.40" stroke="#222" stroke-width="0.9"/>
<line x1="512.53" y1="144.30" x2="512.53" y2="142.30" stroke="#222" stroke-width="0.9"/>
<line x1="512.53" y1="17.40" x2="512.53" y2="19.40" stroke="#222" stroke-width="0.9"/>
<line x1="516.89" y1="144.30" x2="516.89" y2="142.30" stroke="#222" stroke-width="0.9"/>
<line x1="516.89" y1="17.40" x2="516.89" y2="19.40" stroke="#222" stroke-width="0.9"/>
<line x1="521.24" y1="144.30" x2="521.24" y2="142.30" stroke="#222" stroke-width="0.9"/>
<line x1="521.24" y1="17.40" x2="521.24" y2="19.40" stroke="#222" stroke-width="0.9"/>
<line x1="525.60" y1="144.30" x2="525.60" y2="142.30" stroke="#222" stroke-width="0.9"/>
<line x1="525.60" y1="17.40" x2="525.60" y2="19.40" stroke="#222" stroke-width="0.9"/>
<line x1="529.96" y1="144.30" x2="529.96" y2="142.30" stroke="#222" stroke-width="0.9"/>
<line x1="529.96" y1="17.40" x2="529.96" y2="19.40" stroke="#222" stroke-width="0.9"/>
<line x1="534.31" y1="144.30" x2="534.31" y2="142.30" stroke="#222" stroke-width="0.9"/>
<line x1="534.31" y1="17.40" x2="534.31" y2="19.40" stroke="#222" stroke-width="0.9"/>
<line x1="538.67" y1="144.30" x2="538.67" y2="142.30" stroke="#222" stroke-width="0.9"/>
<line x1="538.67" y1="17.40" x2="538.67" y2="19.40" stroke="#222" stroke-width="0.9"/>
<line x1="543.03" y1="144.30" x2="543.03" y2="142.30" stroke="#222" stroke-width="0.9"/>
<line x1="543.03" y1="17.40" x2="543.03" y2="19.40" stroke="#222" stroke-width="0.9"/>
<line x1="547.39" y1="144.30" x2="547.39" y2="142.30" stroke="#222" stroke-width="0.9"/>
<line x1="547.39" y1="17.40" x2="547.39" y2="19.40" stroke="#222" stroke-width="0.9"/>
<line x1="551.74" y1="144.30" x2="551.74" y2="142.30" stroke="#222" stroke-width="0.9"/>
<line x1="551.74" y1="17.40" x2="551.74" y2="19.40" stroke="#222" stroke-width="0.9"/>
<line x1="556.10" y1="144.30" x2="556.10" y2="142.30" stroke="#222" stroke-width="0.9"/>
<line x1="556.10" y1="17.40" x2="556.10" y2="19.40" stroke="#222" stroke-width="0.9"/>
<line x1="560.46" y1="144.30" x2="560.46" y2="142.30" stroke="#222" stroke-width="0.9"/>
<line x1="560.46" y1="17.40" x2="560.46" y2="19.40" stroke="#222" stroke-width="0.9"/>
<line x1="564.81" y1="144.30" x2="564.81" y2="142.30" stroke="#222" stroke-width="0.9"/>
<line x1="564.81" y1="17.40" x2="564.81" y2="19.40" stroke="#222" stroke-width="0.9"/>
<line x1="569.17" y1="144.30" x2="569.17" y2="142.30" stroke="#222" stroke-width="0.9"/>
<line x1="569.17" y1="17.40" x2="569.17" y2="19.40" stroke="#222" stroke-width="0.9"/>
<line x1="573.53" y1="144.30" x2="573.53" y2="142.30" stroke="#222" stroke-width="0.9"/>
<line x1="573.53" y1="17.40" x2="573.53" y2="19.40" stroke="#222" stroke-width="0.9"/>
<line x1="577.89" y1="144.30" x2="577.89" y2="142.30" stroke="#222" stroke-width="0.9"/>
<line x1="577.89" y1="17.40" x2="577.89" y2="19.40" stroke="#222" stroke-width="0.9"/>
<line x1="582.24" y1="144.30" x2="582.24" y2="142.30" stroke="#222" stroke-width="0.9"/>
<line x1="582.24" y1="17.40" x2="582.24" y2="19.40" stroke="#222" stroke-width="0.9"/>
<line x1="586.60" y1="144.30" x2="586.60" y2="142.30" stroke="#222" stroke-width="0.9"/>
<line x1="586.60" y1="17.40" x2="586.60" y2="19.40" stroke="#222" stroke-width="0.9"/>
<line x1="590.96" y1="144.30" x2="590.96" y2="142.30" stroke="#222" stroke-width="0.9"/>
<line x1="590.96" y1="17.40" x2="590.96" y2="19.40" stroke="#222" stroke-width="0.9"/>
<line x1="595.31" y1="144.30" x2="595.31" y2="142.30" stroke="#222" stroke-width="0.9"/>
<line x1="595.31" y1="17.40" x2="595.31" y2="19.40" stroke="#222" stroke-width="0.9"/>
<line x1="599.67" y1="144.30" x2="599.67" y2="142.30" stroke="#222" stroke-width="0.9"/>
<line x1="599.67" y1="17.40" x2="599.67" y2="19.40" stroke="#222" stroke-width="0.9"/>
<line x1="604.03" y1="144.30" x2="604.03" y2="142.30" stroke="#222" stroke-width="0.9"/>
<line x1="604.03" y1="17.40" x2="604.03" y2="19.40" stroke="#222" stroke-width="0.9"/>
<line x1="608.39" y1="144.30" x2="608.39" y2="142.30" stroke="#222" stroke-width="0.9"/>
<line x1="608.39" y1="17.40" x2="608.39" y2="19.40" stroke="#222" stroke-width="0.9"/>
<line x1="612.74" y1="144.30" x2="612.74" y2="142.30" stroke="#222" stroke-width="0.9"/>
<line x1="612.74" y1="17.40" x2="612.74" y2="19.40" stroke="#222" stroke-width="0.9"/>
<line x1="617.10" y1="144.30" x2="617.10" y2="142.30" stroke="#222" stroke-width="0.9"/>
<line x1="617.10" y1="17.40" x2="617.10" y2="19.40" stroke="#222" stroke-width="0.9"/>
<line x1="621.46" y1="144.30" x2="621.46" y2="142.30" stroke="#222" stroke-width="0.9"/>
<line x1="621.46" y1="17.40" x2="621.46" y2="19.40" stroke="#222" stroke-width="0.9"/>
<line x1="625.81" y1="144.30" x2="625.81" y2="142.30" stroke="#222" stroke-width="0.9"/>
<line x1="625.81" y1="17.40" x2="625.81" y2="19.40" stroke="#222" stroke-width="0.9"/>
<line x1="630.17" y1="144.30" x2="630.17" y2="142.30" stroke="#222" stroke-width="0.9"/>
<line x1="630.17" y1="17.40" x2="630.17" y2="19.40" stroke="#222" stroke-width="0.9"/>
<line x1="634.53" y1="144.30" x2="634.53" y2="142.30" stroke="#222" stroke-width="0.9"/>
<line x1="634.53" y1="17.40" x2="634.53" y2="19.40" stroke="#222" stroke-width="0.9"/>
<line x1="638.89" y1="144.30" x2="638.89" y2="142.30" stroke="#222" stroke-width="0.9"/>
<line x1="638.89" y1="17.40" x2="638.89" y2="19.40" stroke="#222" stroke-width="0.9"/>
<line x1="643.24" y1="144.30" x2="643.24" y2="142.30" stroke="#222" stroke-width="0.9"/>
<line x1="643.24" y1="17.40" x2="643.24" y2="19.40" stroke="#222" stroke-width="0.9"/>
<line x1="647.60" y1="144.30" x2="647.60" y2="142.30" stroke="#222" stroke-width="0.9"/>
<line x1="647.60" y1="17.40" x2="647.60" y2="19.40" stroke="#222" stroke-width="0.9"/>
<line x1="495.10" y1="144.30" x2="495.10" y2="141.10" stroke="#222" stroke-width="0.9"/>
<line x1="495.10" y1="17.40" x2="495.10" y2="20.60" stroke="#222" stroke-width="0.9"/>
<text x="495.1" y="156.3" font-size="10.8" fill="#1a1a1a" text-anchor="middle">120</text>
<line x1="516.89" y1="144.30" x2="516.89" y2="141.10" stroke="#222" stroke-width="0.9"/>
<line x1="516.89" y1="17.40" x2="516.89" y2="20.60" stroke="#222" stroke-width="0.9"/>
<text x="516.89" y="156.3" font-size="10.8" fill="#1a1a1a" text-anchor="middle">130</text>
<line x1="538.67" y1="144.30" x2="538.67" y2="141.10" stroke="#222" stroke-width="0.9"/>
<line x1="538.67" y1="17.40" x2="538.67" y2="20.60" stroke="#222" stroke-width="0.9"/>
<text x="538.67" y="156.3" font-size="10.8" fill="#1a1a1a" text-anchor="middle">140</text>
<line x1="560.46" y1="144.30" x2="560.46" y2="141.10" stroke="#222" stroke-width="0.9"/>
<line x1="560.46" y1="17.40" x2="560.46" y2="20.60" stroke="#222" stroke-width="0.9"/>
<text x="560.46" y="156.3" font-size="10.8" fill="#1a1a1a" text-anchor="middle">150</text>
<line x1="582.24" y1="144.30" x2="582.24" y2="141.10" stroke="#222" stroke-width="0.9"/>
<line x1="582.24" y1="17.40" x2="582.24" y2="20.60" stroke="#222" stroke-width="0.9"/>
<text x="582.24" y="156.3" font-size="10.8" fill="#1a1a1a" text-anchor="middle">160</text>
<line x1="604.03" y1="144.30" x2="604.03" y2="141.10" stroke="#222" stroke-width="0.9"/>
<line x1="604.03" y1="17.40" x2="604.03" y2="20.60" stroke="#222" stroke-width="0.9"/>
<text x="604.03" y="156.3" font-size="10.8" fill="#1a1a1a" text-anchor="middle">170</text>
<line x1="625.81" y1="144.30" x2="625.81" y2="141.10" stroke="#222" stroke-width="0.9"/>
<line x1="625.81" y1="17.40" x2="625.81" y2="20.60" stroke="#222" stroke-width="0.9"/>
<text x="625.81" y="156.3" font-size="10.8" fill="#1a1a1a" text-anchor="middle">180</text>
<line x1="647.60" y1="144.30" x2="647.60" y2="141.10" stroke="#222" stroke-width="0.9"/>
<line x1="647.60" y1="17.40" x2="647.60" y2="20.60" stroke="#222" stroke-width="0.9"/>
<text x="647.6" y="156.3" font-size="10.8" fill="#1a1a1a" text-anchor="middle">190</text>
<line x1="495.10" y1="144.30" x2="497.10" y2="144.30" stroke="#222" stroke-width="0.9"/>
<line x1="495.10" y1="139.22" x2="497.10" y2="139.22" stroke="#222" stroke-width="0.9"/>
<line x1="495.10" y1="134.15" x2="497.10" y2="134.15" stroke="#222" stroke-width="0.9"/>
<line x1="495.10" y1="129.07" x2="497.10" y2="129.07" stroke="#222" stroke-width="0.9"/>
<line x1="495.10" y1="124.00" x2="497.10" y2="124.00" stroke="#222" stroke-width="0.9"/>
<line x1="495.10" y1="118.92" x2="497.10" y2="118.92" stroke="#222" stroke-width="0.9"/>
<line x1="495.10" y1="113.84" x2="497.10" y2="113.84" stroke="#222" stroke-width="0.9"/>
<line x1="495.10" y1="108.77" x2="497.10" y2="108.77" stroke="#222" stroke-width="0.9"/>
<line x1="495.10" y1="103.69" x2="497.10" y2="103.69" stroke="#222" stroke-width="0.9"/>
<line x1="495.10" y1="98.62" x2="497.10" y2="98.62" stroke="#222" stroke-width="0.9"/>
<line x1="495.10" y1="93.54" x2="497.10" y2="93.54" stroke="#222" stroke-width="0.9"/>
<line x1="495.10" y1="88.46" x2="497.10" y2="88.46" stroke="#222" stroke-width="0.9"/>
<line x1="495.10" y1="83.39" x2="497.10" y2="83.39" stroke="#222" stroke-width="0.9"/>
<line x1="495.10" y1="78.31" x2="497.10" y2="78.31" stroke="#222" stroke-width="0.9"/>
<line x1="495.10" y1="73.24" x2="497.10" y2="73.24" stroke="#222" stroke-width="0.9"/>
<line x1="495.10" y1="68.16" x2="497.10" y2="68.16" stroke="#222" stroke-width="0.9"/>
<line x1="495.10" y1="63.08" x2="497.10" y2="63.08" stroke="#222" stroke-width="0.9"/>
<line x1="495.10" y1="58.01" x2="497.10" y2="58.01" stroke="#222" stroke-width="0.9"/>
<line x1="495.10" y1="52.93" x2="497.10" y2="52.93" stroke="#222" stroke-width="0.9"/>
<line x1="495.10" y1="47.86" x2="497.10" y2="47.86" stroke="#222" stroke-width="0.9"/>
<line x1="495.10" y1="42.78" x2="497.10" y2="42.78" stroke="#222" stroke-width="0.9"/>
<line x1="495.10" y1="37.70" x2="497.10" y2="37.70" stroke="#222" stroke-width="0.9"/>
<line x1="495.10" y1="32.63" x2="497.10" y2="32.63" stroke="#222" stroke-width="0.9"/>
<line x1="495.10" y1="27.55" x2="497.10" y2="27.55" stroke="#222" stroke-width="0.9"/>
<line x1="495.10" y1="22.48" x2="497.10" y2="22.48" stroke="#222" stroke-width="0.9"/>
<line x1="495.10" y1="17.40" x2="497.10" y2="17.40" stroke="#222" stroke-width="0.9"/>
<line x1="495.10" y1="144.30" x2="498.30" y2="144.30" stroke="#222" stroke-width="0.9"/>
<text x="492" y="147.4" font-size="11" fill="#1a1a1a" text-anchor="end">3.52</text>
<line x1="495.10" y1="118.92" x2="498.30" y2="118.92" stroke="#222" stroke-width="0.9"/>
<text x="492" y="122.02" font-size="11" fill="#1a1a1a" text-anchor="end">3.54</text>
<line x1="495.10" y1="93.54" x2="498.30" y2="93.54" stroke="#222" stroke-width="0.9"/>
<text x="492" y="96.64" font-size="11" fill="#1a1a1a" text-anchor="end">3.56</text>
<line x1="495.10" y1="68.16" x2="498.30" y2="68.16" stroke="#222" stroke-width="0.9"/>
<text x="492" y="71.26" font-size="11" fill="#1a1a1a" text-anchor="end">3.58</text>
<line x1="495.10" y1="42.78" x2="498.30" y2="42.78" stroke="#222" stroke-width="0.9"/>
<text x="492" y="45.88" font-size="11" fill="#1a1a1a" text-anchor="end">3.60</text>
<line x1="495.10" y1="17.40" x2="498.30" y2="17.40" stroke="#222" stroke-width="0.9"/>
<text x="492" y="20.5" font-size="11" fill="#1a1a1a" text-anchor="end">3.62</text>
<line x1="647.60" y1="144.30" x2="645.60" y2="144.30" stroke="#7043b5" stroke-width="0.9"/>
<line x1="647.60" y1="138.66" x2="645.60" y2="138.66" stroke="#7043b5" stroke-width="0.9"/>
<line x1="647.60" y1="133.02" x2="645.60" y2="133.02" stroke="#7043b5" stroke-width="0.9"/>
<line x1="647.60" y1="127.38" x2="645.60" y2="127.38" stroke="#7043b5" stroke-width="0.9"/>
<line x1="647.60" y1="121.74" x2="645.60" y2="121.74" stroke="#7043b5" stroke-width="0.9"/>
<line x1="647.60" y1="116.10" x2="645.60" y2="116.10" stroke="#7043b5" stroke-width="0.9"/>
<line x1="647.60" y1="110.46" x2="645.60" y2="110.46" stroke="#7043b5" stroke-width="0.9"/>
<line x1="647.60" y1="104.82" x2="645.60" y2="104.82" stroke="#7043b5" stroke-width="0.9"/>
<line x1="647.60" y1="99.18" x2="645.60" y2="99.18" stroke="#7043b5" stroke-width="0.9"/>
<line x1="647.60" y1="93.54" x2="645.60" y2="93.54" stroke="#7043b5" stroke-width="0.9"/>
<line x1="647.60" y1="87.90" x2="645.60" y2="87.90" stroke="#7043b5" stroke-width="0.9"/>
<line x1="647.60" y1="82.26" x2="645.60" y2="82.26" stroke="#7043b5" stroke-width="0.9"/>
<line x1="647.60" y1="76.62" x2="645.60" y2="76.62" stroke="#7043b5" stroke-width="0.9"/>
<line x1="647.60" y1="70.98" x2="645.60" y2="70.98" stroke="#7043b5" stroke-width="0.9"/>
<line x1="647.60" y1="65.34" x2="645.60" y2="65.34" stroke="#7043b5" stroke-width="0.9"/>
<line x1="647.60" y1="59.70" x2="645.60" y2="59.70" stroke="#7043b5" stroke-width="0.9"/>
<line x1="647.60" y1="54.06" x2="645.60" y2="54.06" stroke="#7043b5" stroke-width="0.9"/>
<line x1="647.60" y1="48.42" x2="645.60" y2="48.42" stroke="#7043b5" stroke-width="0.9"/>
<line x1="647.60" y1="42.78" x2="645.60" y2="42.78" stroke="#7043b5" stroke-width="0.9"/>
<line x1="647.60" y1="37.14" x2="645.60" y2="37.14" stroke="#7043b5" stroke-width="0.9"/>
<line x1="647.60" y1="31.50" x2="645.60" y2="31.50" stroke="#7043b5" stroke-width="0.9"/>
<line x1="647.60" y1="25.86" x2="645.60" y2="25.86" stroke="#7043b5" stroke-width="0.9"/>
<line x1="647.60" y1="20.22" x2="645.60" y2="20.22" stroke="#7043b5" stroke-width="0.9"/>
<line x1="647.60" y1="144.30" x2="644.40" y2="144.30" stroke="#7043b5" stroke-width="0.9"/>
<text x="651" y="147.4" font-size="11" fill="#7043b5" text-anchor="start">0</text>
<line x1="647.60" y1="116.10" x2="644.40" y2="116.10" stroke="#7043b5" stroke-width="0.9"/>
<text x="651" y="119.2" font-size="11" fill="#7043b5" text-anchor="start">100</text>
<line x1="647.60" y1="87.90" x2="644.40" y2="87.90" stroke="#7043b5" stroke-width="0.9"/>
<text x="651" y="91.0" font-size="11" fill="#7043b5" text-anchor="start">200</text>
<line x1="647.60" y1="59.70" x2="644.40" y2="59.70" stroke="#7043b5" stroke-width="0.9"/>
<text x="651" y="62.8" font-size="11" fill="#7043b5" text-anchor="start">300</text>
<line x1="647.60" y1="31.50" x2="644.40" y2="31.50" stroke="#7043b5" stroke-width="0.9"/>
<text x="651" y="34.6" font-size="11" fill="#7043b5" text-anchor="start">400</text>
<text x="574.4" y="169.5" font-size="12.2" fill="#1a1a1a" text-anchor="middle">Time / min</text>
<text x="464.6" y="101.2" font-size="11.8" fill="#1a1a1a" transform="rotate(-90 464.6 101.2)"><tspan font-style="italic">d</tspan><tspan font-size="7.7" dy="3.9">001</tspan><tspan dy="-3.9"> / Å</tspan></text>
<text x="682" y="131" font-size="12.8" fill="#7043b5" transform="rotate(-90 682 131)">Temperature / °C</text>
<text x="445.4" y="174.7" font-size="17.5" fill="#111" text-anchor="start">e</text>
<circle cx="515.00" cy="200.00" r="1.65" fill="#fbe4e2" fill-opacity="0.6" stroke="#ea8a83" stroke-width="0.75"/>
<circle cx="516.60" cy="202.97" r="1.65" fill="#fbe4e2" fill-opacity="0.6" stroke="#ea8a83" stroke-width="0.75"/>
<circle cx="518.20" cy="205.94" r="1.65" fill="#fbe4e2" fill-opacity="0.6" stroke="#ea8a83" stroke-width="0.75"/>
<circle cx="519.80" cy="208.91" r="1.65" fill="#fbe4e2" fill-opacity="0.6" stroke="#ea8a83" stroke-width="0.75"/>
<circle cx="521.40" cy="211.88" r="1.65" fill="#fbe4e2" fill-opacity="0.6" stroke="#ea8a83" stroke-width="0.75"/>
<circle cx="523.00" cy="214.85" r="1.65" fill="#fbe4e2" fill-opacity="0.6" stroke="#ea8a83" stroke-width="0.75"/>
<circle cx="524.60" cy="217.82" r="1.65" fill="#fbe4e2" fill-opacity="0.6" stroke="#ea8a83" stroke-width="0.75"/>
<circle cx="526.20" cy="220.79" r="1.65" fill="#fbe4e2" fill-opacity="0.6" stroke="#ea8a83" stroke-width="0.75"/>
<circle cx="527.80" cy="223.76" r="1.65" fill="#fbe4e2" fill-opacity="0.6" stroke="#ea8a83" stroke-width="0.75"/>
<circle cx="529.40" cy="226.73" r="1.65" fill="#fbe4e2" fill-opacity="0.6" stroke="#ea8a83" stroke-width="0.75"/>
<circle cx="531.00" cy="229.70" r="1.65" fill="#fbe4e2" fill-opacity="0.6" stroke="#ea8a83" stroke-width="0.75"/>
<circle cx="532.60" cy="232.20" r="1.65" fill="#fbe4e2" fill-opacity="0.6" stroke="#ea8a83" stroke-width="0.75"/>
<circle cx="534.20" cy="234.10" r="1.65" fill="#fbe4e2" fill-opacity="0.6" stroke="#ea8a83" stroke-width="0.75"/>
<circle cx="537.00" cy="233.90" r="1.65" fill="#fbe4e2" fill-opacity="0.6" stroke="#ea8a83" stroke-width="0.75"/>
<circle cx="538.80" cy="228.40" r="1.65" fill="#fbe4e2" fill-opacity="0.6" stroke="#ea8a83" stroke-width="0.75"/>
<circle cx="541.00" cy="227.90" r="1.65" fill="#fbe4e2" fill-opacity="0.6" stroke="#ea8a83" stroke-width="0.75"/>
<circle cx="543.40" cy="229.30" r="1.65" fill="#fbe4e2" fill-opacity="0.6" stroke="#ea8a83" stroke-width="0.75"/>
<circle cx="546.10" cy="230.70" r="1.65" fill="#fbe4e2" fill-opacity="0.6" stroke="#ea8a83" stroke-width="0.75"/>
<circle cx="548.40" cy="231.10" r="1.65" fill="#fbe4e2" fill-opacity="0.6" stroke="#ea8a83" stroke-width="0.75"/>
<circle cx="550.70" cy="230.20" r="1.65" fill="#fbe4e2" fill-opacity="0.6" stroke="#ea8a83" stroke-width="0.75"/>
<circle cx="552.10" cy="228.40" r="1.65" fill="#fbe4e2" fill-opacity="0.6" stroke="#ea8a83" stroke-width="0.75"/>
<circle cx="553.00" cy="223.80" r="1.65" fill="#fbe4e2" fill-opacity="0.6" stroke="#ea8a83" stroke-width="0.75"/>
<circle cx="554.40" cy="220.10" r="1.65" fill="#fbe4e2" fill-opacity="0.6" stroke="#ea8a83" stroke-width="0.75"/>
<circle cx="556.20" cy="219.20" r="1.65" fill="#fbe4e2" fill-opacity="0.6" stroke="#ea8a83" stroke-width="0.75"/>
<circle cx="558.10" cy="219.20" r="1.65" fill="#fbe4e2" fill-opacity="0.6" stroke="#ea8a83" stroke-width="0.75"/>
<circle cx="559.90" cy="219.60" r="1.65" fill="#fbe4e2" fill-opacity="0.6" stroke="#ea8a83" stroke-width="0.75"/>
<circle cx="561.70" cy="220.10" r="1.65" fill="#fbe4e2" fill-opacity="0.6" stroke="#ea8a83" stroke-width="0.75"/>
<circle cx="563.60" cy="220.60" r="1.65" fill="#fbe4e2" fill-opacity="0.6" stroke="#ea8a83" stroke-width="0.75"/>
<circle cx="565.40" cy="221.00" r="1.65" fill="#fbe4e2" fill-opacity="0.6" stroke="#ea8a83" stroke-width="0.75"/>
<circle cx="567.20" cy="221.50" r="1.65" fill="#fbe4e2" fill-opacity="0.6" stroke="#ea8a83" stroke-width="0.75"/>
<circle cx="569.10" cy="221.90" r="1.65" fill="#fbe4e2" fill-opacity="0.6" stroke="#ea8a83" stroke-width="0.75"/>
<circle cx="570.50" cy="221.92" r="1.65" fill="#fbe4e2" fill-opacity="0.6" stroke="#ea8a83" stroke-width="0.75"/>
<circle cx="571.95" cy="222.04" r="1.65" fill="#fbe4e2" fill-opacity="0.6" stroke="#ea8a83" stroke-width="0.75"/>
<circle cx="573.40" cy="222.10" r="1.65" fill="#fbe4e2" fill-opacity="0.6" stroke="#ea8a83" stroke-width="0.75"/>
<circle cx="574.85" cy="222.24" r="1.65" fill="#fbe4e2" fill-opacity="0.6" stroke="#ea8a83" stroke-width="0.75"/>
<circle cx="576.30" cy="222.04" r="1.65" fill="#fbe4e2" fill-opacity="0.6" stroke="#ea8a83" stroke-width="0.75"/>
<circle cx="577.75" cy="222.22" r="1.65" fill="#fbe4e2" fill-opacity="0.6" stroke="#ea8a83" stroke-width="0.75"/>
<circle cx="579.20" cy="221.33" r="1.65" fill="#fbe4e2" fill-opacity="0.6" stroke="#ea8a83" stroke-width="0.75"/>
<circle cx="580.65" cy="221.77" r="1.65" fill="#fbe4e2" fill-opacity="0.6" stroke="#ea8a83" stroke-width="0.75"/>
<circle cx="582.10" cy="222.24" r="1.65" fill="#fbe4e2" fill-opacity="0.6" stroke="#ea8a83" stroke-width="0.75"/>
<circle cx="583.55" cy="221.95" r="1.65" fill="#fbe4e2" fill-opacity="0.6" stroke="#ea8a83" stroke-width="0.75"/>
<circle cx="585.00" cy="222.20" r="1.65" fill="#fbe4e2" fill-opacity="0.6" stroke="#ea8a83" stroke-width="0.75"/>
<circle cx="586.45" cy="221.41" r="1.65" fill="#fbe4e2" fill-opacity="0.6" stroke="#ea8a83" stroke-width="0.75"/>
<circle cx="587.90" cy="221.77" r="1.65" fill="#fbe4e2" fill-opacity="0.6" stroke="#ea8a83" stroke-width="0.75"/>
<circle cx="589.35" cy="221.92" r="1.65" fill="#fbe4e2" fill-opacity="0.6" stroke="#ea8a83" stroke-width="0.75"/>
<circle cx="590.80" cy="222.59" r="1.65" fill="#fbe4e2" fill-opacity="0.6" stroke="#ea8a83" stroke-width="0.75"/>
<circle cx="592.25" cy="222.99" r="1.65" fill="#fbe4e2" fill-opacity="0.6" stroke="#ea8a83" stroke-width="0.75"/>
<circle cx="593.70" cy="222.80" r="1.65" fill="#fbe4e2" fill-opacity="0.6" stroke="#ea8a83" stroke-width="0.75"/>
<circle cx="595.15" cy="223.38" r="1.65" fill="#fbe4e2" fill-opacity="0.6" stroke="#ea8a83" stroke-width="0.75"/>
<circle cx="596.60" cy="223.81" r="1.65" fill="#fbe4e2" fill-opacity="0.6" stroke="#ea8a83" stroke-width="0.75"/>
<circle cx="598.05" cy="224.82" r="1.65" fill="#fbe4e2" fill-opacity="0.6" stroke="#ea8a83" stroke-width="0.75"/>
<circle cx="599.50" cy="225.04" r="1.65" fill="#fbe4e2" fill-opacity="0.6" stroke="#ea8a83" stroke-width="0.75"/>
<circle cx="600.95" cy="224.81" r="1.65" fill="#fbe4e2" fill-opacity="0.6" stroke="#ea8a83" stroke-width="0.75"/>
<circle cx="602.40" cy="225.82" r="1.65" fill="#fbe4e2" fill-opacity="0.6" stroke="#ea8a83" stroke-width="0.75"/>
<circle cx="603.85" cy="225.53" r="1.65" fill="#fbe4e2" fill-opacity="0.6" stroke="#ea8a83" stroke-width="0.75"/>
<circle cx="605.30" cy="226.38" r="1.65" fill="#fbe4e2" fill-opacity="0.6" stroke="#ea8a83" stroke-width="0.75"/>
<circle cx="606.75" cy="226.27" r="1.65" fill="#fbe4e2" fill-opacity="0.6" stroke="#ea8a83" stroke-width="0.75"/>
<circle cx="608.20" cy="226.51" r="1.65" fill="#fbe4e2" fill-opacity="0.6" stroke="#ea8a83" stroke-width="0.75"/>
<circle cx="609.65" cy="227.75" r="1.65" fill="#fbe4e2" fill-opacity="0.6" stroke="#ea8a83" stroke-width="0.75"/>
<circle cx="611.10" cy="227.46" r="1.65" fill="#fbe4e2" fill-opacity="0.6" stroke="#ea8a83" stroke-width="0.75"/>
<circle cx="612.55" cy="227.84" r="1.65" fill="#fbe4e2" fill-opacity="0.6" stroke="#ea8a83" stroke-width="0.75"/>
<circle cx="614.00" cy="228.98" r="1.65" fill="#fbe4e2" fill-opacity="0.6" stroke="#ea8a83" stroke-width="0.75"/>
<circle cx="615.45" cy="229.24" r="1.65" fill="#fbe4e2" fill-opacity="0.6" stroke="#ea8a83" stroke-width="0.75"/>
<circle cx="616.90" cy="229.03" r="1.65" fill="#fbe4e2" fill-opacity="0.6" stroke="#ea8a83" stroke-width="0.75"/>
<circle cx="618.35" cy="230.08" r="1.65" fill="#fbe4e2" fill-opacity="0.6" stroke="#ea8a83" stroke-width="0.75"/>
<circle cx="619.80" cy="230.03" r="1.65" fill="#fbe4e2" fill-opacity="0.6" stroke="#ea8a83" stroke-width="0.75"/>
<circle cx="621.25" cy="230.54" r="1.65" fill="#fbe4e2" fill-opacity="0.6" stroke="#ea8a83" stroke-width="0.75"/>
<circle cx="622.70" cy="230.44" r="1.65" fill="#fbe4e2" fill-opacity="0.6" stroke="#ea8a83" stroke-width="0.75"/>
<circle cx="624.15" cy="231.54" r="1.65" fill="#fbe4e2" fill-opacity="0.6" stroke="#ea8a83" stroke-width="0.75"/>
<circle cx="625.60" cy="231.67" r="1.65" fill="#fbe4e2" fill-opacity="0.6" stroke="#ea8a83" stroke-width="0.75"/>
<circle cx="627.05" cy="232.31" r="1.65" fill="#fbe4e2" fill-opacity="0.6" stroke="#ea8a83" stroke-width="0.75"/>
<circle cx="628.50" cy="232.61" r="1.65" fill="#fbe4e2" fill-opacity="0.6" stroke="#ea8a83" stroke-width="0.75"/>
<circle cx="629.95" cy="232.39" r="1.65" fill="#fbe4e2" fill-opacity="0.6" stroke="#ea8a83" stroke-width="0.75"/>
<circle cx="631.40" cy="232.82" r="1.65" fill="#fbe4e2" fill-opacity="0.6" stroke="#ea8a83" stroke-width="0.75"/>
<circle cx="632.85" cy="233.00" r="1.65" fill="#fbe4e2" fill-opacity="0.6" stroke="#ea8a83" stroke-width="0.75"/>
<circle cx="634.30" cy="233.35" r="1.65" fill="#fbe4e2" fill-opacity="0.6" stroke="#ea8a83" stroke-width="0.75"/>
<circle cx="635.75" cy="233.64" r="1.65" fill="#fbe4e2" fill-opacity="0.6" stroke="#ea8a83" stroke-width="0.75"/>
<circle cx="637.20" cy="234.25" r="1.65" fill="#fbe4e2" fill-opacity="0.6" stroke="#ea8a83" stroke-width="0.75"/>
<polyline points="512.70,218.00 529.20,234.50 545.00,229.50 561.20,224.70 576.50,225.40 593.00,230.30 611.60,232.70 625.70,236.00 639.10,238.80" fill="none" stroke="#f0811c" stroke-width="1.2" stroke-linejoin="round"/>
<circle cx="512.70" cy="218.00" r="1.8" fill="#fbe4e2" stroke="#ee9a88" stroke-width="0.75"/>
<circle cx="529.20" cy="234.50" r="1.8" fill="#fbe4e2" stroke="#ee9a88" stroke-width="0.75"/>
<circle cx="545.00" cy="229.50" r="1.8" fill="#fbe4e2" stroke="#ee9a88" stroke-width="0.75"/>
<circle cx="561.20" cy="224.70" r="1.8" fill="#fbe4e2" stroke="#ee9a88" stroke-width="0.75"/>
<circle cx="576.50" cy="225.40" r="1.8" fill="#fbe4e2" stroke="#ee9a88" stroke-width="0.75"/>
<circle cx="593.00" cy="230.30" r="1.8" fill="#fbe4e2" stroke="#ee9a88" stroke-width="0.75"/>
<circle cx="611.60" cy="232.70" r="1.8" fill="#fbe4e2" stroke="#ee9a88" stroke-width="0.75"/>
<circle cx="625.70" cy="236.00" r="1.8" fill="#fbe4e2" stroke="#ee9a88" stroke-width="0.75"/>
<circle cx="639.16" cy="224.00" r="1.75" fill="#e44036" stroke="#e0302a" stroke-width="0.8"/>
<circle cx="638.80" cy="224.82" r="1.75" fill="#e44036" stroke="#e0302a" stroke-width="0.8"/>
<circle cx="639.21" cy="225.64" r="1.75" fill="#e44036" stroke="#e0302a" stroke-width="0.8"/>
<circle cx="639.00" cy="226.46" r="1.75" fill="#e44036" stroke="#e0302a" stroke-width="0.8"/>
<circle cx="638.99" cy="227.28" r="1.75" fill="#e44036" stroke="#e0302a" stroke-width="0.8"/>
<circle cx="639.29" cy="228.10" r="1.75" fill="#e44036" stroke="#e0302a" stroke-width="0.8"/>
<circle cx="639.09" cy="228.92" r="1.75" fill="#e44036" stroke="#e0302a" stroke-width="0.8"/>
<circle cx="638.99" cy="229.74" r="1.75" fill="#e44036" stroke="#e0302a" stroke-width="0.8"/>
<circle cx="639.09" cy="230.56" r="1.75" fill="#e44036" stroke="#e0302a" stroke-width="0.8"/>
<circle cx="639.22" cy="231.38" r="1.75" fill="#e44036" stroke="#e0302a" stroke-width="0.8"/>
<circle cx="638.83" cy="232.20" r="1.75" fill="#e44036" stroke="#e0302a" stroke-width="0.8"/>
<circle cx="639.39" cy="233.02" r="1.75" fill="#e44036" stroke="#e0302a" stroke-width="0.8"/>
<circle cx="638.81" cy="233.84" r="1.75" fill="#e44036" stroke="#e0302a" stroke-width="0.8"/>
<circle cx="639.25" cy="234.66" r="1.75" fill="#e44036" stroke="#e0302a" stroke-width="0.8"/>
<circle cx="639.31" cy="235.48" r="1.75" fill="#e44036" stroke="#e0302a" stroke-width="0.8"/>
<circle cx="638.81" cy="236.30" r="1.75" fill="#e44036" stroke="#e0302a" stroke-width="0.8"/>
<circle cx="639.27" cy="237.12" r="1.75" fill="#e44036" stroke="#e0302a" stroke-width="0.8"/>
<circle cx="639.02" cy="237.94" r="1.75" fill="#e44036" stroke="#e0302a" stroke-width="0.8"/>
<circle cx="639.15" cy="238.76" r="1.75" fill="#e44036" stroke="#e0302a" stroke-width="0.8"/>
<circle cx="638.81" cy="239.58" r="1.75" fill="#e44036" stroke="#e0302a" stroke-width="0.8"/>
<circle cx="638.83" cy="240.40" r="1.75" fill="#e44036" stroke="#e0302a" stroke-width="0.8"/>
<circle cx="638.91" cy="241.22" r="1.75" fill="#e44036" stroke="#e0302a" stroke-width="0.8"/>
<line x1="614.70" y1="219.70" x2="594.28" y2="212.36" stroke="#111" stroke-width="1"/>
<polygon points="589.10,210.50 596.03,210.44 593.81,212.19 594.41,214.96" fill="#111"/>
<line x1="580.50" y1="233.10" x2="604.49" y2="239.65" stroke="#111" stroke-width="1"/>
<polygon points="609.80,241.10 602.90,241.70 604.98,239.78 604.16,237.07" fill="#111"/>
<line x1="495.40" y1="175.60" x2="648.60" y2="175.60" stroke="#222" stroke-width="1"/>
<line x1="495.40" y1="302.20" x2="648.60" y2="302.20" stroke="#222" stroke-width="1"/>
<line x1="495.40" y1="175.10" x2="495.40" y2="302.70" stroke="#222" stroke-width="1"/>
<line x1="648.60" y1="175.10" x2="648.60" y2="302.70" stroke="#222" stroke-width="1"/>
<line x1="496.70" y1="302.20" x2="496.70" y2="300.20" stroke="#222" stroke-width="0.9"/>
<line x1="496.70" y1="175.60" x2="496.70" y2="177.60" stroke="#222" stroke-width="0.9"/>
<line x1="503.94" y1="302.20" x2="503.94" y2="300.20" stroke="#222" stroke-width="0.9"/>
<line x1="503.94" y1="175.60" x2="503.94" y2="177.60" stroke="#222" stroke-width="0.9"/>
<line x1="511.19" y1="302.20" x2="511.19" y2="300.20" stroke="#222" stroke-width="0.9"/>
<line x1="511.19" y1="175.60" x2="511.19" y2="177.60" stroke="#222" stroke-width="0.9"/>
<line x1="518.43" y1="302.20" x2="518.43" y2="300.20" stroke="#222" stroke-width="0.9"/>
<line x1="518.43" y1="175.60" x2="518.43" y2="177.60" stroke="#222" stroke-width="0.9"/>
<line x1="525.68" y1="302.20" x2="525.68" y2="300.20" stroke="#222" stroke-width="0.9"/>
<line x1="525.68" y1="175.60" x2="525.68" y2="177.60" stroke="#222" stroke-width="0.9"/>
<line x1="532.92" y1="302.20" x2="532.92" y2="300.20" stroke="#222" stroke-width="0.9"/>
<line x1="532.92" y1="175.60" x2="532.92" y2="177.60" stroke="#222" stroke-width="0.9"/>
<line x1="540.17" y1="302.20" x2="540.17" y2="300.20" stroke="#222" stroke-width="0.9"/>
<line x1="540.17" y1="175.60" x2="540.17" y2="177.60" stroke="#222" stroke-width="0.9"/>
<line x1="547.41" y1="302.20" x2="547.41" y2="300.20" stroke="#222" stroke-width="0.9"/>
<line x1="547.41" y1="175.60" x2="547.41" y2="177.60" stroke="#222" stroke-width="0.9"/>
<line x1="554.66" y1="302.20" x2="554.66" y2="300.20" stroke="#222" stroke-width="0.9"/>
<line x1="554.66" y1="175.60" x2="554.66" y2="177.60" stroke="#222" stroke-width="0.9"/>
<line x1="561.90" y1="302.20" x2="561.90" y2="300.20" stroke="#222" stroke-width="0.9"/>
<line x1="561.90" y1="175.60" x2="561.90" y2="177.60" stroke="#222" stroke-width="0.9"/>
<line x1="569.15" y1="302.20" x2="569.15" y2="300.20" stroke="#222" stroke-width="0.9"/>
<line x1="569.15" y1="175.60" x2="569.15" y2="177.60" stroke="#222" stroke-width="0.9"/>
<line x1="576.39" y1="302.20" x2="576.39" y2="300.20" stroke="#222" stroke-width="0.9"/>
<line x1="576.39" y1="175.60" x2="576.39" y2="177.60" stroke="#222" stroke-width="0.9"/>
<line x1="583.64" y1="302.20" x2="583.64" y2="300.20" stroke="#222" stroke-width="0.9"/>
<line x1="583.64" y1="175.60" x2="583.64" y2="177.60" stroke="#222" stroke-width="0.9"/>
<line x1="590.88" y1="302.20" x2="590.88" y2="300.20" stroke="#222" stroke-width="0.9"/>
<line x1="590.88" y1="175.60" x2="590.88" y2="177.60" stroke="#222" stroke-width="0.9"/>
<line x1="598.13" y1="302.20" x2="598.13" y2="300.20" stroke="#222" stroke-width="0.9"/>
<line x1="598.13" y1="175.60" x2="598.13" y2="177.60" stroke="#222" stroke-width="0.9"/>
<line x1="605.38" y1="302.20" x2="605.38" y2="300.20" stroke="#222" stroke-width="0.9"/>
<line x1="605.38" y1="175.60" x2="605.38" y2="177.60" stroke="#222" stroke-width="0.9"/>
<line x1="612.62" y1="302.20" x2="612.62" y2="300.20" stroke="#222" stroke-width="0.9"/>
<line x1="612.62" y1="175.60" x2="612.62" y2="177.60" stroke="#222" stroke-width="0.9"/>
<line x1="619.87" y1="302.20" x2="619.87" y2="300.20" stroke="#222" stroke-width="0.9"/>
<line x1="619.87" y1="175.60" x2="619.87" y2="177.60" stroke="#222" stroke-width="0.9"/>
<line x1="627.11" y1="302.20" x2="627.11" y2="300.20" stroke="#222" stroke-width="0.9"/>
<line x1="627.11" y1="175.60" x2="627.11" y2="177.60" stroke="#222" stroke-width="0.9"/>
<line x1="634.36" y1="302.20" x2="634.36" y2="300.20" stroke="#222" stroke-width="0.9"/>
<line x1="634.36" y1="175.60" x2="634.36" y2="177.60" stroke="#222" stroke-width="0.9"/>
<line x1="641.60" y1="302.20" x2="641.60" y2="300.20" stroke="#222" stroke-width="0.9"/>
<line x1="641.60" y1="175.60" x2="641.60" y2="177.60" stroke="#222" stroke-width="0.9"/>
<line x1="648.85" y1="302.20" x2="648.85" y2="300.20" stroke="#222" stroke-width="0.9"/>
<line x1="648.85" y1="175.60" x2="648.85" y2="177.60" stroke="#222" stroke-width="0.9"/>
<line x1="496.70" y1="302.20" x2="496.70" y2="299.00" stroke="#222" stroke-width="0.9"/>
<line x1="496.70" y1="175.60" x2="496.70" y2="178.80" stroke="#222" stroke-width="0.9"/>
<text x="496.7" y="314.3" font-size="10.8" fill="#1a1a1a" text-anchor="middle">0</text>
<line x1="525.68" y1="302.20" x2="525.68" y2="299.00" stroke="#222" stroke-width="0.9"/>
<line x1="525.68" y1="175.60" x2="525.68" y2="178.80" stroke="#222" stroke-width="0.9"/>
<text x="525.68" y="314.3" font-size="10.8" fill="#1a1a1a" text-anchor="middle">2</text>
<line x1="554.66" y1="302.20" x2="554.66" y2="299.00" stroke="#222" stroke-width="0.9"/>
<line x1="554.66" y1="175.60" x2="554.66" y2="178.80" stroke="#222" stroke-width="0.9"/>
<text x="554.66" y="314.3" font-size="10.8" fill="#1a1a1a" text-anchor="middle">4</text>
<line x1="583.64" y1="302.20" x2="583.64" y2="299.00" stroke="#222" stroke-width="0.9"/>
<line x1="583.64" y1="175.60" x2="583.64" y2="178.80" stroke="#222" stroke-width="0.9"/>
<text x="583.64" y="314.3" font-size="10.8" fill="#1a1a1a" text-anchor="middle">6</text>
<line x1="612.62" y1="302.20" x2="612.62" y2="299.00" stroke="#222" stroke-width="0.9"/>
<line x1="612.62" y1="175.60" x2="612.62" y2="178.80" stroke="#222" stroke-width="0.9"/>
<text x="612.62" y="314.3" font-size="10.8" fill="#1a1a1a" text-anchor="middle">8</text>
<line x1="641.60" y1="302.20" x2="641.60" y2="299.00" stroke="#222" stroke-width="0.9"/>
<line x1="641.60" y1="175.60" x2="641.60" y2="178.80" stroke="#222" stroke-width="0.9"/>
<text x="641.6" y="314.3" font-size="10.8" fill="#1a1a1a" text-anchor="middle">10</text>
<line x1="495.40" y1="302.20" x2="497.40" y2="302.20" stroke="#222" stroke-width="0.9"/>
<line x1="495.40" y1="297.14" x2="497.40" y2="297.14" stroke="#222" stroke-width="0.9"/>
<line x1="495.40" y1="292.07" x2="497.40" y2="292.07" stroke="#222" stroke-width="0.9"/>
<line x1="495.40" y1="287.01" x2="497.40" y2="287.01" stroke="#222" stroke-width="0.9"/>
<line x1="495.40" y1="281.94" x2="497.40" y2="281.94" stroke="#222" stroke-width="0.9"/>
<line x1="495.40" y1="276.88" x2="497.40" y2="276.88" stroke="#222" stroke-width="0.9"/>
<line x1="495.40" y1="271.82" x2="497.40" y2="271.82" stroke="#222" stroke-width="0.9"/>
<line x1="495.40" y1="266.75" x2="497.40" y2="266.75" stroke="#222" stroke-width="0.9"/>
<line x1="495.40" y1="261.69" x2="497.40" y2="261.69" stroke="#222" stroke-width="0.9"/>
<line x1="495.40" y1="256.62" x2="497.40" y2="256.62" stroke="#222" stroke-width="0.9"/>
<line x1="495.40" y1="251.56" x2="497.40" y2="251.56" stroke="#222" stroke-width="0.9"/>
<line x1="495.40" y1="246.50" x2="497.40" y2="246.50" stroke="#222" stroke-width="0.9"/>
<line x1="495.40" y1="241.43" x2="497.40" y2="241.43" stroke="#222" stroke-width="0.9"/>
<line x1="495.40" y1="236.37" x2="497.40" y2="236.37" stroke="#222" stroke-width="0.9"/>
<line x1="495.40" y1="231.30" x2="497.40" y2="231.30" stroke="#222" stroke-width="0.9"/>
<line x1="495.40" y1="226.24" x2="497.40" y2="226.24" stroke="#222" stroke-width="0.9"/>
<line x1="495.40" y1="221.18" x2="497.40" y2="221.18" stroke="#222" stroke-width="0.9"/>
<line x1="495.40" y1="216.11" x2="497.40" y2="216.11" stroke="#222" stroke-width="0.9"/>
<line x1="495.40" y1="211.05" x2="497.40" y2="211.05" stroke="#222" stroke-width="0.9"/>
<line x1="495.40" y1="205.98" x2="497.40" y2="205.98" stroke="#222" stroke-width="0.9"/>
<line x1="495.40" y1="200.92" x2="497.40" y2="200.92" stroke="#222" stroke-width="0.9"/>
<line x1="495.40" y1="195.86" x2="497.40" y2="195.86" stroke="#222" stroke-width="0.9"/>
<line x1="495.40" y1="190.79" x2="497.40" y2="190.79" stroke="#222" stroke-width="0.9"/>
<line x1="495.40" y1="185.73" x2="497.40" y2="185.73" stroke="#222" stroke-width="0.9"/>
<line x1="495.40" y1="180.66" x2="497.40" y2="180.66" stroke="#222" stroke-width="0.9"/>
<line x1="495.40" y1="175.60" x2="497.40" y2="175.60" stroke="#222" stroke-width="0.9"/>
<line x1="495.40" y1="302.20" x2="498.60" y2="302.20" stroke="#222" stroke-width="0.9"/>
<text x="492.5" y="305.3" font-size="11" fill="#1a1a1a" text-anchor="end">3.3</text>
<line x1="495.40" y1="276.88" x2="498.60" y2="276.88" stroke="#222" stroke-width="0.9"/>
<text x="492.5" y="279.98" font-size="11" fill="#1a1a1a" text-anchor="end">3.4</text>
<line x1="495.40" y1="251.56" x2="498.60" y2="251.56" stroke="#222" stroke-width="0.9"/>
<text x="492.5" y="254.66" font-size="11" fill="#1a1a1a" text-anchor="end">3.5</text>
<line x1="495.40" y1="226.24" x2="498.60" y2="226.24" stroke="#222" stroke-width="0.9"/>
<text x="492.5" y="229.34" font-size="11" fill="#1a1a1a" text-anchor="end">3.6</text>
<line x1="495.40" y1="200.92" x2="498.60" y2="200.92" stroke="#222" stroke-width="0.9"/>
<text x="492.5" y="204.02" font-size="11" fill="#1a1a1a" text-anchor="end">3.7</text>
<line x1="495.40" y1="175.60" x2="498.60" y2="175.60" stroke="#222" stroke-width="0.9"/>
<text x="492.5" y="178.7" font-size="11" fill="#1a1a1a" text-anchor="end">3.8</text>
<line x1="648.60" y1="302.20" x2="646.60" y2="302.20" stroke="#222" stroke-width="0.9"/>
<line x1="648.60" y1="297.14" x2="646.60" y2="297.14" stroke="#222" stroke-width="0.9"/>
<line x1="648.60" y1="292.07" x2="646.60" y2="292.07" stroke="#222" stroke-width="0.9"/>
<line x1="648.60" y1="287.01" x2="646.60" y2="287.01" stroke="#222" stroke-width="0.9"/>
<line x1="648.60" y1="281.94" x2="646.60" y2="281.94" stroke="#222" stroke-width="0.9"/>
<line x1="648.60" y1="276.88" x2="646.60" y2="276.88" stroke="#222" stroke-width="0.9"/>
<line x1="648.60" y1="271.82" x2="646.60" y2="271.82" stroke="#222" stroke-width="0.9"/>
<line x1="648.60" y1="266.75" x2="646.60" y2="266.75" stroke="#222" stroke-width="0.9"/>
<line x1="648.60" y1="261.69" x2="646.60" y2="261.69" stroke="#222" stroke-width="0.9"/>
<line x1="648.60" y1="256.62" x2="646.60" y2="256.62" stroke="#222" stroke-width="0.9"/>
<line x1="648.60" y1="251.56" x2="646.60" y2="251.56" stroke="#222" stroke-width="0.9"/>
<line x1="648.60" y1="246.50" x2="646.60" y2="246.50" stroke="#222" stroke-width="0.9"/>
<line x1="648.60" y1="241.43" x2="646.60" y2="241.43" stroke="#222" stroke-width="0.9"/>
<line x1="648.60" y1="236.37" x2="646.60" y2="236.37" stroke="#222" stroke-width="0.9"/>
<line x1="648.60" y1="231.30" x2="646.60" y2="231.30" stroke="#222" stroke-width="0.9"/>
<line x1="648.60" y1="226.24" x2="646.60" y2="226.24" stroke="#222" stroke-width="0.9"/>
<line x1="648.60" y1="221.18" x2="646.60" y2="221.18" stroke="#222" stroke-width="0.9"/>
<line x1="648.60" y1="216.11" x2="646.60" y2="216.11" stroke="#222" stroke-width="0.9"/>
<line x1="648.60" y1="211.05" x2="646.60" y2="211.05" stroke="#222" stroke-width="0.9"/>
<line x1="648.60" y1="205.98" x2="646.60" y2="205.98" stroke="#222" stroke-width="0.9"/>
<line x1="648.60" y1="200.92" x2="646.60" y2="200.92" stroke="#222" stroke-width="0.9"/>
<line x1="648.60" y1="195.86" x2="646.60" y2="195.86" stroke="#222" stroke-width="0.9"/>
<line x1="648.60" y1="190.79" x2="646.60" y2="190.79" stroke="#222" stroke-width="0.9"/>
<line x1="648.60" y1="185.73" x2="646.60" y2="185.73" stroke="#222" stroke-width="0.9"/>
<line x1="648.60" y1="180.66" x2="646.60" y2="180.66" stroke="#222" stroke-width="0.9"/>
<line x1="648.60" y1="175.60" x2="646.60" y2="175.60" stroke="#222" stroke-width="0.9"/>
<line x1="648.60" y1="302.20" x2="645.40" y2="302.20" stroke="#222" stroke-width="0.9"/>
<line x1="648.60" y1="276.88" x2="645.40" y2="276.88" stroke="#222" stroke-width="0.9"/>
<line x1="648.60" y1="251.56" x2="645.40" y2="251.56" stroke="#222" stroke-width="0.9"/>
<line x1="648.60" y1="226.24" x2="645.40" y2="226.24" stroke="#222" stroke-width="0.9"/>
<line x1="648.60" y1="200.92" x2="645.40" y2="200.92" stroke="#222" stroke-width="0.9"/>
<line x1="648.60" y1="175.60" x2="645.40" y2="175.60" stroke="#222" stroke-width="0.9"/>
<text x="574.6" y="324.8" font-size="12.3" fill="#1a1a1a" text-anchor="middle">Pressure / GPa</text>
<text x="467.7" y="259.6" font-size="11.8" fill="#1a1a1a" transform="rotate(-90 467.7 259.6)"><tspan font-style="italic">d</tspan><tspan font-size="7.7" dy="3.9">001</tspan><tspan dy="-3.9"> / Å</tspan></text>
</svg></body></html>
